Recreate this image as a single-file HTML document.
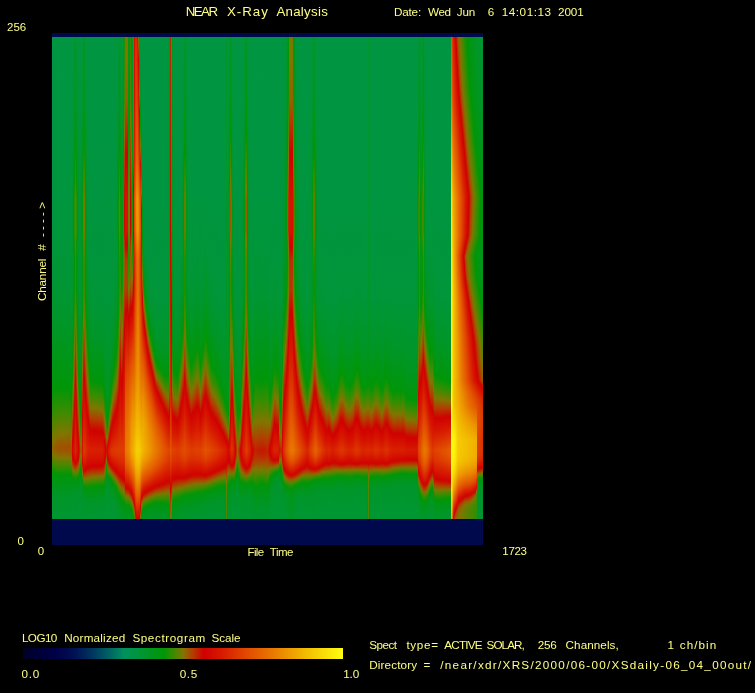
<!DOCTYPE html>
<html><head><meta charset="utf-8"><title>NEAR X-Ray Analysis</title>
<style>
html,body{margin:0;padding:0;background:#000}
body{width:755px;height:693px;position:relative;overflow:hidden;font-family:"Liberation Sans",sans-serif;color:#ffff84}
.t{position:absolute;white-space:pre;line-height:1}
.w{display:inline-block;white-space:pre;vertical-align:top}
#sp{position:absolute;left:52px;top:33px;width:431px;height:512px;background:#00094c;display:flex;align-items:flex-start}
#sp i{display:block;flex:none;width:1px;height:482px;margin-top:4px}
#cb{position:absolute;left:23px;top:648px;width:320px;height:11px;background:linear-gradient(90deg,#000028 0.0%,#000048 10.0%,#001054 16.0%,#003860 22.0%,#006464 27.0%,#00915f 31.5%,#00963c 36.0%,#00961e 40.0%,#009608 44.0%,#3c8c00 47.0%,#807600 50.0%,#b43c00 53.0%,#d00000 56.5%,#d71900 62.0%,#e14b00 70.0%,#e87800 78.0%,#f2b900 88.0%,#ffff10 100.0%)}
</style></head><body>
<div id="sp"><i style="background:linear-gradient(#009542 1px,#00963f 163px,#009636 239px,#00962d 275px,#009609 353px,#149305 363px,#408b00 381px,#7e7700 403px,#8f6500 411px,#867000 415px,#737a00 419px,#3e8b00 427px,#079507 435px,#00960a 437px,#009617 445px,#009628 459px,#009632 481px)"></i><i style="background:linear-gradient(#009542 1px,#00963f 163px,#009636 241px,#00962c 277px,#009608 353px,#3d8c00 379px,#7c7700 401px,#906400 409px,#926200 411px,#896c00 415px,#777900 419px,#418a00 427px,#0a9407 435px,#009609 437px,#009617 445px,#009628 459px,#009632 481px)"></i><i style="background:linear-gradient(#009542 1px,#00963f 163px,#009636 241px,#00962c 277px,#019608 353px,#3a8c00 377px,#6d7c00 395px,#7f7600 401px,#936100 409px,#955f00 411px,#8b6900 415px,#7b7800 419px,#368d01 429px,#009608 437px,#009616 445px,#009628 459px,#009632 481px)"></i><i style="background:linear-gradient(#009542 1px,#00963f 163px,#009636 239px,#00962d 275px,#009609 351px,#328e01 373px,#707b00 395px,#827400 401px,#965e00 409px,#985c00 411px,#8e6600 415px,#7e7700 419px,#398d00 429px,#019608 437px,#009616 445px,#009627 459px,#009632 481px)"></i><i style="background:linear-gradient(#009542 1px,#00963f 163px,#009636 239px,#00962d 275px,#009608 351px,#398c00 375px,#807600 399px,#995a00 409px,#9b5800 411px,#916300 415px,#827400 419px,#697e00 423px,#3c8c00 429px,#039508 437px,#00960b 439px,#009627 459px,#009632 481px)"></i><i style="background:linear-gradient(#009542 1px,#00963f 163px,#009636 239px,#00962d 275px,#019608 351px,#3b8c00 375px,#7d7700 397px,#9c5700 409px,#9e5500 411px,#945f00 415px,#7a7800 421px,#3f8b00 429px,#069507 437px,#00960a 439px,#009627 459px,#009632 481px)"></i><i style="background:linear-gradient(#009542 1px,#00963f 163px,#009636 239px,#00962d 275px,#009609 349px,#069507 353px,#378d01 373px,#7f7600 397px,#9e5500 409px,#a05300 411px,#965d00 415px,#7c7700 421px,#418a00 429px,#079507 437px,#00960a 439px,#009627 459px,#009632 481px)"></i><i style="background:linear-gradient(#009542 1px,#00963f 163px,#009636 239px,#00962d 275px,#009609 349px,#059507 353px,#378d01 373px,#7f7600 397px,#9e5400 409px,#a05200 411px,#975d00 415px,#7c7700 421px,#418a00 429px,#079507 437px,#00960a 439px,#009627 459px,#009632 481px)"></i><i style="background:linear-gradient(#009542 1px,#00963f 163px,#009636 241px,#00962c 277px,#019608 351px,#3c8c00 375px,#807600 397px,#9f5400 409px,#a15200 411px,#975c00 415px,#7d7700 421px,#418a00 429px,#079507 437px,#00960a 439px,#009627 459px,#009632 481px)"></i><i style="background:linear-gradient(#009542 1px,#00963f 163px,#009636 241px,#00962c 277px,#009608 351px,#3c8c00 375px,#807600 397px,#9f5300 409px,#a15100 411px,#975c00 415px,#7d7700 421px,#418a00 429px,#069507 437px,#00960a 439px,#009627 459px,#009632 481px)"></i><i style="background:linear-gradient(#009542 1px,#00963f 163px,#009636 241px,#00962d 277px,#009608 351px,#3c8c00 375px,#807600 397px,#a05300 409px,#a25100 411px,#985b00 415px,#7d7700 421px,#418a00 429px,#069507 437px,#00960a 439px,#009627 459px,#009632 481px)"></i><i style="background:linear-gradient(#009542 1px,#00963f 163px,#009637 241px,#00962c 279px,#009608 351px,#3c8c00 375px,#7a7800 395px,#807500 397px,#a05200 409px,#a25000 411px,#985b00 415px,#7e7700 421px,#418a00 429px,#069507 437px,#00960a 439px,#009627 459px,#009632 481px)"></i><i style="background:linear-gradient(#009542 1px,#00963f 163px,#009636 243px,#00962c 279px,#009608 351px,#3c8c00 375px,#7a7800 395px,#817500 397px,#a15200 409px,#a34f00 411px,#995a00 415px,#7e7700 421px,#418a00 429px,#069507 437px,#00960a 439px,#009627 459px,#009632 481px)"></i><i style="background:linear-gradient(#009542 1px,#00963f 163px,#009636 243px,#00962b 281px,#009608 351px,#3c8c00 375px,#7b7800 395px,#817500 397px,#a15100 409px,#a34f00 411px,#995a00 415px,#7e7700 421px,#418a00 429px,#059507 437px,#00960b 439px,#009628 459px,#009632 481px)"></i><i style="background:linear-gradient(#009542 1px,#00963f 163px,#009637 243px,#00962c 281px,#009608 351px,#3c8c00 375px,#7b7800 395px,#817500 397px,#a25100 409px,#a44e00 411px,#9a5900 415px,#7f7600 421px,#418a00 429px,#059507 437px,#00960b 439px,#009628 459px,#009632 481px)"></i><i style="background:linear-gradient(#009542 1px,#00963f 163px,#009637 243px,#00962c 281px,#009608 351px,#3c8c00 375px,#7b7800 395px,#a25000 409px,#a44e00 411px,#9a5900 415px,#7f7600 421px,#418a00 429px,#059507 437px,#00960b 439px,#009628 459px,#009632 481px)"></i><i style="background:linear-gradient(#009542 1px,#00963f 163px,#009636 245px,#00962b 283px,#009609 351px,#119306 359px,#3c8c00 375px,#7c7700 395px,#a34f00 409px,#a54d00 411px,#9b5800 415px,#7f7600 421px,#418a00 429px,#049507 437px,#00960b 439px,#009628 459px,#009632 481px)"></i><i style="background:linear-gradient(#009542 1px,#00963f 163px,#009636 245px,#00962b 283px,#009609 351px,#0c9406 357px,#3c8c00 375px,#7c7700 395px,#a34f00 409px,#a54d00 411px,#9b5800 415px,#807600 421px,#418a00 429px,#049507 437px,#00960b 439px,#009628 459px,#009632 481px)"></i><i style="background:linear-gradient(#009542 1px,#00963e 151px,#009636 253px,#009629 293px,#009609 355px,#0d9406 361px,#398d00 377px,#7c7700 397px,#a64b00 411px,#9e5500 415px,#837300 421px,#448900 429px,#049507 437px,#00960b 439px,#009629 459px,#009632 481px)"></i><i style="background:linear-gradient(#009541 1px,#009636 263px,#009625 311px,#009609 363px,#149305 371px,#3f8b00 385px,#7c7700 401px,#a64b00 413px,#9c5600 417px,#7e7700 423px,#388d01 431px,#059507 437px,#00960b 439px,#00961a 447px,#00962a 459px,#009633 481px)"></i><i style="background:linear-gradient(#009540 1px,#00963b 93px,#009630 163px,#009631 253px,#009626 283px,#019608 337px,#3e8c00 357px,#7f7600 373px,#b04000 387px,#ce0500 403px,#d00100 405px,#d30900 413px,#d10200 419px,#cd0600 421px,#b33d00 427px,#886d00 431px,#6e7c00 433px,#348d01 437px,#039508 441px,#009617 447px,#009629 457px,#00962f 465px,#009633 481px)"></i><i style="background:linear-gradient(#00963c 1px,#009633 83px,#00961a 163px,#009619 193px,#009620 223px,#00961d 251px,#009608 299px,#398c00 325px,#817500 349px,#b43b00 369px,#d00000 391px,#d51100 413px,#d40d00 417px,#d00000 423px,#c71300 425px,#af4200 429px,#7c7700 433px,#3b8c00 437px,#059507 441px,#00960d 443px,#009620 451px,#00962a 457px,#009632 481px)"></i><i style="background:linear-gradient(#009631 1px,#009627 63px,#009608 141px,#298f02 163px,#2d8e02 193px,#119306 209px,#009608 223px,#009608 239px,#059507 253px,#3b8c00 285px,#7e7700 315px,#b53b00 343px,#d00000 371px,#d71b00 413px,#d51200 419px,#d00100 425px,#c71400 427px,#ba2e00 429px,#a74b00 431px,#8b6a00 433px,#6a7d00 435px,#468900 437px,#0a9407 441px,#00960d 443px,#00961c 449px,#009629 457px,#009631 481px)"></i><i style="background:linear-gradient(#009628 1px,#00961b 63px,#009608 107px,#398d00 137px,#7a7800 163px,#7e7700 193px,#5a8200 209px,#428a00 223px,#428a00 237px,#478800 251px,#5a8200 263px,#7f7600 281px,#b43c00 313px,#d00000 347px,#d71800 393px,#da2700 413px,#d82000 417px,#d00100 427px,#b63700 431px,#7b7800 435px,#308e02 439px,#119306 441px,#00960b 443px,#00961b 449px,#009627 457px,#009630 481px)"></i><i style="background:linear-gradient(#009631 1px,#009627 63px,#009608 141px,#298f02 163px,#2d8e02 193px,#119306 209px,#009608 223px,#009608 239px,#059507 253px,#3b8c00 285px,#7e7700 315px,#b53b00 343px,#d00000 371px,#d71b00 413px,#d51200 419px,#d00100 425px,#c71400 427px,#ba2e00 429px,#a74b00 431px,#8b6a00 433px,#6a7d00 435px,#468900 437px,#0a9407 441px,#00960d 443px,#00961c 449px,#009629 457px,#009631 481px)"></i><i style="background:linear-gradient(#00963c 1px,#009633 83px,#00961a 163px,#009619 193px,#009620 223px,#00961d 251px,#009608 299px,#398c00 325px,#817500 349px,#b43b00 369px,#d00000 391px,#d51100 413px,#d40d00 417px,#d00000 423px,#c71300 425px,#af4200 429px,#7c7700 433px,#3b8c00 437px,#059507 441px,#00960d 443px,#009620 451px,#00962a 457px,#009632 481px)"></i><i style="background:linear-gradient(#009540 1px,#00963b 93px,#009630 163px,#009631 253px,#009626 283px,#019608 337px,#3e8b00 357px,#7f7600 373px,#b04000 387px,#ce0500 403px,#d00100 405px,#d30900 413px,#d10200 419px,#cd0600 421px,#b33d00 427px,#886d00 431px,#6e7c00 433px,#348d01 437px,#039508 441px,#009617 447px,#009629 457px,#00962f 465px,#009633 481px)"></i><i style="background:linear-gradient(#009541 1px,#009635 263px,#009625 305px,#009609 355px,#089507 359px,#368d01 373px,#807600 391px,#b43c00 405px,#c31c00 413px,#bc2b00 417px,#b63700 419px,#aa4700 421px,#876e00 425px,#717b00 427px,#3c8c00 431px,#0e9406 435px,#00960a 437px,#00961a 443px,#00962a 453px,#009630 463px,#009633 481px)"></i><i style="background:linear-gradient(#009541 1px,#009634 193px,#009635 263px,#009622 331px,#009616 357px,#009608 377px,#378d01 393px,#5e8100 401px,#7e7600 407px,#9a5800 413px,#955e00 415px,#817500 419px,#448900 425px,#079507 431px,#00960b 433px,#009622 443px,#00962b 451px,#009633 481px)"></i><i style="background:linear-gradient(#00963e 1px,#009638 89px,#009627 163px,#009625 193px,#00962d 223px,#00962d 263px,#009617 343px,#009608 373px,#368d01 391px,#628000 401px,#817400 407px,#9c5600 413px,#975c00 415px,#827400 419px,#468900 425px,#089507 431px,#00960b 433px,#009621 443px,#00962b 451px,#009632 481px)"></i><i style="background:linear-gradient(#009638 1px,#00962f 71px,#00960d 163px,#00960c 193px,#009615 231px,#009613 253px,#009608 277px,#3b8c00 307px,#817500 333px,#b33d00 355px,#d00000 379px,#d71800 413px,#d51100 419px,#d10300 425px,#cb0b00 427px,#b53a00 431px,#857100 435px,#657f00 437px,#458900 439px,#0d9406 443px,#00960b 445px,#00961a 451px,#009628 459px,#00962e 467px,#009632 481px)"></i><i style="background:linear-gradient(#009628 1px,#00961b 63px,#019608 109px,#3b8c00 139px,#787900 163px,#7b7800 193px,#548400 209px,#398c00 223px,#378d01 239px,#3a8c00 253px,#827400 287px,#b33d00 313px,#cf0200 341px,#d00100 343px,#d71900 381px,#dd3800 413px,#db2e00 419px,#d00200 433px,#c71400 435px,#ba2f00 437px,#a64c00 439px,#8a6b00 441px,#6a7d00 443px,#2b8f02 447px,#109306 449px,#00960a 451px,#00961a 457px,#009627 465px,#009630 481px)"></i><i style="background:linear-gradient(#009628 1px,#00961b 63px,#019608 109px,#3b8c00 139px,#777900 163px,#7b7800 193px,#538500 209px,#388d01 223px,#358d01 239px,#388d01 253px,#4e8600 265px,#7f7600 287px,#b43c00 315px,#d00000 343px,#d71900 381px,#dd3800 413px,#db2e00 419px,#d00200 433px,#c71400 435px,#ba2f00 437px,#a64c00 439px,#8a6b00 441px,#6a7d00 443px,#2b8f02 447px,#109306 449px,#00960a 451px,#00961a 457px,#009627 465px,#009630 481px)"></i><i style="background:linear-gradient(#009638 1px,#00962f 71px,#00960d 163px,#00960b 193px,#009612 223px,#019608 261px,#398c00 287px,#7d7700 311px,#b43c00 333px,#cf0200 355px,#d00100 357px,#d71900 389px,#dc3300 413px,#da2a00 419px,#d00000 433px,#b83300 437px,#886e00 441px,#677e00 443px,#298f02 447px,#0f9306 449px,#00960a 451px,#00961a 457px,#009628 465px,#009631 481px)"></i><i style="background:linear-gradient(#00963e 1px,#009637 91px,#009626 163px,#009623 223px,#009618 257px,#009608 285px,#3e8b00 309px,#817500 329px,#b33d00 347px,#cf0200 367px,#d71900 397px,#db2c00 413px,#d92300 419px,#d10400 431px,#cc0900 433px,#b53900 437px,#857100 441px,#667f00 443px,#2b8f02 447px,#129306 449px,#009609 451px,#009619 457px,#009628 465px,#009632 481px)"></i><i style="background:linear-gradient(#009541 1px,#00963d 97px,#009630 221px,#009625 255px,#009608 303px,#3d8c00 325px,#807600 343px,#b23e00 359px,#cf0200 377px,#d71800 403px,#d92500 413px,#d81d00 419px,#d00100 431px,#bd2800 435px,#b13f00 437px,#827400 441px,#478900 445px,#2c8f02 447px,#009608 451px,#009626 465px,#009632 481px)"></i><i style="background:linear-gradient(#009542 1px,#00963e 127px,#009636 227px,#00962c 263px,#009608 319px,#388d00 337px,#7c7700 353px,#b53a00 369px,#ce0400 383px,#d00100 385px,#d92200 413px,#d81e00 417px,#cf0200 431px,#bb2d00 435px,#ac4400 437px,#7e7700 441px,#428a00 445px,#298f03 447px,#129306 449px,#009609 451px,#009627 465px,#009632 481px)"></i><i style="background:linear-gradient(#009542 1px,#00963e 163px,#009637 251px,#00962a 287px,#009608 335px,#3a8c00 351px,#807600 365px,#b43c00 377px,#cd0600 389px,#d00100 391px,#d82000 413px,#d61500 421px,#d10300 429px,#cd0700 431px,#b93200 435px,#a84900 437px,#797800 441px,#3e8b00 445px,#269003 447px,#0f9406 449px,#00960a 451px,#009627 465px,#009632 481px)"></i><i style="background:linear-gradient(#009542 1px,#00963f 163px,#009637 263px,#009627 301px,#009609 343px,#0d9406 347px,#378d01 357px,#827300 371px,#b23e00 381px,#cf0100 393px,#d81f00 413px,#d61400 421px,#d10300 429px,#cb0a00 431px,#b83400 435px,#a54c00 437px,#8f6600 439px,#757900 441px,#3c8c00 445px,#249003 447px,#0d9406 449px,#00960a 451px,#009627 465px,#009632 481px)"></i><i style="background:linear-gradient(#009542 1px,#009540 163px,#009638 263px,#009627 301px,#009609 343px,#049507 345px,#358d01 357px,#817400 371px,#b13f00 381px,#cf0200 393px,#d81f00 413px,#d61400 421px,#d10200 429px,#cb0b00 431px,#b73500 435px,#a54d00 437px,#8e6700 439px,#747a00 441px,#3a8c00 445px,#229003 447px,#0c9406 449px,#00960b 451px,#009627 465px,#009632 481px)"></i><i style="background:linear-gradient(#009542 1px,#009540 163px,#009638 263px,#009628 301px,#009609 343px,#039608 345px,#348d01 357px,#817500 371px,#b14000 381px,#cf0200 393px,#d10200 395px,#d81f00 413px,#d61400 421px,#d10200 429px,#cb0b00 431px,#b73600 435px,#8d6800 439px,#737a00 441px,#398d00 445px,#219104 447px,#0a9407 449px,#00960b 451px,#009627 465px,#009632 481px)"></i><i style="background:linear-gradient(#009542 1px,#009540 163px,#009638 263px,#009628 301px,#00960a 343px,#029608 345px,#3c8c00 359px,#807600 371px,#b04100 381px,#cf0300 393px,#d10200 395px,#d81f00 413px,#d61400 421px,#d10200 429px,#cb0c00 431px,#b63700 435px,#8c6900 439px,#717b00 441px,#388d01 445px,#099407 449px,#00960b 451px,#009628 465px,#009632 481px)"></i><i style="background:linear-gradient(#009542 1px,#009540 163px,#009638 263px,#009627 303px,#019608 345px,#3b8c00 359px,#7e7700 371px,#b63700 383px,#ce0300 393px,#d10200 395px,#d81f00 413px,#d61400 421px,#d10200 429px,#ca0c00 431px,#b63700 435px,#8b6a00 439px,#707b00 441px,#368d01 445px,#089507 449px,#00960c 451px,#009628 465px,#009632 481px)"></i><i style="background:linear-gradient(#009542 1px,#009540 163px,#009638 263px,#009627 303px,#009608 345px,#3a8c00 359px,#7d7700 371px,#b63800 383px,#ce0400 393px,#d10200 395px,#d81f00 413px,#d61400 421px,#d10200 429px,#ca0d00 431px,#b63800 435px,#8a6b00 439px,#6f7c00 441px,#358d01 445px,#069507 449px,#00960c 451px,#009628 465px,#009632 481px)"></i><i style="background:linear-gradient(#009542 1px,#009540 163px,#009638 263px,#009627 303px,#009608 345px,#398d00 359px,#7c7700 371px,#b63800 383px,#ce0400 393px,#d00200 395px,#d81f00 413px,#d61400 421px,#d10200 429px,#ca0e00 431px,#b53900 435px,#896c00 439px,#6d7c00 441px,#348d01 445px,#059507 449px,#00960c 451px,#009628 465px,#009632 481px)"></i><i style="background:linear-gradient(#009542 1px,#009540 163px,#009638 263px,#009628 303px,#009609 345px,#0d9406 349px,#388d01 359px,#7b7800 371px,#857000 373px,#b53900 383px,#ce0500 393px,#d00200 395px,#d81f00 413px,#d61400 421px,#d00200 429px,#c90e00 431px,#b53a00 435px,#886d00 439px,#6c7c00 441px,#328e01 445px,#049507 449px,#00960d 451px,#009628 465px,#009632 481px)"></i><i style="background:linear-gradient(#009542 1px,#009540 163px,#009638 263px,#009628 303px,#009609 345px,#049507 347px,#368d01 359px,#7a7800 371px,#847100 373px,#b53a00 383px,#cd0600 393px,#d00100 395px,#d81f00 413px,#d61400 421px,#d00200 429px,#c90f00 431px,#b53b00 435px,#876e00 439px,#6b7d00 441px,#318e01 445px,#039608 449px,#009617 455px,#009629 465px,#009632 481px)"></i><i style="background:linear-gradient(#009542 1px,#009540 163px,#009638 263px,#009628 303px,#009609 345px,#039608 347px,#358d01 359px,#787800 371px,#847200 373px,#b53b00 383px,#cd0600 393px,#d00100 395px,#d81f00 413px,#d61400 421px,#d00100 429px,#c90f00 431px,#b43b00 435px,#866f00 439px,#697d00 441px,#308e02 445px,#019608 449px,#009617 455px,#009629 465px,#009632 481px)"></i><i style="background:linear-gradient(#009542 1px,#009540 163px,#009638 263px,#009628 303px,#00960a 345px,#029608 347px,#348d01 359px,#837300 373px,#b43b00 383px,#cd0700 393px,#d00100 395px,#d81f00 413px,#d61400 421px,#d00100 429px,#c81000 431px,#b43c00 435px,#857000 439px,#687e00 441px,#2f8e02 445px,#009608 449px,#009617 455px,#009629 465px,#009632 481px)"></i><i style="background:linear-gradient(#009542 1px,#009540 163px,#009638 263px,#009627 305px,#009608 347px,#3c8c00 361px,#827400 373px,#b43c00 383px,#cd0700 393px,#d00100 395px,#d81f00 413px,#d61400 421px,#d00100 429px,#c81100 431px,#b33d00 435px,#847200 439px,#667e00 441px,#2d8e02 445px,#009608 449px,#009618 455px,#009629 465px,#009632 481px)"></i><i style="background:linear-gradient(#009542 1px,#009540 163px,#009638 263px,#009628 305px,#009608 347px,#3b8c00 361px,#817500 373px,#b33d00 383px,#cc0800 393px,#d00100 395px,#d81f00 413px,#d61400 421px,#d00100 429px,#c81100 431px,#b23e00 435px,#837300 439px,#468900 443px,#2c8f02 445px,#009609 449px,#009627 463px,#00962f 471px,#009632 481px)"></i><i style="background:linear-gradient(#009542 1px,#009540 163px,#009639 263px,#009627 309px,#019608 351px,#3e8b00 365px,#797800 375px,#857100 377px,#b63800 387px,#cf0200 397px,#d71900 413px,#d51300 419px,#d10300 427px,#cc0900 429px,#b83300 433px,#a74a00 435px,#787900 439px,#3d8c00 443px,#249003 445px,#0d9406 447px,#00960a 449px,#009627 463px,#00962f 471px,#009632 481px)"></i><i style="background:linear-gradient(#009542 1px,#009540 163px,#00963a 263px,#009627 315px,#009617 341px,#009609 357px,#0d9406 361px,#3b8c00 371px,#787900 381px,#847200 383px,#b63800 393px,#d00000 403px,#d51100 413px,#d30b00 419px,#d00000 425px,#c90f00 427px,#b83400 431px,#a84900 433px,#7f7600 437px,#2f8e02 443px,#049508 447px,#00960c 449px,#009627 463px,#009632 481px)"></i><i style="background:linear-gradient(#009542 1px,#009540 163px,#00963a 263px,#009627 325px,#009618 349px,#009608 367px,#388d00 379px,#787900 389px,#847100 391px,#b23e00 399px,#d00100 409px,#d20800 413px,#d00100 419px,#cc0900 421px,#b33d00 427px,#8a6b00 431px,#707b00 433px,#388d01 437px,#089507 441px,#00960c 443px,#009622 453px,#00962a 459px,#009633 481px)"></i><i style="background:linear-gradient(#009542 1px,#00963a 263px,#009627 339px,#009618 363px,#009608 379px,#1c9104 385px,#3e8b00 391px,#7e7700 399px,#b63800 407px,#cc0800 413px,#c91000 415px,#c11f00 417px,#b83300 419px,#a54d00 421px,#8a6b00 423px,#687e00 425px,#438a00 427px,#039608 431px,#009620 439px,#00962b 445px,#009633 481px)"></i><i style="background:linear-gradient(#009542 1px,#00963a 263px,#009625 353px,#009619 375px,#00960b 387px,#039608 389px,#239003 393px,#368d01 395px,#677e00 399px,#837300 401px,#b33d00 405px,#cc0800 409px,#d20500 411px,#d40d00 413px,#d00100 421px,#c81000 423px,#b43c00 427px,#837200 431px,#438a00 435px,#0b9407 439px,#00960c 441px,#009624 451px,#00962c 457px,#009633 481px)"></i><i style="background:linear-gradient(#009542 1px,#00963a 263px,#009626 343px,#009617 365px,#009609 377px,#099507 379px,#318e01 385px,#538400 389px,#7c7700 393px,#b23e00 399px,#cf0200 405px,#d61700 413px,#d51200 417px,#d10300 423px,#cb0b00 425px,#b13f00 429px,#777900 433px,#308e02 437px,#129306 439px,#00960b 441px,#00961c 447px,#00962a 455px,#009630 463px,#009633 481px)"></i><i style="background:linear-gradient(#009542 1px,#00963a 263px,#009627 331px,#009618 353px,#009609 367px,#079507 369px,#378d01 377px,#7a7800 385px,#896c00 387px,#b53900 393px,#cd0700 399px,#d10300 401px,#d92300 413px,#d81d00 417px,#d10500 425px,#cb0a00 427px,#be2700 429px,#aa4700 431px,#8b6a00 433px,#657f00 435px,#3e8b00 437px,#1c9104 439px,#009609 441px,#00961c 447px,#00962b 455px,#009630 463px,#009633 481px)"></i><i style="background:linear-gradient(#009542 1px,#009540 163px,#00963a 263px,#009629 319px,#009618 343px,#00960a 357px,#039608 359px,#2d8e02 367px,#478800 371px,#757a00 377px,#847200 379px,#b63700 387px,#cb0c00 393px,#d00100 395px,#d71b00 407px,#db2d00 413px,#da2600 417px,#d10400 427px,#c91000 429px,#ba2f00 431px,#a05200 433px,#807600 435px,#2f8e02 439px,#0e9406 441px,#00960c 443px,#009623 451px,#00962c 457px,#009633 481px)"></i><i style="background:linear-gradient(#009542 1px,#009540 163px,#00963a 263px,#009629 309px,#009617 335px,#009609 349px,#109306 353px,#398d00 361px,#7c7700 371px,#b63800 381px,#ce0500 389px,#d10200 391px,#d71800 403px,#dc3300 413px,#da2600 419px,#d00200 429px,#c51800 431px,#b63800 433px,#985b00 435px,#757900 437px,#4c8700 439px,#079507 443px,#00960e 445px,#009624 453px,#00962c 459px,#009633 481px)"></i><i style="background:linear-gradient(#009542 1px,#009540 163px,#009638 263px,#009627 303px,#009609 341px,#0d9406 345px,#3d8c00 355px,#7b7800 365px,#b23e00 375px,#ce0400 385px,#d10200 387px,#d71900 401px,#dd3700 413px,#dc3000 417px,#d20700 429px,#ce0400 431px,#ae4300 435px,#8e6600 437px,#6a7d00 439px,#428a00 441px,#029608 445px,#00961a 451px,#00962a 459px,#009630 467px,#009633 481px)"></i><i style="background:linear-gradient(#009542 1px,#009540 163px,#009638 257px,#009629 293px,#009608 335px,#3c8c00 349px,#817500 361px,#b23e00 371px,#d00100 383px,#d71900 399px,#dd3800 413px,#db2d00 419px,#d10300 431px,#c81200 433px,#ba2f00 435px,#a25000 437px,#847100 439px,#398d00 443px,#009609 447px,#00961b 453px,#00962a 461px,#009633 481px)"></i><i style="background:linear-gradient(#009542 1px,#00963f 163px,#009638 245px,#00962b 281px,#009609 327px,#029608 329px,#3a8c00 343px,#7a7800 355px,#847100 357px,#b33d00 367px,#cf0200 379px,#d71900 397px,#dd3900 413px,#db2f00 419px,#cf0200 433px,#b43b00 437px,#797800 441px,#328e01 445px,#159305 447px,#00960a 449px,#00961b 455px,#00962a 463px,#009633 481px)"></i><i style="background:linear-gradient(#009542 1px,#00963e 149px,#009637 237px,#00962d 271px,#009609 321px,#0b9406 325px,#398c00 337px,#7f7600 351px,#b33d00 363px,#cd0600 375px,#d00100 377px,#d71800 395px,#de3a00 413px,#dc3100 419px,#d10300 433px,#c90e00 435px,#bc2a00 437px,#aa4700 439px,#8e6700 441px,#6d7c00 443px,#4b8700 445px,#109306 449px,#00960b 451px,#00961b 457px,#00962a 465px,#009632 481px)"></i><i style="background:linear-gradient(#009541 1px,#009634 235px,#00962c 263px,#009608 315px,#398d00 331px,#7a7800 345px,#837300 347px,#b43c00 359px,#d00000 373px,#d71800 393px,#de3c00 413px,#db2d00 421px,#d00000 435px,#b73500 439px,#857100 443px,#428a00 447px,#269003 449px,#0b9406 451px,#00960b 453px,#00961b 459px,#00962a 467px,#009632 481px)"></i><i style="background:linear-gradient(#00963e 1px,#009637 89px,#009626 163px,#009625 193px,#00962a 223px,#009628 241px,#009621 263px,#019608 303px,#398d00 321px,#7b7800 337px,#837300 339px,#b53b00 353px,#ce0500 367px,#d00100 369px,#d71900 391px,#de3c00 413px,#db2f00 421px,#d10400 435px,#cc0800 437px,#b53a00 441px,#827400 445px,#438a00 449px,#278f03 451px,#0e9406 453px,#00960a 455px,#009625 467px,#009631 481px)"></i><i style="background:linear-gradient(#009635 1px,#00962c 63px,#009609 155px,#0b9407 163px,#0d9406 193px,#009608 201px,#009611 223px,#009612 239px,#009612 253px,#009608 275px,#3c8c00 303px,#817500 325px,#b43b00 343px,#cf0200 361px,#d71800 387px,#de3c00 413px,#dc3000 421px,#d10200 437px,#c90f00 439px,#b13f00 443px,#817400 447px,#458900 451px,#2b8f02 453px,#009609 457px,#009623 469px,#00962f 481px)"></i><i style="background:linear-gradient(#00962a 1px,#00961d 63px,#009608 115px,#3a8c00 145px,#667e00 163px,#697e00 193px,#3d8c00 211px,#288f03 223px,#249003 239px,#269003 253px,#3e8b00 267px,#807600 295px,#b53a00 321px,#d00100 345px,#d71800 379px,#de3d00 413px,#dc3100 421px,#d00000 439px,#bb2d00 443px,#ac4500 445px,#7e7700 449px,#458900 453px,#009608 459px,#009621 471px,#00962d 481px)"></i><i style="background:linear-gradient(#009634 1px,#00962b 63px,#009608 151px,#169205 163px,#239003 193px,#189205 209px,#199205 223px,#2b8f02 239px,#408b00 253px,#807600 279px,#b53b00 305px,#d00100 333px,#d71900 373px,#de3c00 413px,#db2d00 423px,#d10300 439px,#cb0a00 441px,#b73600 445px,#8e6600 449px,#767900 451px,#3f8b00 455px,#129306 459px,#009609 461px,#009622 473px,#00962c 481px)"></i><i style="background:linear-gradient(#00963d 1px,#009633 101px,#009620 163px,#009616 217px,#009609 249px,#019608 251px,#169205 261px,#3c8c00 277px,#7d7700 299px,#b33d00 321px,#d00000 345px,#d71900 379px,#de3c00 413px,#db2e00 423px,#d00000 441px,#b23e00 447px,#886d00 451px,#6f7c00 453px,#3a8c00 457px,#0f9306 461px,#009609 463px,#00961b 471px,#00962a 481px)"></i><i style="background:linear-gradient(#00963b 1px,#009631 97px,#009614 209px,#009609 237px,#0d9406 245px,#328e01 263px,#7f7600 291px,#b53a00 315px,#d00000 339px,#d71a00 377px,#de3c00 413px,#db2f00 423px,#d10200 441px,#cb0b00 443px,#b83300 447px,#a84900 449px,#7f7600 453px,#338e01 459px,#0a9407 463px,#00960a 465px,#009628 481px)"></i><i style="background:linear-gradient(#009627 1px,#00961f 63px,#009608 133px,#298f03 163px,#3e8b00 193px,#358d01 201px,#328e01 209px,#3d8c00 225px,#5d8100 243px,#7e7600 259px,#b33d00 287px,#d00000 319px,#d71900 365px,#de3d00 413px,#dc3400 421px,#d10400 441px,#ce0400 443px,#b04000 449px,#886e00 453px,#707b00 455px,#3d8c00 459px,#009608 465px,#009626 481px)"></i><i style="background:linear-gradient(#1e9104 1px,#3c8c00 63px,#7f7600 97px,#b33d00 129px,#cb0a00 163px,#cd0600 193px,#c02300 201px,#af4100 211px,#975c00 223px,#9b5800 237px,#a64b00 253px,#b43c00 261px,#d00000 293px,#d71900 345px,#e04600 413px,#dd3600 423px,#d10200 443px,#ca0d00 445px,#b73500 449px,#a64c00 451px,#7c7700 455px,#318e01 461px,#099507 465px,#00960b 467px,#009624 481px)"></i><i style="background:linear-gradient(#757a00 1px,#807600 21px,#936100 63px,#b43c00 83px,#d00100 117px,#d51300 163px,#d51300 193px,#d00000 209px,#b63800 223px,#ac4500 243px,#af4200 253px,#d00100 275px,#d00100 277px,#d71900 305px,#e14a00 349px,#e45f00 373px,#e77100 403px,#e77300 413px,#e76f00 417px,#e56300 423px,#e14d00 431px,#d61400 445px,#d20600 449px,#ce0400 451px,#b53a00 455px,#827400 459px,#438a00 463px,#288f03 465px,#119306 467px,#009609 469px,#009621 481px)"></i><i style="background:linear-gradient(#757a00 1px,#807600 21px,#936100 63px,#b43c00 83px,#d00100 117px,#d51300 163px,#d51300 193px,#d00000 209px,#b63800 223px,#af4100 235px,#ae4300 243px,#b23e00 253px,#cf0100 273px,#d00100 275px,#d71800 301px,#e14b00 345px,#e46100 369px,#e87500 401px,#e87800 413px,#e77400 417px,#e66800 423px,#e25200 431px,#d61700 445px,#d00100 451px,#c51700 453px,#b83300 455px,#886e00 459px,#687e00 461px,#488800 463px,#149305 467px,#009609 469px,#009621 481px)"></i><i style="background:linear-gradient(#757a00 1px,#807600 21px,#936100 63px,#b43c00 83px,#d00100 117px,#d51300 163px,#d51300 193px,#d00000 209px,#b63800 223px,#b13f00 233px,#b04100 243px,#b53a00 253px,#cf0200 271px,#d00100 273px,#d71900 299px,#e14a00 339px,#e56500 367px,#e97c00 403px,#e97e00 413px,#e87a00 417px,#e66900 425px,#e24f00 433px,#d71a00 445px,#d10300 451px,#c90f00 453px,#bc2b00 455px,#a94900 457px,#8d6700 459px,#6f7c00 461px,#308e02 465px,#009608 469px,#009621 481px)"></i><i style="background:linear-gradient(#009618 1px,#009613 63px,#009608 93px,#3c8c00 135px,#6b7d00 163px,#6f7c00 193px,#448900 203px,#318e01 209px,#219004 217px,#1e9104 223px,#288f03 229px,#3c8c00 237px,#5a8200 245px,#7d7700 253px,#b63800 267px,#ce0400 279px,#d00100 281px,#d71a00 303px,#e14a00 337px,#e45d00 355px,#e87600 385px,#ea8300 413px,#e87700 421px,#e35b00 431px,#e14c00 435px,#d81d00 445px,#d20500 451px,#cc0900 453px,#ad4400 457px,#906400 459px,#717b00 461px,#2e8e02 465px,#139305 467px,#00960a 469px,#009626 481px)"></i><i style="background:linear-gradient(#009618 1px,#009612 63px,#009608 91px,#3d8c00 133px,#6f7c00 163px,#737a00 193px,#478800 203px,#348d01 209px,#249003 217px,#219104 223px,#308e02 231px,#418a00 237px,#7d7700 251px,#b04000 263px,#cf0100 277px,#d71a00 299px,#e14900 331px,#e56400 355px,#e98100 389px,#eb8b00 413px,#e97f00 421px,#e56200 431px,#e14b00 437px,#d71a00 447px,#d10200 453px,#c61500 455px,#b83300 457px,#827300 461px,#3c8c00 465px,#059507 469px,#00960d 471px,#009625 481px)"></i><i style="background:linear-gradient(#348d01 1px,#538400 63px,#7f7600 85px,#b43c00 117px,#d00000 157px,#d00100 195px,#b53900 209px,#886d00 223px,#886d00 233px,#926200 243px,#a74a00 253px,#b53900 257px,#d00000 271px,#d71900 293px,#e14c00 327px,#e66b00 353px,#eb8a00 387px,#ed9700 413px,#eb8a00 421px,#e56400 433px,#e14d00 439px,#d71a00 449px,#d00200 455px,#c41900 457px,#b63700 459px,#7e7700 463px,#388d01 467px,#029608 471px,#009620 481px)"></i><i style="background:linear-gradient(#009609 1px,#019608 11px,#169205 63px,#3b8c00 87px,#7e7700 121px,#b23e00 157px,#b73500 163px,#b83400 193px,#b43c00 195px,#7e7700 209px,#608000 217px,#518500 223px,#5a8200 231px,#677e00 237px,#817500 245px,#9b5800 253px,#b53a00 259px,#cf0300 271px,#d10200 273px,#d71800 291px,#e14c00 323px,#e66d00 349px,#ec9300 385px,#eea100 413px,#ec9500 421px,#e66e00 433px,#e14d00 441px,#d71900 451px,#d00000 457px,#b33d00 461px,#955f00 463px,#757a00 465px,#2f8e02 469px,#139305 471px,#00960a 473px,#00961e 481px)"></i><i style="background:linear-gradient(#009625 1px,#009621 63px,#009612 123px,#009608 149px,#169205 163px,#179205 179px,#1e9104 193px,#0e9406 203px,#0f9406 211px,#189205 217px,#278f03 223px,#3f8b00 229px,#7c7700 241px,#b23f00 253px,#cd0600 265px,#d00100 267px,#d71a00 287px,#e14e00 319px,#ea8400 363px,#ee9f00 391px,#f0aa00 413px,#ee9e00 421px,#ea8600 429px,#e25000 443px,#d81c00 453px,#d10300 459px,#c61500 461px,#b83400 463px,#807600 467px,#398d00 471px,#019608 475px,#009619 481px)"></i><i style="background:linear-gradient(#5e8100 1px,#6d7c00 63px,#807500 85px,#9f5400 123px,#b43d00 131px,#cf0100 153px,#d20700 163px,#d10400 193px,#d00000 197px,#be2700 211px,#b93200 217px,#b63700 223px,#c02300 235px,#d00000 249px,#d71900 275px,#e14d00 313px,#ec9500 375px,#f0ae00 405px,#f1b200 413px,#f0ae00 417px,#ed9700 427px,#e66c00 439px,#e14c00 447px,#d71900 457px,#d00100 463px,#b63700 467px,#807600 471px,#3b8c00 475px,#209104 477px,#069507 479px,#00960d 481px)"></i><i style="background:linear-gradient(#d51100 1px,#d61500 63px,#da2600 123px,#e25100 163px,#e14c00 193px,#d92200 223px,#d92400 253px,#dc3100 271px,#e45f00 321px,#f1b300 403px,#f2ba00 413px,#f1b000 421px,#ed9600 431px,#e66a00 443px,#e14a00 451px,#d71900 461px,#d10300 467px,#c90f00 469px,#ab4600 473px,#906400 475px,#757a00 477px,#388d00 481px)"></i><i style="background:linear-gradient(#da2900 1px,#dc3100 23px,#dc3400 63px,#e04800 123px,#e77000 163px,#e66b00 193px,#df4300 223px,#df4300 253px,#e87800 331px,#f4c603 413px,#f2b800 425px,#ed9900 437px,#e25200 457px,#d81d00 469px,#d00100 477px,#ba3000 481px)"></i><i style="background:linear-gradient(#da2900 1px,#df4100 63px,#e56300 123px,#ec9300 163px,#eb8c00 193px,#e46100 223px,#e45c00 253px,#e45f00 263px,#ea8600 331px,#f2b800 389px,#f6ce05 413px,#f5c904 419px,#f3bd01 427px,#ed9a00 441px,#e14d00 463px,#d71900 475px,#d10500 481px)"></i><i style="background:linear-gradient(#d51200 1px,#dd3900 63px,#e25000 89px,#e56300 123px,#ed9900 163px,#ed9900 193px,#e76f00 223px,#e66d00 253px,#ec9200 335px,#f2b900 387px,#f6cf05 413px,#f5c803 421px,#f2ba00 429px,#ed9600 443px,#e24f00 463px,#d71b00 475px,#d20700 481px)"></i><i style="background:linear-gradient(#667e00 1px,#827400 5px,#b14000 13px,#cf0200 23px,#d20800 29px,#d71800 63px,#e14c00 123px,#eb8a00 163px,#ec9100 193px,#e66d00 223px,#e66d00 253px,#ec9400 339px,#efa800 369px,#f6ce05 413px,#f5ca04 419px,#f3be01 427px,#ed9a00 441px,#e14d00 463px,#d71900 475px,#d10500 481px)"></i><i style="background:linear-gradient(#00962a 1px,#009609 35px,#069507 37px,#398c00 47px,#7c7700 57px,#936000 61px,#b63800 67px,#cf0300 75px,#d10300 77px,#d40e00 83px,#db2b00 123px,#e66900 163px,#e76f00 193px,#e25100 223px,#e35500 253px,#e97b00 325px,#ed9600 357px,#f2b900 393px,#f6cc04 413px,#f5c803 419px,#f2bc01 427px,#ee9d00 439px,#e25100 461px,#d81d00 473px,#d00200 481px)"></i><i style="background:linear-gradient(#00963e 1px,#009638 29px,#00962e 49px,#009623 63px,#009609 87px,#069507 89px,#398c00 99px,#7b7800 109px,#876e00 111px,#b43c00 119px,#bf2500 123px,#cd0500 127px,#d10300 129px,#d71900 139px,#dc3100 147px,#e14a00 163px,#e25100 193px,#dc3100 223px,#dd3900 253px,#e77300 331px,#f2b800 397px,#f4c603 413px,#f2b900 423px,#ed9800 435px,#e25300 453px,#d71900 465px,#d10300 471px,#c81100 473px,#bb2c00 475px,#a94900 477px,#8e6600 479px,#717b00 481px)"></i><i style="background:linear-gradient(#009542 1px,#00963e 55px,#009636 87px,#009626 113px,#009609 137px,#089507 139px,#2f8e02 145px,#717b00 153px,#837300 155px,#af4200 161px,#b83200 163px,#ce0500 173px,#d00100 175px,#d51100 193px,#d40e00 223px,#d51300 231px,#d71a00 253px,#df4200 297px,#e87700 347px,#f0ac00 391px,#f3bf01 413px,#f1b400 421px,#ec9300 431px,#e35500 445px,#d81d00 455px,#d10200 461px,#c41a00 463px,#b53a00 465px,#975c00 467px,#767900 469px,#2f8e02 473px,#129306 475px,#00960a 477px,#009616 481px)"></i><i style="background:linear-gradient(#009542 1px,#009540 85px,#00963b 125px,#009633 143px,#009614 177px,#009608 201px,#139306 213px,#2d8e02 223px,#488800 229px,#7e7700 239px,#b43c00 251px,#cf0200 263px,#d10200 265px,#d71800 283px,#e25500 319px,#ec9000 363px,#f0ad00 391px,#f2b900 413px,#f0ac00 421px,#ec9200 429px,#e25500 443px,#d81c00 453px,#d00000 459px,#af4100 463px,#8f6600 465px,#6a7d00 467px,#438a00 469px,#059507 473px,#00960e 475px,#00961e 481px)"></i><i style="background:linear-gradient(#009542 1px,#00963f 139px,#009634 199px,#009628 221px,#00960a 245px,#069507 247px,#398d00 255px,#777900 263px,#866f00 265px,#b73600 273px,#cf0200 281px,#d71700 295px,#e35500 325px,#eb8c00 361px,#f0a900 389px,#f1b300 413px,#efa500 421px,#eb8a00 429px,#e14c00 443px,#d81d00 451px,#d00100 457px,#b04100 461px,#8f6600 463px,#6a7d00 465px,#428a00 467px,#049507 471px,#00960e 473px,#009623 481px)"></i><i style="background:linear-gradient(#009542 1px,#009540 159px,#00963b 201px,#00962d 227px,#009609 255px,#179205 259px,#418a00 265px,#847200 273px,#b73600 281px,#d00000 289px,#d71900 303px,#e14e00 327px,#ea8700 363px,#efa400 389px,#f0ae00 413px,#eea100 421px,#ea8500 429px,#e25100 441px,#d71900 451px,#d20700 455px,#cc0900 457px,#bc2b00 459px,#a44e00 461px,#847200 463px,#378d01 467px,#179205 469px,#009609 471px,#009625 481px)"></i><i style="background:linear-gradient(#009542 1px,#009540 163px,#00963b 209px,#009636 225px,#00962d 237px,#00960a 263px,#049507 265px,#2e8e02 271px,#3d8c00 273px,#827400 281px,#b73600 289px,#cb0b00 295px,#d00100 297px,#d71b00 311px,#e14d00 333px,#ea8500 367px,#eea000 391px,#f0aa00 413px,#ee9c00 421px,#e98100 429px,#e14d00 441px,#d61500 451px,#d10300 455px,#c61500 457px,#b73600 459px,#995a00 461px,#777900 463px,#2c8f02 467px,#0e9406 469px,#00960c 471px,#009626 481px)"></i><i style="background:linear-gradient(#009542 1px,#009540 163px,#00963b 221px,#00962d 247px,#009608 273px,#398d00 281px,#817500 289px,#ac4500 295px,#b73500 297px,#cc0900 303px,#d00200 305px,#d71900 317px,#e14d00 339px,#e98000 369px,#ed9a00 391px,#efa500 413px,#ed9800 421px,#e66d00 433px,#e14900 441px,#d71b00 449px,#d00000 455px,#ae4200 459px,#8e6700 461px,#697d00 463px,#428a00 465px,#059507 469px,#00960e 471px,#009627 481px)"></i><i style="background:linear-gradient(#009542 1px,#009540 163px,#00963a 231px,#00962d 257px,#00960a 281px,#079507 283px,#348d01 289px,#7f7600 297px,#ad4400 303px,#b83400 305px,#cd0600 311px,#d10300 313px,#d71b00 325px,#e14d00 345px,#e98100 375px,#ed9800 395px,#eea100 413px,#ec9300 421px,#e77000 431px,#e24e00 439px,#d71700 449px,#d20600 453px,#cb0b00 455px,#bb2c00 457px,#a34f00 459px,#837300 461px,#378d01 465px,#189205 467px,#009609 469px,#009628 481px)"></i><i style="background:linear-gradient(#009542 1px,#009540 163px,#00963a 237px,#00962e 263px,#009609 287px,#099407 289px,#378d01 295px,#827300 303px,#b14000 309px,#d00100 317px,#d71800 329px,#e14b00 349px,#e66d00 367px,#ec9100 393px,#ee9c00 413px,#eb8f00 421px,#e66d00 431px,#e14b00 439px,#d81f00 447px,#d10300 453px,#c71400 455px,#b73500 457px,#7a7800 461px,#308e02 465px,#119306 467px,#00960b 469px,#009629 481px)"></i><i style="background:linear-gradient(#009542 1px,#009540 163px,#00963a 243px,#009630 265px,#00960b 291px,#029608 293px,#209104 297px,#408b00 301px,#7a7800 307px,#aa4700 313px,#b73600 315px,#cd0600 321px,#d10200 323px,#d61700 333px,#e14a00 353px,#e66c00 371px,#eb8d00 395px,#ed9800 413px,#eb8a00 421px,#e66900 431px,#e04700 439px,#d71b00 447px,#d00100 453px,#b33d00 457px,#946000 459px,#717b00 461px,#4b8700 463px,#0c9406 467px,#00960c 469px,#009629 481px)"></i><i style="background:linear-gradient(#009542 1px,#009540 163px,#00963a 249px,#009635 263px,#00962d 273px,#009609 297px,#099407 299px,#388d01 305px,#717b00 311px,#847100 313px,#b43c00 319px,#ca0c00 325px,#d00100 327px,#d71a00 339px,#e14900 357px,#e66800 373px,#ea8800 395px,#ec9300 413px,#eb8b00 419px,#e66c00 429px,#e14d00 437px,#d71800 447px,#d20700 451px,#ce0400 453px,#ac4500 457px,#8d6800 459px,#697d00 461px,#448a00 463px,#079507 467px,#00960d 469px,#009629 481px)"></i><i style="background:linear-gradient(#009542 1px,#009540 163px,#00963a 253px,#009637 263px,#00962d 277px,#00960b 301px,#029608 303px,#209104 307px,#418a00 311px,#7d7700 317px,#ad4300 323px,#b93200 325px,#cf0200 331px,#d71900 343px,#e14d00 363px,#e56800 377px,#ea8400 397px,#eb8f00 413px,#e98100 421px,#e56200 431px,#e14900 437px,#d61600 447px,#d10500 451px,#ca0c00 453px,#bb2c00 455px,#a54d00 457px,#866f00 459px,#3c8c00 463px,#029608 467px,#009619 473px,#00962a 481px)"></i><i style="background:linear-gradient(#009542 1px,#009540 163px,#009639 259px,#00962c 283px,#009609 307px,#0a9407 309px,#398c00 315px,#747a00 321px,#876e00 323px,#b63800 329px,#cd0700 335px,#d10300 337px,#d71800 347px,#e04800 365px,#e56400 379px,#e98100 399px,#eb8a00 413px,#e97d00 421px,#e45e00 431px,#e04500 437px,#d81c00 445px,#d10300 451px,#c61500 453px,#b83400 455px,#7f7600 459px,#368d01 463px,#009609 467px,#00961a 473px,#00962a 481px)"></i><i style="background:linear-gradient(#009542 1px,#009540 163px,#009639 263px,#00962a 289px,#00960b 311px,#039508 313px,#229003 317px,#448900 321px,#817500 327px,#b23e00 333px,#ca0c00 339px,#d00100 341px,#d61700 351px,#e04800 369px,#e46000 381px,#e97d00 401px,#ea8500 413px,#e97d00 419px,#e46100 429px,#e14b00 435px,#d71900 445px,#d00000 451px,#b43c00 455px,#965d00 457px,#767900 459px,#308e02 463px,#139305 465px,#00960a 467px,#00961b 473px,#00962a 481px)"></i><i style="background:linear-gradient(#009542 1px,#009540 163px,#00963a 263px,#00962b 293px,#009609 317px,#0b9406 319px,#3c8c00 325px,#797800 331px,#8b6a00 333px,#ac4500 337px,#b83300 339px,#d00000 345px,#d71b00 357px,#e04700 373px,#e45c00 383px,#e87500 399px,#e98000 413px,#e77400 421px,#e45d00 429px,#e04600 435px,#d61600 445px,#d20600 449px,#cd0700 451px,#ad4400 455px,#8f6500 457px,#6e7c00 459px,#4a8800 461px,#0e9406 465px,#00960b 467px,#00961b 473px,#00962b 481px)"></i><i style="background:linear-gradient(#009542 1px,#009540 163px,#00963a 263px,#00962b 297px,#00960b 321px,#049507 323px,#249003 327px,#478800 331px,#857100 337px,#b63800 343px,#ce0400 349px,#d10400 351px,#d61600 359px,#e04700 377px,#e45d00 387px,#e77200 401px,#e97c00 413px,#e77000 421px,#e35900 429px,#e14b00 433px,#d81c00 443px,#d10400 449px,#c90f00 451px,#bb2d00 453px,#a54c00 455px,#886d00 457px,#667f00 459px,#428a00 461px,#099407 465px,#00960c 467px,#009620 475px,#00962b 481px)"></i><i style="background:linear-gradient(#009542 1px,#009540 163px,#00963a 263px,#00962c 299px,#00961a 315px,#009609 325px,#0a9407 327px,#3a8c00 333px,#787900 339px,#8a6b00 341px,#ac4500 345px,#b93200 347px,#d00100 353px,#e35600 387px,#e66d00 401px,#e87700 413px,#e66c00 421px,#e35600 429px,#d10200 449px,#c61500 451px,#b83300 453px,#847200 457px,#3e8b00 461px,#079507 465px,#00960d 467px,#009620 475px,#00962b 481px)"></i><i style="background:linear-gradient(#009542 1px,#009540 163px,#00963a 263px,#009633 287px,#00962b 301px,#009619 317px,#009609 327px,#0c9406 329px,#3c8c00 335px,#787800 341px,#8a6a00 343px,#ac4500 347px,#b83300 349px,#d00000 355px,#e25400 389px,#e66b00 403px,#e77300 413px,#e56800 421px,#e25200 429px,#d00100 449px,#b73600 453px,#827400 457px,#3e8b00 461px,#089507 465px,#00960c 467px,#00962a 481px)"></i><i style="background:linear-gradient(#009542 1px,#009540 163px,#00963a 263px,#00962c 301px,#009618 319px,#009608 329px,#3e8b00 337px,#797800 343px,#8b6a00 345px,#ac4500 349px,#b83400 351px,#cf0100 357px,#d71a00 369px,#de3b00 381px,#e25200 391px,#e56600 403px,#e66e00 413px,#e56800 419px,#e35500 427px,#df4000 433px,#d61500 443px,#cf0100 449px,#b53900 453px,#807600 457px,#3d8c00 461px,#089507 465px,#00960c 467px,#00962a 481px)"></i><i style="background:linear-gradient(#009542 1px,#009540 163px,#00963a 263px,#00962c 301px,#00961a 319px,#00960b 329px,#039508 331px,#209104 335px,#3f8b00 339px,#7a7800 345px,#ab4600 351px,#b73500 353px,#ce0300 359px,#d10300 361px,#d71900 371px,#e25000 393px,#e56300 405px,#e66a00 413px,#e56400 419px,#e25100 427px,#d20600 447px,#cd0600 449px,#b43c00 453px,#7e7700 457px,#3d8c00 461px,#099507 465px,#00960c 467px,#00962a 481px)"></i><i style="background:linear-gradient(#009542 1px,#009540 163px,#00963a 263px,#00962b 303px,#009619 321px,#00960a 331px,#069507 333px,#318e01 339px,#7b7800 347px,#ab4600 353px,#b73500 355px,#ce0500 361px,#d10300 363px,#d71800 373px,#e14a00 393px,#e45f00 405px,#e56600 413px,#e45f00 419px,#e14d00 427px,#d10400 447px,#cb0b00 449px,#b13f00 453px,#7c7700 457px,#3c8c00 461px,#0a9407 465px,#00960c 467px,#009629 481px)"></i><i style="background:linear-gradient(#009542 1px,#009540 163px,#00963a 263px,#00962c 303px,#00961a 321px,#009609 333px,#089507 335px,#338e01 341px,#7b7800 349px,#b73600 357px,#cd0700 363px,#d10200 365px,#e14d00 397px,#e45c00 407px,#e56200 413px,#e45b00 419px,#e14a00 427px,#d10300 447px,#c90f00 449px,#ae4300 453px,#7a7800 457px,#3c8c00 461px,#0a9407 465px,#00960b 467px,#009629 481px)"></i><i style="background:linear-gradient(#009542 1px,#009540 163px,#00963a 263px,#00962b 305px,#009619 323px,#009608 335px,#358d01 343px,#7c7700 351px,#b63700 359px,#cc0900 365px,#d10200 367px,#d71b00 379px,#e14b00 399px,#e45d00 413px,#e35700 419px,#e14b00 425px,#d00100 447px,#c71400 449px,#ab4600 453px,#787900 457px,#3b8c00 461px,#0b9407 465px,#00960b 467px,#009628 481px)"></i><i style="background:linear-gradient(#009542 1px,#009540 163px,#00963a 263px,#00962b 305px,#00961a 323px,#00960b 335px,#019608 337px,#288f03 343px,#478900 347px,#7c7700 353px,#b63800 361px,#cb0a00 367px,#d00100 369px,#d71900 381px,#e14900 401px,#e35900 413px,#e25300 419px,#e04700 425px,#d00000 447px,#ba3000 451px,#a84a00 453px,#906500 455px,#767900 457px,#3b8c00 461px,#0c9406 465px,#00960b 467px,#009627 481px)"></i><i style="background:linear-gradient(#009542 1px,#009540 163px,#00963a 263px,#00962b 305px,#00961a 325px,#00960a 337px,#049507 339px,#2a8f02 345px,#488800 349px,#7d7700 355px,#b63900 363px,#d00100 371px,#d71800 383px,#e04700 403px,#e35500 413px,#e04800 423px,#d10500 445px,#ce0500 447px,#b83400 451px,#8d6700 455px,#737a00 457px,#3a8c00 461px,#239003 463px,#0c9406 465px,#00960a 467px,#009627 481px)"></i><i style="background:linear-gradient(#009542 1px,#009540 163px,#00963a 263px,#00962a 307px,#009618 327px,#009608 339px,#3e8b00 349px,#817500 357px,#b63800 365px,#d00000 373px,#d71700 385px,#df4100 403px,#e25100 413px,#e14b00 419px,#df3f00 425px,#d10300 445px,#cb0a00 447px,#b63700 451px,#8c6900 455px,#727b00 457px,#3a8c00 461px,#239003 463px,#0d9406 465px,#00960a 467px,#009626 481px)"></i><i style="background:linear-gradient(#009542 1px,#009540 163px,#00963a 263px,#00962a 305px,#009617 327px,#009608 339px,#398c00 349px,#777900 357px,#867000 359px,#b73600 367px,#d00000 375px,#e14d00 413px,#e04800 419px,#de3b00 425px,#d10200 445px,#ca0e00 447px,#b53a00 451px,#8a6b00 455px,#717b00 457px,#3a8c00 461px,#249003 463px,#0e9406 465px,#00960a 467px,#009626 481px)"></i><i style="background:linear-gradient(#009541 1px,#00963e 163px,#009638 263px,#009629 303px,#009618 325px,#009608 339px,#368d01 349px,#7d7700 359px,#af4100 367px,#d00000 377px,#d71900 391px,#e14a00 413px,#e04400 419px,#dd3800 425px,#d00100 445px,#c81200 447px,#b43c00 451px,#896c00 455px,#707b00 457px,#3b8c00 461px,#109306 465px,#009609 467px,#009625 481px)"></i><i style="background:linear-gradient(#009638 1px,#009634 163px,#00962a 263px,#00961a 311px,#009609 335px,#039508 337px,#2f8e02 347px,#458900 351px,#797800 359px,#857000 361px,#b33e00 369px,#d00000 379px,#d71800 393px,#e04600 413px,#dd3900 423px,#d00100 445px,#b13f00 451px,#886e00 455px,#6f7b00 457px,#3c8c00 461px,#009608 467px,#009623 481px)"></i><i style="background:linear-gradient(#009610 1px,#009608 183px,#3b8c00 271px,#628000 309px,#807600 331px,#916300 343px,#a64b00 353px,#b53a00 359px,#be2700 365px,#cf0100 375px,#d71700 393px,#e04400 413px,#de3e00 419px,#dc3300 425px,#d00000 445px,#b63900 451px,#7f7600 457px,#3d8c00 463px,#1c9104 467px,#019608 471px,#009614 481px)"></i><i style="background:linear-gradient(#bc2b00 1px,#ca0d00 177px,#d00000 195px,#d92200 343px,#dd3800 385px,#e35600 413px,#e04600 423px,#d61600 441px,#d00000 453px,#c12100 459px,#b43c00 465px,#ac4500 467px,#906500 475px,#7d7700 481px)"></i><i style="background:linear-gradient(#8c6900 1px,#a94800 177px,#b43c00 193px,#d00000 275px,#d40f00 341px,#d71800 367px,#da2900 387px,#e14e00 413px,#e14c00 415px,#de3a00 425px,#d71800 437px,#d10200 447px,#cc0800 449px,#b04000 457px,#857000 465px,#7b7700 467px,#5e8100 473px,#3f8b00 481px)"></i><i style="background:linear-gradient(#009625 1px,#00961d 179px,#009612 263px,#019608 303px,#179205 319px,#348d01 333px,#548400 343px,#807600 353px,#b13f00 365px,#ce0500 377px,#d00200 379px,#d71a00 395px,#df4200 413px,#dd3500 423px,#d00000 443px,#b13f00 449px,#886e00 453px,#6f7b00 455px,#3d8c00 459px,#029608 465px,#009617 473px,#009620 481px)"></i><i style="background:linear-gradient(#00963e 1px,#00963b 163px,#009632 263px,#009624 297px,#009609 333px,#0b9407 337px,#378d01 347px,#7e7700 359px,#b23f00 369px,#cd0700 379px,#d00100 381px,#d71b00 397px,#df4100 413px,#dd3700 421px,#d10400 441px,#cd0600 443px,#ba3000 447px,#ab4600 449px,#807600 453px,#328e01 459px,#089507 463px,#00960b 465px,#009628 481px)"></i><i style="background:linear-gradient(#009542 1px,#00963f 163px,#009637 261px,#009627 297px,#009609 335px,#0c9406 339px,#3a8c00 349px,#827300 361px,#b53900 371px,#d00000 381px,#d71a00 397px,#df4000 413px,#dc3200 423px,#d10300 441px,#cb0a00 443px,#b83400 447px,#a74b00 449px,#7b7800 453px,#458900 457px,#049508 463px,#00960c 465px,#009629 481px)"></i><i style="background:linear-gradient(#009542 1px,#009540 163px,#009638 263px,#009627 299px,#009608 337px,#358d01 349px,#7d7700 361px,#b23e00 371px,#ce0500 381px,#d10200 383px,#d71900 397px,#df3f00 413px,#dc3100 423px,#d10200 441px,#ca0e00 443px,#b63800 447px,#8e6700 451px,#767900 453px,#408b00 457px,#009608 463px,#00961a 471px,#00962a 481px)"></i><i style="background:linear-gradient(#009542 1px,#009540 163px,#009638 263px,#009628 299px,#00960a 337px,#029608 339px,#398c00 351px,#837300 363px,#b63800 373px,#d00100 383px,#d71800 397px,#de3d00 413px,#dc3000 423px,#d00100 441px,#c81100 443px,#b43b00 447px,#8a6b00 451px,#717b00 453px,#3c8c00 457px,#109306 461px,#009609 463px,#00961a 471px,#00962a 481px)"></i><i style="background:linear-gradient(#009542 1px,#009540 163px,#009638 263px,#009627 301px,#009609 339px,#0e9406 343px,#348d01 351px,#7d7700 363px,#b43c00 373px,#cf0200 383px,#d10300 385px,#d71a00 399px,#de3c00 413px,#db2e00 423px,#d00000 441px,#b14000 447px,#866f00 451px,#6c7c00 453px,#388d01 457px,#0d9406 461px,#00960a 463px,#00961b 471px,#00962b 481px)"></i><i style="background:linear-gradient(#009542 1px,#009540 163px,#009638 259px,#009628 295px,#009608 335px,#179205 341px,#3c8c00 349px,#837300 361px,#b53900 371px,#cf0200 381px,#d71900 397px,#de3d00 413px,#db2f00 423px,#cf0200 441px,#ae4300 447px,#837300 451px,#338d01 457px,#089507 461px,#00960b 463px,#009623 475px,#00962b 481px)"></i><i style="background:linear-gradient(#009542 1px,#00963f 163px,#009638 243px,#00962c 279px,#009609 325px,#0b9407 329px,#3c8c00 341px,#7e7700 353px,#b53a00 365px,#d00100 377px,#d71b00 395px,#df4000 413px,#dc3100 423px,#d00100 441px,#bb2d00 445px,#ad4400 447px,#807600 451px,#2f8e02 457px,#039508 461px,#00961a 469px,#00962c 481px)"></i><i style="background:linear-gradient(#009542 1px,#00963e 163px,#009638 231px,#00962e 265px,#019608 317px,#3d8c00 333px,#837300 347px,#b53a00 359px,#cf0300 371px,#d10200 373px,#d71900 391px,#df4300 413px,#df3f00 417px,#dc3300 423px,#d00000 441px,#bb2e00 445px,#ab4600 447px,#7c7700 451px,#438a00 455px,#139305 459px,#009609 461px,#009623 473px,#00962d 481px)"></i><i style="background:linear-gradient(#009542 1px,#00963e 121px,#009636 223px,#009629 263px,#009609 307px,#129306 313px,#3e8b00 325px,#7f7600 339px,#b53900 353px,#d00100 367px,#d71900 387px,#e04500 413px,#df4200 417px,#dd3600 423px,#d00000 441px,#ba2f00 445px,#a94800 447px,#797800 451px,#3e8c00 455px,#259003 457px,#0e9406 459px,#00960a 461px,#009624 473px,#00962e 481px)"></i><i style="background:linear-gradient(#009540 1px,#00963b 93px,#009631 163px,#00962f 223px,#009625 255px,#009609 297px,#099407 301px,#388d01 315px,#7c7700 331px,#b63800 347px,#d00100 361px,#d71800 383px,#e04800 413px,#e04400 417px,#dd3800 423px,#d00000 441px,#ba3000 445px,#a84a00 447px,#8f6500 449px,#747a00 451px,#398d00 455px,#089507 459px,#00960c 461px,#009625 473px,#00962e 481px)"></i><i style="background:linear-gradient(#00963b 1px,#009632 79px,#009617 163px,#009616 193px,#00961e 223px,#00961c 243px,#009615 263px,#009609 283px,#0d9406 289px,#3b8c00 305px,#807600 323px,#b43b00 339px,#cf0200 355px,#d71800 379px,#e14b00 413px,#e04700 417px,#de3a00 423px,#d00000 441px,#b93100 445px,#a54c00 447px,#8c6800 449px,#707b00 451px,#348d01 455px,#039508 459px,#00960d 461px,#009623 471px,#00962f 481px)"></i><i style="background:linear-gradient(#00962a 1px,#00961e 63px,#009608 115px,#398c00 145px,#657f00 163px,#677e00 193px,#3e8b00 209px,#229003 223px,#199205 253px,#3e8b00 275px,#7e7700 301px,#b23e00 323px,#d00000 345px,#d71800 373px,#e14e00 413px,#e14a00 417px,#de3d00 423px,#d00000 441px,#b83300 445px,#8a6b00 449px,#6c7c00 451px,#308e02 455px,#009608 459px,#009623 471px,#00962e 481px)"></i><i style="background:linear-gradient(#00962a 1px,#00961e 63px,#009608 115px,#398c00 145px,#657f00 163px,#677e00 193px,#3d8c00 209px,#219104 223px,#149305 253px,#3d8c00 279px,#807600 307px,#b43c00 329px,#cf0300 349px,#d00100 351px,#d71900 377px,#e14c00 413px,#df3f00 421px,#d20600 439px,#ce0400 441px,#b73700 445px,#876f00 449px,#498800 453px,#149305 457px,#009609 459px,#009623 471px,#00962e 481px)"></i><i style="background:linear-gradient(#00963b 1px,#009632 79px,#009617 163px,#009616 193px,#00961f 223px,#00961d 249px,#009608 289px,#199205 299px,#3d8c00 311px,#7c7700 327px,#b33d00 343px,#cf0100 359px,#d71a00 383px,#e04800 413px,#e04400 417px,#dd3700 423px,#d10400 439px,#cc0900 441px,#b43b00 445px,#837300 449px,#458900 453px,#2a8f02 455px,#119306 457px,#009609 459px,#009624 471px,#00962f 481px)"></i><i style="background:linear-gradient(#009540 1px,#00963b 93px,#009631 163px,#009630 229px,#009625 261px,#009609 301px,#019608 303px,#378d01 319px,#7c7700 335px,#b23e00 349px,#cd0600 363px,#d00100 365px,#d71a00 387px,#e04500 413px,#df4100 417px,#dd3500 423px,#d10300 439px,#ca0e00 441px,#b13f00 445px,#7f7600 449px,#428a00 453px,#278f03 455px,#0f9306 457px,#00960a 459px,#009625 471px,#00962f 481px)"></i><i style="background:linear-gradient(#009542 1px,#00963e 121px,#009636 227px,#00962b 263px,#019608 311px,#3a8c00 327px,#7b7800 341px,#847200 343px,#b43b00 355px,#d00000 369px,#d71900 389px,#df4300 413px,#df3f00 417px,#dc3200 423px,#d00100 439px,#c71200 441px,#ad4400 445px,#7b7700 449px,#3f8b00 453px,#259003 455px,#0e9406 457px,#00960a 459px,#009625 471px,#00962f 481px)"></i><i style="background:linear-gradient(#009542 1px,#00963e 163px,#009638 231px,#00962f 265px,#009609 317px,#029608 319px,#368d01 333px,#7b7800 347px,#847100 349px,#b63800 361px,#d00100 373px,#d71a00 393px,#df4000 413px,#de3c00 417px,#db2f00 423px,#d00000 439px,#ba2f00 443px,#a94800 445px,#787900 449px,#3c8c00 453px,#239003 455px,#0c9406 457px,#00960b 459px,#009625 471px,#00962f 481px)"></i><i style="background:linear-gradient(#009542 1px,#00963f 163px,#009638 243px,#00962b 279px,#009609 325px,#029608 327px,#3a8c00 341px,#7b7800 353px,#857100 355px,#b33d00 365px,#cf0200 377px,#d71900 395px,#de3d00 413px,#dc3200 421px,#d10500 437px,#ce0400 439px,#b83300 443px,#8e6600 447px,#747a00 449px,#398c00 453px,#219004 455px,#0a9407 457px,#00960b 459px,#009625 471px,#00962f 481px)"></i><i style="background:linear-gradient(#009542 1px,#009540 163px,#009638 247px,#00962b 283px,#00960a 327px,#019608 329px,#3a8c00 343px,#7c7700 355px,#b53b00 367px,#d00100 379px,#d71b00 397px,#de3c00 413px,#dc3100 421px,#d10400 437px,#cd0700 439px,#b73600 443px,#8b6900 447px,#707b00 449px,#378d01 453px,#089507 457px,#00960c 459px,#009625 471px,#00962f 481px)"></i><i style="background:linear-gradient(#009542 1px,#009540 163px,#009638 241px,#00962c 277px,#009608 325px,#3e8b00 341px,#7f7600 353px,#b53a00 365px,#d00000 377px,#d71900 395px,#de3d00 413px,#dc3100 421px,#d10400 437px,#cc0800 439px,#b63700 443px,#896c00 447px,#6d7c00 449px,#348d01 453px,#059507 457px,#00960c 459px,#009626 471px,#009630 481px)"></i><i style="background:linear-gradient(#009542 1px,#009540 163px,#009638 237px,#00962d 271px,#009609 321px,#0a9407 325px,#398c00 337px,#817500 351px,#b53a00 363px,#cf0100 375px,#d71800 393px,#de3e00 413px,#dc3200 421px,#d10400 437px,#cc0900 439px,#b63900 443px,#876e00 447px,#6a7d00 449px,#308e02 453px,#019608 457px,#009626 471px,#009630 481px)"></i><i style="background:linear-gradient(#009542 1px,#00963f 163px,#009638 233px,#00962e 267px,#019608 319px,#3d8c00 335px,#837300 349px,#b53a00 361px,#cf0300 373px,#d00200 375px,#d71900 393px,#df3f00 413px,#dc3300 421px,#d10400 437px,#cc0a00 439px,#b53a00 443px,#857100 447px,#488800 451px,#159305 455px,#009609 457px,#009624 469px,#009630 481px)"></i><i style="background:linear-gradient(#009542 1px,#00963f 163px,#009638 227px,#00962e 263px,#009609 315px,#0b9406 319px,#388d01 331px,#7b7800 345px,#b53900 359px,#ce0400 371px,#d00100 373px,#d71800 391px,#df4000 413px,#dc3400 421px,#d10400 437px,#cb0b00 439px,#b43c00 443px,#837300 447px,#458900 451px,#2a8f02 453px,#119306 455px,#009609 457px,#009624 469px,#009630 481px)"></i><i style="background:linear-gradient(#009542 1px,#00963f 163px,#009638 221px,#00962c 263px,#009609 311px,#029608 313px,#3b8c00 329px,#7e7700 343px,#b53900 357px,#ce0500 369px,#d00100 371px,#d71a00 391px,#df4100 413px,#dc3400 421px,#d10300 437px,#cb0c00 439px,#b23e00 443px,#807600 447px,#418a00 451px,#279003 453px,#0e9406 455px,#00960a 457px,#009625 469px,#009631 481px)"></i><i style="background:linear-gradient(#009542 1px,#00963f 163px,#009638 217px,#00962a 263px,#009608 309px,#3f8b00 327px,#807600 341px,#b63900 355px,#d00100 369px,#d71800 389px,#df4100 413px,#dd3500 421px,#d10300 437px,#ca0d00 439px,#b14000 443px,#7d7700 447px,#3e8b00 451px,#239003 453px,#0b9407 455px,#00960b 457px,#009626 469px,#009631 481px)"></i><i style="background:linear-gradient(#009542 1px,#00963f 163px,#009638 225px,#00962d 263px,#009609 313px,#388d01 329px,#7a7800 343px,#837200 345px,#b53b00 357px,#cd0600 369px,#d00100 371px,#d71a00 391px,#df4200 413px,#dd3500 421px,#d10300 437px,#ca0d00 439px,#b04000 443px,#7c7700 447px,#3c8c00 451px,#229003 453px,#0a9407 455px,#00960c 457px,#009626 469px,#009631 481px)"></i><i style="background:linear-gradient(#009542 1px,#009540 163px,#009638 237px,#00962d 271px,#009608 321px,#3e8b00 337px,#7d7700 349px,#b33d00 361px,#ce0400 373px,#d00200 375px,#d71a00 393px,#df4200 413px,#dd3500 421px,#d10300 437px,#ca0d00 439px,#b04000 443px,#7c7700 447px,#3c8c00 451px,#229003 453px,#0a9407 455px,#00960c 457px,#009626 469px,#009631 481px)"></i><i style="background:linear-gradient(#009542 1px,#009540 163px,#009638 249px,#00962a 285px,#009608 329px,#3b8c00 343px,#7f7600 355px,#b04100 365px,#cf0200 377px,#d71b00 395px,#df4200 413px,#dd3500 421px,#d10300 437px,#ca0d00 439px,#b04000 443px,#7c7700 447px,#3c8c00 451px,#229003 453px,#0a9407 455px,#00960c 457px,#009626 469px,#009631 481px)"></i><i style="background:linear-gradient(#009542 1px,#009540 163px,#009638 239px,#00962d 273px,#00960a 321px,#029608 323px,#3a8c00 337px,#7a7800 349px,#847100 351px,#b23e00 361px,#cf0200 373px,#d10200 375px,#d71800 391px,#e04500 413px,#dd3800 421px,#d10400 437px,#cb0b00 439px,#b04000 443px,#7b7800 447px,#3a8c00 451px,#069507 455px,#00960d 457px,#009627 469px,#009631 481px)"></i><i style="background:linear-gradient(#009542 1px,#00963f 163px,#009638 231px,#00962e 265px,#009609 315px,#039608 317px,#398d00 331px,#807600 345px,#b43b00 357px,#cf0300 369px,#d10200 371px,#d71a00 389px,#e14900 413px,#de3b00 421px,#d10500 437px,#cc0900 439px,#b14000 443px,#797800 447px,#378d01 451px,#029608 455px,#009618 461px,#009628 469px,#009631 481px)"></i><i style="background:linear-gradient(#009542 1px,#00963f 163px,#009639 221px,#00962b 263px,#009609 309px,#039508 311px,#378d01 325px,#7b7800 339px,#847100 341px,#b63900 353px,#cf0300 365px,#d00200 367px,#d71900 385px,#e14c00 413px,#de3e00 421px,#d20500 437px,#cd0700 439px,#b13f00 443px,#955f00 445px,#777900 447px,#348d01 451px,#009608 455px,#009626 467px,#009632 481px)"></i><i style="background:linear-gradient(#009542 1px,#00963f 161px,#009639 213px,#009629 259px,#009609 303px,#0a9407 307px,#368d01 319px,#817500 335px,#b13f00 347px,#cf0200 361px,#d00200 363px,#d71800 381px,#e25000 413px,#e14b00 417px,#df4200 421px,#d20600 437px,#ce0500 439px,#b13f00 443px,#945f00 445px,#757900 447px,#308e02 451px,#149305 453px,#00960a 455px,#009627 467px,#009632 481px)"></i><i style="background:linear-gradient(#009542 1px,#00963f 151px,#009639 205px,#009629 251px,#009609 297px,#0a9407 301px,#3d8c00 315px,#7d7700 329px,#b43c00 343px,#cf0200 357px,#d71a00 379px,#e25300 413px,#e24e00 417px,#e04500 421px,#d20700 437px,#cf0300 439px,#b13f00 443px,#936100 445px,#737a00 447px,#2d8e02 451px,#109306 453px,#00960b 455px,#009628 467px,#009632 481px)"></i><i style="background:linear-gradient(#009542 1px,#00963f 161px,#009638 213px,#009629 259px,#009608 303px,#398c00 319px,#7b7800 333px,#b43b00 347px,#d00000 361px,#d71900 381px,#e25100 413px,#e14c00 417px,#df4300 421px,#d20500 437px,#cc0900 439px,#ac4500 443px,#8e6600 445px,#6d7c00 447px,#488800 449px,#0c9406 453px,#00960c 455px,#009628 467px,#009632 481px)"></i><i style="background:linear-gradient(#009542 1px,#00963f 163px,#009639 219px,#00962b 263px,#009609 307px,#029608 309px,#368d01 323px,#797800 337px,#837300 339px,#b53a00 351px,#ce0500 363px,#d00100 365px,#d71800 383px,#e24f00 413px,#e14a00 417px,#df4000 421px,#d10400 437px,#c90e00 439px,#bc2c00 441px,#a64b00 443px,#896c00 445px,#667e00 447px,#428a00 449px,#089507 453px,#00960d 455px,#009628 467px,#009632 481px)"></i><i style="background:linear-gradient(#009542 1px,#00963f 163px,#009638 227px,#00962e 263px,#009609 313px,#0b9406 317px,#3a8c00 329px,#827400 343px,#b53900 355px,#cf0100 367px,#d71b00 387px,#e14d00 413px,#e04800 417px,#de3e00 421px,#d10200 437px,#c71400 439px,#b93100 441px,#a15100 443px,#847200 445px,#3d8c00 449px,#049507 453px,#00960e 455px,#009629 467px,#009632 481px)"></i><i style="background:linear-gradient(#009542 1px,#009540 163px,#009638 237px,#00962d 271px,#009608 319px,#378d01 333px,#807600 347px,#b63800 359px,#cd0700 369px,#d00100 371px,#d71a00 389px,#e14b00 413px,#de3c00 421px,#d00100 437px,#b63700 441px,#7f7600 445px,#388d01 449px,#009608 453px,#00961a 459px,#009629 467px,#009632 481px)"></i><i style="background:linear-gradient(#009542 1px,#009540 163px,#009638 245px,#00962c 279px,#019608 325px,#3b8c00 339px,#7f7600 351px,#b63700 363px,#ce0300 373px,#d10200 375px,#d71a00 391px,#e14900 413px,#de3a00 421px,#d20700 435px,#cf0200 437px,#b43c00 441px,#975d00 443px,#787900 445px,#338e01 449px,#169205 451px,#009609 453px,#009627 465px,#00962e 471px,#009632 481px)"></i><i style="background:linear-gradient(#009542 1px,#009540 163px,#009638 249px,#00962a 285px,#00960a 327px,#029608 329px,#358d01 341px,#787800 353px,#847200 355px,#b53b00 365px,#cd0500 375px,#d00100 377px,#d71a00 393px,#e04600 413px,#dd3700 421px,#d10500 435px,#cc0800 437px,#ae4200 441px,#916300 443px,#717b00 445px,#2e8e02 449px,#119306 451px,#00960a 453px,#009627 465px,#00962e 471px,#009632 481px)"></i><i style="background:linear-gradient(#009542 1px,#009540 163px,#009638 251px,#00962a 287px,#00960a 329px,#029608 331px,#358d01 343px,#7a7800 355px,#857100 357px,#b53900 367px,#cf0300 377px,#d10200 379px,#d71800 393px,#e04400 413px,#dd3500 421px,#d10300 435px,#c90f00 437px,#bc2b00 439px,#a84900 441px,#8b6900 443px,#6a7d00 445px,#478800 447px,#0d9406 451px,#00960b 453px,#009627 465px,#009632 481px)"></i><i style="background:linear-gradient(#009542 1px,#009540 163px,#009638 255px,#009629 291px,#00960a 331px,#029608 333px,#368d01 345px,#7b7800 357px,#866f00 359px,#b63700 369px,#d00000 379px,#d71900 395px,#df4100 413px,#dc3200 421px,#d00200 435px,#c61500 437px,#b93100 439px,#a25000 441px,#867000 443px,#418b00 447px,#089507 451px,#00960d 453px,#009628 465px,#009632 481px)"></i><i style="background:linear-gradient(#009542 1px,#009540 163px,#009638 257px,#009629 293px,#00960a 333px,#029608 335px,#368d01 347px,#7c7700 359px,#b04000 369px,#d00100 381px,#d71a00 397px,#df3f00 413px,#dc3000 421px,#d00000 435px,#b63700 439px,#807600 443px,#3a8c00 447px,#039508 451px,#00960e 453px,#009628 465px,#009632 481px)"></i><i style="background:linear-gradient(#009542 1px,#009540 163px,#009638 261px,#009628 297px,#00960a 335px,#029608 337px,#378d01 349px,#7e7700 361px,#b23e00 371px,#cd0600 381px,#d00100 383px,#d71800 397px,#de3c00 413px,#db2d00 421px,#d10500 433px,#cd0600 435px,#b33d00 439px,#797800 443px,#358d01 447px,#009608 451px,#009619 457px,#009629 465px,#009632 481px)"></i><i style="background:linear-gradient(#009542 1px,#009540 163px,#009638 263px,#009628 299px,#00960a 337px,#019608 339px,#378d01 351px,#7f7600 363px,#b43c00 373px,#ce0400 383px,#d10200 385px,#d71900 399px,#de3a00 413px,#dc3000 419px,#d10400 433px,#ca0d00 435px,#ad4400 439px,#916300 441px,#727b00 443px,#308e02 447px,#149305 449px,#009609 451px,#00961a 457px,#009629 465px,#009632 481px)"></i><i style="background:linear-gradient(#009542 1px,#009540 163px,#009638 263px,#009628 301px,#00960a 339px,#019608 341px,#388d01 353px,#817500 365px,#b53a00 375px,#d00100 385px,#d71a00 401px,#dd3700 413px,#db2e00 419px,#d10200 433px,#c71300 435px,#bb2e00 437px,#a74b00 439px,#8b6900 441px,#6b7d00 443px,#498800 445px,#0f9306 449px,#00960b 451px,#00961b 457px,#009629 465px,#009632 481px)"></i><i style="background:linear-gradient(#009542 1px,#009540 163px,#009639 263px,#009628 303px,#009608 343px,#358d01 355px,#7f7600 367px,#b53a00 377px,#d00000 387px,#d71800 401px,#dc3400 413px,#db2b00 419px,#d00000 433px,#b83300 437px,#866f00 441px,#657f00 443px,#269003 447px,#0c9406 449px,#00960b 451px,#00961b 457px,#00962a 465px,#009632 481px)"></i><i style="background:linear-gradient(#009542 1px,#009540 163px,#009639 263px,#009628 307px,#00960a 345px,#019608 347px,#308e02 357px,#468900 361px,#7a7800 369px,#866f00 371px,#b43d00 379px,#d00000 389px,#d71800 403px,#dc3100 413px,#da2800 419px,#d10500 431px,#ce0500 433px,#b63900 437px,#827400 441px,#3f8b00 445px,#239003 447px,#099407 449px,#00960c 451px,#00961b 457px,#00962a 465px,#009632 481px)"></i><i style="background:linear-gradient(#009542 1px,#009540 163px,#009639 263px,#009629 309px,#009617 335px,#009609 349px,#049507 351px,#358d01 361px,#837300 373px,#b13f00 381px,#d00100 391px,#d71900 405px,#db2e00 413px,#d92500 419px,#d10300 431px,#cb0b00 433px,#b23e00 437px,#7d7700 441px,#3b8c00 445px,#079507 449px,#00960c 451px,#00961b 457px,#00962a 465px,#009632 481px)"></i><i style="background:linear-gradient(#009542 1px,#009540 163px,#00963a 263px,#009628 313px,#009617 339px,#009608 353px,#119306 357px,#3a8c00 365px,#7f7600 375px,#af4200 383px,#d00100 393px,#d61600 405px,#db2b00 413px,#d92200 419px,#d00200 431px,#c81100 433px,#bd2a00 435px,#ad4300 437px,#787900 441px,#388d01 445px,#059507 449px,#00960d 451px,#009627 463px,#00962f 471px,#009632 481px)"></i><i style="background:linear-gradient(#009542 1px,#009540 163px,#00963a 263px,#009628 317px,#009616 343px,#019608 357px,#408b00 369px,#797800 377px,#876f00 379px,#b63700 387px,#d00100 395px,#d71700 407px,#da2800 413px,#d81f00 419px,#d00000 431px,#ba2f00 435px,#a84900 437px,#8f6500 439px,#737a00 441px,#348d01 445px,#029608 449px,#009618 455px,#009627 463px,#00962f 471px,#009632 481px)"></i><i style="background:linear-gradient(#009542 1px,#009540 163px,#00963a 263px,#009628 321px,#00961a 343px,#00960a 359px,#039508 361px,#398c00 371px,#837300 381px,#b53900 389px,#d00000 397px,#d71900 409px,#d92500 413px,#d82000 417px,#d10400 429px,#cd0600 431px,#b83400 435px,#8b6a00 439px,#6e7c00 441px,#318e01 445px,#009608 449px,#009618 455px,#009627 463px,#00962f 471px,#009632 481px)"></i><i style="background:linear-gradient(#009542 1px,#00963a 263px,#009628 325px,#009619 347px,#009609 363px,#069507 365px,#328e01 373px,#4e8600 377px,#7e7700 383px,#b43b00 391px,#d00000 399px,#d92200 413px,#d61600 421px,#d10300 429px,#cb0c00 431px,#b53900 435px,#876e00 439px,#697d00 441px,#2f8e02 445px,#009608 449px,#009618 455px,#009626 463px,#00962c 471px,#00962f 481px)"></i><i style="background:linear-gradient(#00963d 1px,#009636 263px,#009625 331px,#009617 353px,#009608 367px,#388d01 377px,#787900 385px,#876e00 387px,#b33d00 393px,#d00100 401px,#d81f00 413px,#d61400 421px,#d00100 429px,#c81100 431px,#b43c00 435px,#876e00 439px,#6c7c00 441px,#378d01 445px,#0f9406 449px,#009608 451px,#009615 461px,#009619 481px)"></i><i style="background:linear-gradient(#00962e 1px,#009628 263px,#00961a 341px,#009614 355px,#00960a 367px,#019608 369px,#2a8f02 377px,#438a00 381px,#837300 389px,#ae4200 395px,#d00100 403px,#d71800 413px,#d51200 419px,#d10300 427px,#cd0600 429px,#be2700 433px,#ae4200 437px,#886d00 443px,#7e7700 445px,#647f00 451px,#588300 457px,#538500 465px,#508600 481px)"></i><i style="background:linear-gradient(#00963d 1px,#009635 263px,#009623 339px,#009617 359px,#009609 373px,#139305 377px,#388d01 383px,#797800 391px,#896c00 393px,#b63800 399px,#ce0500 405px,#d10400 407px,#d51200 413px,#d40d00 419px,#d00200 425px,#cb0a00 427px,#ba2f00 431px,#ae4300 433px,#866f00 437px,#6f7c00 439px,#3c8c00 443px,#069507 449px,#00960a 451px,#009615 461px,#009619 481px)"></i><i style="background:linear-gradient(#00963f 1px,#009639 91px,#00962c 163px,#009630 263px,#009619 351px,#009608 375px,#358d01 385px,#518500 389px,#747a00 393px,#857100 395px,#b43c00 401px,#cd0700 407px,#d10300 409px,#d40d00 413px,#d00100 423px,#cb0b00 425px,#b23e00 431px,#8b6a00 435px,#757a00 437px,#408b00 441px,#009608 447px,#009616 453px,#009626 463px,#00962e 481px)"></i><i style="background:linear-gradient(#009633 1px,#009629 63px,#009608 147px,#1d9104 163px,#1e9104 193px,#009608 209px,#00960f 223px,#009614 253px,#009608 297px,#398c00 355px,#4b8700 365px,#618000 373px,#817500 381px,#906400 385px,#b43b00 393px,#d00000 403px,#d61400 413px,#d40d00 419px,#d00000 425px,#b43b00 431px,#886d00 435px,#6c7c00 437px,#338e01 441px,#049508 445px,#00960d 447px,#009627 461px,#009631 481px)"></i><i style="background:linear-gradient(#009622 1px,#009615 63px,#019608 93px,#3b8c00 123px,#7d7700 149px,#9b5800 163px,#9b5800 193px,#807600 205px,#4f8600 223px,#338e01 253px,#807600 311px,#975c00 331px,#b23e00 351px,#b93100 359px,#c21e00 369px,#d00000 381px,#d51100 401px,#d92100 413px,#d51100 421px,#d00100 427px,#ba2f00 431px,#a74a00 433px,#8d6800 435px,#6e7c00 437px,#2d8e02 441px,#129306 443px,#00960a 445px,#009618 451px,#009624 459px,#00962f 481px)"></i><i style="background:linear-gradient(#00962d 1px,#009621 63px,#009608 125px,#298f03 147px,#4d8700 163px,#4f8600 193px,#338e01 205px,#129306 223px,#0c9406 253px,#3d8c00 283px,#7e7700 311px,#b53a00 337px,#d00000 361px,#d71800 393px,#db2f00 413px,#da2800 417px,#cf0300 429px,#c12100 431px,#b14000 433px,#926200 435px,#6e7c00 437px,#478800 439px,#069507 443px,#00960e 445px,#009619 449px,#009627 457px,#009630 481px)"></i><i style="background:linear-gradient(#00963e 1px,#009638 79px,#009630 123px,#009623 163px,#00961e 223px,#009614 251px,#009608 273px,#398d00 297px,#7d7700 319px,#b23e00 339px,#d00100 361px,#d71900 393px,#db2f00 413px,#da2800 417px,#cf0300 429px,#c12100 431px,#b04100 433px,#906400 435px,#6c7d00 437px,#448a00 439px,#029608 443px,#00961b 449px,#00962a 457px,#00962f 465px,#009632 481px)"></i><i style="background:linear-gradient(#009541 1px,#00963d 117px,#009633 217px,#009626 259px,#009608 307px,#388d00 327px,#7b7800 345px,#827400 347px,#b53b00 363px,#d00100 381px,#d92100 413px,#d51200 421px,#d00100 427px,#c61500 429px,#ba2f00 431px,#a54c00 433px,#8a6b00 435px,#687e00 437px,#448900 439px,#089507 443px,#00960d 445px,#009621 453px,#00962b 459px,#009633 481px)"></i><i style="background:linear-gradient(#009542 1px,#00963f 163px,#009637 255px,#009629 293px,#009608 341px,#3b8c00 357px,#807600 371px,#b33d00 383px,#d00000 397px,#d61500 413px,#d40e00 419px,#d00100 425px,#c81100 427px,#b33d00 431px,#837300 435px,#458900 439px,#298f03 441px,#0f9306 443px,#00960a 445px,#00961a 451px,#00962a 461px,#009633 481px)"></i><i style="background:linear-gradient(#009542 1px,#009540 163px,#009637 263px,#009627 305px,#009609 351px,#089507 355px,#3b8c00 369px,#7e7600 383px,#b53900 397px,#ce0300 409px,#d10400 413px,#d00000 417px,#c41900 421px,#b43c00 425px,#8c6900 429px,#737a00 431px,#3b8c00 435px,#0a9407 439px,#00960b 441px,#00961a 447px,#00962a 457px,#009633 481px)"></i><i style="background:linear-gradient(#009542 1px,#009540 163px,#009639 263px,#009627 313px,#009608 363px,#119306 369px,#3c8c00 381px,#7a7800 395px,#837300 397px,#b33d00 409px,#bb2c00 413px,#b53900 417px,#ab4600 419px,#8e6700 423px,#7c7700 425px,#4c8700 429px,#099407 435px,#00960b 437px,#009621 447px,#00962b 455px,#009633 481px)"></i><i style="background:linear-gradient(#009542 1px,#009540 163px,#009639 263px,#009627 321px,#009609 373px,#019608 375px,#418b00 395px,#7e7600 409px,#8e6600 413px,#827300 417px,#767900 419px,#328e01 427px,#009609 433px,#00961d 443px,#00962a 453px,#009633 481px)"></i><i style="background:linear-gradient(#009542 1px,#009540 163px,#00963a 263px,#009627 327px,#009618 355px,#009608 375px,#3c8c00 391px,#7d7700 403px,#af4200 413px,#a34e00 417px,#827400 423px,#358d01 431px,#009609 437px,#00961a 445px,#00962a 457px,#009633 481px)"></i><i style="background:linear-gradient(#009542 1px,#00963a 263px,#009627 329px,#009618 355px,#009609 373px,#0d9406 377px,#398d00 387px,#817500 399px,#ad4400 407px,#c21f00 413px,#bd2900 417px,#b33d00 421px,#995a00 425px,#797800 429px,#398c00 435px,#009608 441px,#009619 449px,#009628 459px,#009632 481px)"></i><i style="background:linear-gradient(#009542 1px,#00963a 263px,#009627 329px,#009617 355px,#009609 371px,#189205 377px,#418b00 385px,#837300 395px,#b33d00 403px,#cc0800 411px,#d00200 413px,#ce0400 417px,#ca0c00 419px,#c02300 423px,#b23e00 427px,#827400 433px,#3e8b00 439px,#049507 445px,#00960c 447px,#009627 463px,#009632 481px)"></i><i style="background:linear-gradient(#009542 1px,#00963e 159px,#009637 257px,#009627 297px,#009608 345px,#398d00 361px,#7a7800 375px,#837200 377px,#b33d00 389px,#d00000 403px,#d30c00 413px,#cf0200 423px,#b73500 429px,#a84a00 431px,#7f7600 435px,#2f8e02 441px,#039508 445px,#00960c 447px,#009627 461px,#00962e 469px,#009632 481px)"></i><i style="background:linear-gradient(#009541 1px,#009634 229px,#00962b 263px,#009609 319px,#019608 321px,#378d01 339px,#7e7700 357px,#b43b00 373px,#cf0200 389px,#d00100 391px,#d71800 413px,#d51100 419px,#d10400 425px,#cd0500 427px,#b93100 431px,#a84a00 433px,#906400 435px,#757a00 437px,#378d01 441px,#059507 445px,#00960d 447px,#009629 461px,#009633 481px)"></i><i style="background:linear-gradient(#00963f 1px,#009639 91px,#00962a 163px,#00962a 227px,#009622 253px,#009609 299px,#019608 301px,#0b9407 305px,#3d8c00 323px,#7c7700 341px,#b43c00 359px,#cf0200 377px,#d00100 379px,#d40e00 393px,#d92300 413px,#d81e00 417px,#d10500 427px,#ce0500 429px,#b63700 433px,#847200 437px,#628000 439px,#408b00 441px,#099507 445px,#00960c 447px,#00961c 453px,#00962a 461px,#009632 481px)"></i><i style="background:linear-gradient(#009637 1px,#00962e 69px,#00960b 163px,#00960a 193px,#009615 231px,#009612 253px,#009608 275px,#3b8c00 303px,#817400 327px,#b53a00 347px,#cf0100 367px,#d71800 397px,#db2b00 413px,#d82000 419px,#d10300 429px,#c91000 431px,#bc2b00 433px,#aa4700 435px,#8e6700 437px,#6d7c00 439px,#298f03 443px,#0d9406 445px,#00960b 447px,#00961b 453px,#009629 461px,#009632 481px)"></i><i style="background:linear-gradient(#009623 1px,#009616 63px,#009608 95px,#259003 115px,#4c8700 133px,#7f7600 153px,#946000 163px,#955e00 193px,#7f7600 203px,#4d8600 223px,#3e8b00 253px,#827400 289px,#b43b00 319px,#cf0200 347px,#d71800 385px,#dd3500 413px,#da2900 419px,#d00000 431px,#c31b00 433px,#b63800 435px,#7c7700 439px,#338e01 443px,#169205 445px,#009609 447px,#009619 453px,#009626 461px,#00962f 481px)"></i><i style="background:linear-gradient(#009623 1px,#009616 63px,#009608 95px,#2d8f02 119px,#518500 135px,#7f7600 153px,#945f00 163px,#965d00 193px,#817500 203px,#518500 223px,#4a8700 239px,#498800 253px,#817500 281px,#b33d00 309px,#d00000 339px,#d71800 377px,#de3c00 413px,#dc3000 419px,#d10400 431px,#c90e00 433px,#bb2d00 435px,#a44d00 437px,#867000 439px,#3a8c00 443px,#009608 447px,#009619 453px,#009626 461px,#00962f 481px)"></i><i style="background:linear-gradient(#009637 1px,#00962e 69px,#00960b 163px,#00960a 193px,#009613 223px,#00960f 249px,#009608 265px,#398c00 291px,#7f7600 315px,#b23e00 335px,#d00100 357px,#d71900 389px,#dd3500 413px,#da2a00 419px,#d00100 431px,#c41a00 433px,#b63700 435px,#7b7700 439px,#318e01 443px,#139305 445px,#00960a 447px,#00961b 453px,#00962a 461px,#009632 481px)"></i><i style="background:linear-gradient(#00963f 1px,#009639 91px,#00962a 163px,#009629 223px,#00961b 263px,#009608 295px,#3d8c00 317px,#7d7700 335px,#b43b00 353px,#d00100 371px,#d71a00 399px,#db2c00 413px,#d92100 419px,#d10300 429px,#ca0e00 431px,#bd2900 433px,#ab4600 435px,#8f6500 437px,#6e7c00 439px,#298f02 443px,#0d9406 445px,#00960b 447px,#00961c 453px,#00962a 461px,#009632 481px)"></i><i style="background:linear-gradient(#009541 1px,#009634 229px,#00962b 263px,#009608 317px,#388d01 335px,#827300 353px,#b43c00 367px,#d00000 383px,#d92300 413px,#d81e00 417px,#d10500 427px,#ce0400 429px,#b63700 433px,#847100 437px,#637f00 439px,#418a00 441px,#099507 445px,#00960c 447px,#00961c 453px,#00962a 461px,#009633 481px)"></i><i style="background:linear-gradient(#009542 1px,#00963e 159px,#009637 247px,#00962a 283px,#009608 335px,#388d01 351px,#787800 365px,#827400 367px,#b23e00 379px,#cf0300 393px,#d00200 395px,#d71800 413px,#d51100 419px,#d10400 425px,#cd0500 427px,#b93100 431px,#a84a00 433px,#906400 435px,#757a00 437px,#378d01 441px,#059507 445px,#00960d 447px,#009629 461px,#009633 481px)"></i><i style="background:linear-gradient(#009542 1px,#00963f 163px,#009637 263px,#009627 303px,#009608 349px,#3b8c00 365px,#777900 377px,#817500 379px,#b43b00 391px,#ce0400 403px,#d00200 405px,#d30c00 413px,#cf0200 423px,#b73500 429px,#a84a00 431px,#7f7600 435px,#2f8e02 441px,#039508 445px,#00960c 447px,#009627 461px,#00962e 469px,#009632 481px)"></i><i style="background:linear-gradient(#009542 1px,#009540 163px,#00963a 263px,#009627 319px,#009618 345px,#009609 363px,#029608 365px,#348d01 377px,#817500 391px,#b33d00 401px,#cd0600 411px,#d00200 413px,#ce0400 417px,#ca0c00 419px,#c02300 423px,#b23e00 427px,#827400 433px,#3e8b00 439px,#049507 445px,#00960c 447px,#009627 463px,#009632 481px)"></i><i style="background:linear-gradient(#009542 1px,#009540 163px,#009638 263px,#009626 307px,#009608 355px,#3c8c00 373px,#7b7800 387px,#847200 389px,#b23e00 401px,#cb0b00 413px,#c41b00 419px,#b63900 425px,#ab4600 427px,#827400 433px,#348d01 441px,#029608 447px,#009625 465px,#009631 481px)"></i><i style="background:linear-gradient(#009542 1px,#00963f 163px,#009637 243px,#00962b 281px,#009609 345px,#0d9406 351px,#3b8c00 367px,#7d7700 385px,#b43c00 403px,#c31b00 413px,#c02300 417px,#b63900 423px,#a34f00 427px,#807600 433px,#3b8c00 441px,#019608 449px,#009623 467px,#00962f 481px)"></i><i style="background:linear-gradient(#009542 1px,#00963f 163px,#009637 231px,#00962f 265px,#009608 341px,#3d8c00 365px,#807600 385px,#b14000 403px,#c02200 413px,#bd2900 417px,#b73600 421px,#b23e00 423px,#9f5300 427px,#7e7700 433px,#3d8c00 441px,#059507 449px,#00960a 451px,#009624 469px,#00962e 481px)"></i><i style="background:linear-gradient(#009542 1px,#00963f 163px,#009637 233px,#00962f 267px,#009609 341px,#129306 349px,#3d8c00 365px,#817500 385px,#b23e00 403px,#c12000 413px,#be2700 417px,#b33d00 423px,#a05300 427px,#7d7700 433px,#3a8c00 441px,#019608 449px,#009625 469px,#00962f 481px)"></i><i style="background:linear-gradient(#009542 1px,#00963f 163px,#009637 235px,#00962e 269px,#009609 341px,#069507 345px,#3c8c00 365px,#817500 385px,#b33d00 403px,#c21e00 413px,#be2600 417px,#b43c00 423px,#a05200 427px,#7c7700 433px,#288f03 443px,#009609 449px,#009624 467px,#00962f 481px)"></i><i style="background:linear-gradient(#009542 1px,#00963f 163px,#009637 237px,#00962d 273px,#009608 343px,#3c8c00 365px,#817400 385px,#b43b00 403px,#c31d00 413px,#bf2400 417px,#b43b00 423px,#a05200 427px,#7a7800 433px,#458900 439px,#249003 443px,#079507 447px,#00960a 449px,#009625 467px,#009630 481px)"></i><i style="background:linear-gradient(#009542 1px,#00963f 163px,#009637 237px,#00962d 273px,#009608 343px,#3b8c00 365px,#827400 385px,#b53a00 403px,#c41b00 413px,#c02200 417px,#b53a00 423px,#a05200 427px,#797800 433px,#428a00 439px,#039608 447px,#00960b 449px,#009626 467px,#009630 481px)"></i><i style="background:linear-gradient(#009542 1px,#00963f 163px,#009637 239px,#00962d 275px,#009609 343px,#0d9406 349px,#3b8c00 365px,#7c7700 383px,#886e00 387px,#b13f00 401px,#c41900 413px,#bd2800 419px,#b53a00 423px,#ac4500 425px,#876f00 431px,#777900 433px,#3f8b00 439px,#009608 447px,#009625 465px,#009631 481px)"></i><i style="background:linear-gradient(#009542 1px,#00963f 163px,#009637 241px,#00962c 277px,#009609 343px,#079507 347px,#3a8c00 365px,#7c7700 383px,#b23e00 401px,#c51700 413px,#be2600 419px,#b53900 423px,#ac4500 425px,#867000 431px,#757a00 433px,#3b8c00 439px,#199205 443px,#099407 445px,#00960a 447px,#009626 465px,#009631 481px)"></i><i style="background:linear-gradient(#009542 1px,#00963f 163px,#009637 241px,#00962c 277px,#009609 343px,#079507 347px,#3a8c00 365px,#7c7700 383px,#b23e00 401px,#c51700 413px,#be2600 419px,#b53900 423px,#ac4500 425px,#867000 431px,#757900 433px,#3c8c00 439px,#199205 443px,#0a9407 445px,#009609 447px,#009626 465px,#009631 481px)"></i><i style="background:linear-gradient(#009542 1px,#00963f 163px,#009637 239px,#00962d 275px,#009608 343px,#3b8c00 365px,#7c7700 383px,#886e00 387px,#b14000 401px,#c41900 413px,#c02100 417px,#b53a00 423px,#a05200 427px,#777900 433px,#408b00 439px,#009608 447px,#009625 465px,#009630 481px)"></i><i style="background:linear-gradient(#009542 1px,#00963f 163px,#009637 237px,#00962d 273px,#009608 343px,#3b8c00 365px,#827400 385px,#b53b00 403px,#c31b00 413px,#c02300 417px,#b53b00 423px,#a05200 427px,#797800 433px,#448a00 439px,#059507 447px,#00960b 449px,#009626 467px,#009630 481px)"></i><i style="background:linear-gradient(#009542 1px,#00963f 163px,#009637 235px,#00962e 269px,#009609 341px,#069507 345px,#3c8c00 365px,#817500 385px,#b43c00 403px,#c21e00 413px,#bf2500 417px,#b43c00 423px,#a05200 427px,#7b7800 433px,#269003 443px,#099407 447px,#009609 449px,#009624 467px,#00962f 481px)"></i><i style="background:linear-gradient(#009542 1px,#00963f 163px,#009637 233px,#00962f 267px,#009609 341px,#0c9406 347px,#3d8c00 365px,#817500 385px,#b23e00 403px,#c12000 413px,#be2700 417px,#b33d00 423px,#a05300 427px,#7d7700 433px,#3a8c00 441px,#009608 449px,#009623 467px,#00962f 481px)"></i><i style="background:linear-gradient(#009542 1px,#00963f 163px,#009637 231px,#00962f 265px,#009608 341px,#3d8c00 365px,#807600 385px,#b14000 403px,#c02200 413px,#bd2900 417px,#b73600 421px,#b23e00 423px,#9f5300 427px,#7e7700 433px,#3d8c00 441px,#059507 449px,#00960a 451px,#009624 469px,#00962e 481px)"></i><i style="background:linear-gradient(#009542 1px,#00963f 163px,#009637 247px,#00962b 285px,#009608 347px,#3a8c00 367px,#7e7700 385px,#b13f00 401px,#c61600 413px,#bf2500 419px,#af4100 425px,#7d7700 433px,#348d01 441px,#059507 447px,#00960b 449px,#009626 467px,#009630 481px)"></i><i style="background:linear-gradient(#009542 1px,#009540 163px,#009639 263px,#009627 311px,#009609 357px,#029608 359px,#378d01 373px,#7d7700 387px,#b23f00 399px,#ce0400 411px,#d00200 413px,#d00100 415px,#ce0500 417px,#c90f00 419px,#b73600 425px,#aa4800 427px,#876e00 431px,#717b00 433px,#408b00 437px,#019608 443px,#009619 451px,#009629 461px,#009632 481px)"></i><i style="background:linear-gradient(#009542 1px,#009540 163px,#009639 263px,#009627 315px,#009616 343px,#009609 359px,#0d9406 363px,#388d01 373px,#7b7800 385px,#857000 387px,#b53a00 397px,#ce0300 407px,#d10200 409px,#d20800 413px,#d00100 419px,#cb0a00 421px,#ba2f00 425px,#ad4400 427px,#817500 431px,#458900 435px,#2a8f02 437px,#119306 439px,#00960a 441px,#00961a 447px,#00962a 457px,#009633 481px)"></i><i style="background:linear-gradient(#009542 1px,#009540 163px,#009638 263px,#009627 307px,#009609 351px,#139305 357px,#3d8c00 367px,#7d7700 379px,#b43b00 391px,#d00000 403px,#d40e00 413px,#d00100 421px,#c90f00 423px,#b23e00 427px,#7e7700 431px,#3a8c00 435px,#029608 439px,#00961a 445px,#00962b 455px,#009633 481px)"></i><i style="background:linear-gradient(#009542 1px,#009540 163px,#009637 261px,#009627 299px,#009609 343px,#039608 345px,#388d00 359px,#807600 373px,#b43c00 385px,#ce0400 397px,#d00200 399px,#d61500 413px,#ce0400 423px,#b53a00 427px,#797800 431px,#2e8e02 435px,#0f9406 437px,#00960c 439px,#009623 447px,#00962c 453px,#009633 481px)"></i><i style="background:linear-gradient(#009542 1px,#009540 163px,#009638 249px,#00962a 287px,#009609 335px,#019608 337px,#348d01 351px,#787900 365px,#827400 367px,#b43b00 379px,#cd0600 391px,#d00100 393px,#d81c00 413px,#d61500 417px,#d00200 423px,#c51800 425px,#b63800 427px,#965d00 429px,#717b00 431px,#458900 433px,#1f9104 435px,#009609 437px,#009623 445px,#00962c 451px,#009633 481px)"></i><i style="background:linear-gradient(#009542 1px,#009540 163px,#009638 241px,#00962c 277px,#009608 329px,#388d01 345px,#7b7800 359px,#847200 361px,#b53b00 373px,#cd0600 385px,#d00100 387px,#d61700 405px,#d92500 413px,#d71b00 417px,#d10400 423px,#c71300 425px,#b63800 427px,#916300 429px,#657f00 431px,#368d01 433px,#0e9406 435px,#00960e 437px,#009622 443px,#00962c 449px,#009633 481px)"></i><i style="background:linear-gradient(#009542 1px,#009540 163px,#009638 243px,#00962c 279px,#009608 331px,#398d00 347px,#7c7700 361px,#b63800 375px,#cf0300 387px,#d00200 389px,#d20600 393px,#d92300 413px,#d51300 419px,#d10300 423px,#c51800 425px,#b33d00 427px,#8d6800 429px,#5f8100 431px,#318e02 433px,#0a9407 435px,#00960f 437px,#009623 443px,#00962c 449px,#009633 481px)"></i><i style="background:linear-gradient(#009542 1px,#009540 163px,#009638 247px,#00962b 283px,#009608 333px,#398c00 349px,#7e7700 363px,#b13f00 375px,#d00000 389px,#d92200 413px,#d51200 419px,#d10200 423px,#c31c00 425px,#ae4200 427px,#886d00 429px,#598300 431px,#2c8f02 433px,#069507 435px,#009610 437px,#009624 443px,#00962d 449px,#009633 481px)"></i><i style="background:linear-gradient(#009542 1px,#009540 163px,#009638 249px,#00962a 287px,#009608 335px,#139305 341px,#3a8c00 351px,#807600 365px,#b43c00 377px,#ce0500 389px,#d00100 391px,#d82000 413px,#d61700 417px,#d00100 423px,#c12100 425px,#aa4800 427px,#837200 429px,#538500 431px,#278f03 433px,#019608 435px,#009624 443px,#00962b 447px,#00962f 455px,#009633 481px)"></i><i style="background:linear-gradient(#009542 1px,#009540 163px,#009638 253px,#009629 291px,#009609 337px,#139305 343px,#3b8c00 353px,#827400 367px,#b53900 379px,#cf0200 391px,#d81f00 413px,#d61600 417px,#cf0200 423px,#be2600 425px,#a54d00 427px,#7e7700 429px,#4d8600 431px,#229003 433px,#009609 435px,#009625 443px,#00962b 447px,#009633 481px)"></i><i style="background:linear-gradient(#009542 1px,#009540 163px,#00963a 263px,#009627 321px,#009617 349px,#009608 367px,#398d00 381px,#7a7800 393px,#857100 395px,#b53900 405px,#ca0d00 413px,#c71400 415px,#c02100 417px,#b83300 419px,#a74a00 421px,#8f6500 423px,#727b00 425px,#2f8e02 429px,#119306 431px,#00960b 433px,#009622 441px,#00962b 447px,#009633 481px)"></i><i style="width:2px;background:linear-gradient(#009542 1px,#00963a 263px,#009627 329px,#009618 355px,#009609 373px,#0c9406 377px,#388d01 387px,#7e7700 399px,#b53b00 409px,#c02300 413px,#bd2a00 415px,#b73600 417px,#a94800 419px,#807600 423px,#438a00 427px,#0c9406 431px,#00960c 433px,#009626 443px,#00962b 447px,#009633 481px)"></i><i style="background:linear-gradient(#009542 1px,#00963e 157px,#009637 227px,#00962e 263px,#009609 325px,#089507 329px,#388d01 345px,#7f7600 363px,#b43b00 379px,#cf0300 395px,#d00100 397px,#d51100 413px,#d10400 421px,#ce0500 423px,#b83300 427px,#a34e00 429px,#896c00 431px,#697d00 433px,#478800 435px,#0c9406 439px,#00960c 441px,#009621 449px,#00962a 455px,#009630 463px,#009633 481px)"></i><i style="background:linear-gradient(#009541 1px,#00963c 117px,#009632 199px,#009625 237px,#009608 289px,#3a8c00 311px,#7e7700 331px,#b33d00 349px,#d00000 369px,#d71800 397px,#db2c00 413px,#d92200 419px,#d10500 429px,#cd0700 431px,#b43b00 435px,#7d7700 439px,#388d01 443px,#019608 447px,#009619 453px,#009628 461px,#00962f 469px,#009633 481px)"></i><i style="background:linear-gradient(#00963f 1px,#00963a 99px,#00962c 207px,#009619 253px,#009608 281px,#3c8c00 303px,#827400 323px,#b53900 341px,#d00000 359px,#d71900 387px,#dd3900 413px,#db2f00 419px,#d20600 431px,#cd0700 433px,#af4100 437px,#916300 439px,#707b00 441px,#4a8700 443px,#0d9406 447px,#00960c 449px,#009621 457px,#00962b 463px,#009633 481px)"></i><i style="background:linear-gradient(#00963b 1px,#009637 73px,#009622 193px,#009624 215px,#009618 247px,#009608 273px,#3f8b00 295px,#807600 313px,#b53a00 331px,#cf0100 349px,#d71900 377px,#e04700 413px,#df4100 417px,#dd3500 421px,#d20600 433px,#cb0a00 435px,#bd2900 437px,#a74a00 439px,#876e00 441px,#618000 443px,#3b8c00 445px,#009609 449px,#00961b 455px,#00962a 463px,#009632 481px)"></i><i style="background:linear-gradient(#009632 1px,#00962d 63px,#009612 163px,#009610 193px,#009617 209px,#009618 223px,#009609 257px,#0b9406 263px,#388d01 279px,#7c7700 299px,#b53a00 319px,#cf0300 337px,#d00100 339px,#d71900 367px,#e25200 413px,#e14d00 417px,#df4100 421px,#d10300 435px,#c61500 437px,#b63700 439px,#975c00 441px,#737a00 443px,#4a8800 445px,#079507 449px,#00960e 451px,#009623 459px,#00962a 463px,#009632 481px)"></i><i style="background:linear-gradient(#009620 1px,#00961a 63px,#009609 117px,#3d8c00 163px,#438a00 193px,#288f03 201px,#149305 209px,#079507 217px,#029608 223px,#0f9406 237px,#288f03 253px,#428a00 263px,#7c7700 281px,#b23e00 301px,#d00100 323px,#d71900 355px,#e45b00 413px,#e35500 417px,#e14a00 421px,#d20800 435px,#cd0600 437px,#bd2a00 439px,#a34f00 441px,#7f7600 443px,#2d8e02 447px,#0c9406 449px,#00960d 451px,#009619 455px,#009629 463px,#009631 481px)"></i><i style="background:linear-gradient(#009609 1px,#009608 11px,#159205 63px,#3b8c00 87px,#7e7700 121px,#b23e00 157px,#b73500 163px,#b93200 193px,#b53a00 195px,#847100 209px,#7d7700 211px,#588300 223px,#5d8100 237px,#6c7d00 251px,#807600 259px,#b53b00 281px,#d00000 305px,#d71a00 341px,#e56500 413px,#e45f00 417px,#e14b00 423px,#d10300 437px,#c31b00 439px,#b04000 441px,#8b6a00 443px,#618000 445px,#378d01 447px,#169205 449px,#00960a 451px,#00961b 457px,#009625 463px,#00962e 481px)"></i><i style="background:linear-gradient(#757a00 1px,#807600 21px,#936100 63px,#b43b00 83px,#d00000 117px,#d51300 163px,#d61400 193px,#d00100 209px,#ce0400 211px,#b93000 223px,#b53b00 247px,#b53a00 253px,#d00000 279px,#d71a00 321px,#e66e00 413px,#e66b00 415px,#e46100 419px,#e14a00 425px,#d20600 437px,#ca0e00 439px,#b83400 441px,#975d00 443px,#717b00 445px,#488800 447px,#269003 449px,#0b9407 451px,#00960b 453px,#009619 461px,#009627 481px)"></i><i style="background:linear-gradient(#757a00 1px,#807600 21px,#936100 63px,#b43b00 83px,#d00000 117px,#d51300 163px,#d61400 193px,#d00100 209px,#ce0300 211px,#ba2e00 223px,#b73600 243px,#b83400 253px,#cf0200 275px,#d00100 277px,#d71a00 317px,#e77300 413px,#e77100 415px,#e56600 419px,#e14e00 425px,#d20700 437px,#ca0c00 439px,#b83300 441px,#965e00 443px,#6e7c00 445px,#448900 447px,#229003 449px,#079507 451px,#00960c 453px,#00961a 461px,#009627 481px)"></i><i style="background:linear-gradient(#757a00 1px,#807600 21px,#936100 63px,#b43b00 83px,#d00000 117px,#d51300 163px,#d61400 193px,#d00100 209px,#ce0400 211px,#ba2f00 223px,#b63700 243px,#b73500 253px,#cf0200 275px,#d00100 277px,#d71a00 317px,#e87600 413px,#e77300 415px,#e66900 419px,#e25000 425px,#d20800 437px,#cb0b00 439px,#b83300 441px,#955f00 443px,#6c7c00 445px,#428a00 447px,#219104 449px,#059507 451px,#00960d 453px,#00961a 461px,#009627 481px)"></i><i style="background:linear-gradient(#757a00 1px,#807600 21px,#936100 63px,#b43c00 83px,#d00000 117px,#d51300 163px,#d61400 193px,#d00100 209px,#ce0500 211px,#b83300 223px,#b23f00 247px,#b23e00 253px,#cf0100 279px,#d00100 281px,#d71900 319px,#e87600 413px,#e77300 415px,#e66900 419px,#e25000 425px,#d20800 437px,#cb0b00 439px,#b83300 441px,#955f00 443px,#6c7c00 445px,#428a00 447px,#219104 449px,#059507 451px,#00960d 453px,#00961a 461px,#009627 481px)"></i><i style="background:linear-gradient(#009609 1px,#009608 11px,#159205 63px,#3f8b00 89px,#7e7700 121px,#b23e00 157px,#b73500 163px,#b83300 193px,#b53b00 195px,#827400 209px,#657f00 217px,#548400 223px,#588300 237px,#657f00 249px,#6b7d00 253px,#837300 261px,#b23e00 279px,#cf0200 301px,#d00100 303px,#d71a00 335px,#e77400 413px,#e66d00 417px,#e35800 423px,#df4300 427px,#d20600 437px,#c81100 439px,#b53a00 441px,#8d6800 443px,#5f8100 445px,#338e01 447px,#0f9406 449px,#00960c 451px,#009619 455px,#009623 461px,#00962e 481px)"></i><i style="background:linear-gradient(#009620 1px,#00961a 63px,#009608 119px,#3c8c00 163px,#418a00 193px,#269003 201px,#0d9406 211px,#009608 219px,#009608 227px,#0e9406 239px,#269003 253px,#438a00 263px,#7c7700 279px,#b13f00 297px,#d00100 317px,#d71800 345px,#e66e00 413px,#e56700 417px,#e25200 423px,#d10300 437px,#c21e00 439px,#aa4700 441px,#827400 443px,#528500 445px,#278f03 447px,#049508 449px,#00961c 455px,#009628 461px,#009631 481px)"></i><i style="background:linear-gradient(#009632 1px,#00962e 63px,#009613 163px,#009611 193px,#009618 209px,#009619 223px,#009609 257px,#0e9406 263px,#398d00 277px,#7e7700 295px,#b23f00 311px,#d00100 329px,#d71900 355px,#e56800 413px,#e46100 417px,#e14d00 423px,#d61400 433px,#cf0200 437px,#bd2900 439px,#9f5300 441px,#767900 443px,#478800 445px,#1f9104 447px,#009609 449px,#009618 453px,#00962a 461px,#009632 481px)"></i><i style="background:linear-gradient(#00963b 1px,#009638 67px,#009624 193px,#009627 219px,#009618 251px,#009609 273px,#029608 275px,#3d8c00 293px,#807600 309px,#b63800 325px,#ce0400 339px,#d00100 341px,#d71b00 365px,#e56200 413px,#e45c00 417px,#e24f00 421px,#de3d00 425px,#d20700 435px,#ca0d00 437px,#b83400 439px,#965e00 441px,#6b7d00 443px,#3d8c00 445px,#189205 447px,#00960b 449px,#009619 453px,#00962b 461px,#009632 481px)"></i><i style="background:linear-gradient(#00963f 1px,#009631 217px,#009625 247px,#009609 287px,#029608 289px,#398c00 305px,#817500 321px,#b53a00 335px,#cf0200 349px,#d71900 371px,#e45d00 413px,#e35600 417px,#e14a00 421px,#d10300 435px,#c41900 437px,#b23f00 439px,#8c6900 441px,#608000 443px,#358d01 445px,#119306 447px,#00960c 449px,#009624 457px,#00962b 461px,#009633 481px)"></i><i style="background:linear-gradient(#009541 1px,#00963d 113px,#009635 215px,#009628 253px,#009609 295px,#029608 297px,#3b8c00 313px,#7c7700 327px,#b43c00 341px,#cf0100 355px,#d71a00 377px,#e35700 413px,#e25100 417px,#e04400 421px,#cf0100 435px,#be2600 437px,#a54c00 439px,#817500 441px,#538500 443px,#2a8f02 445px,#089507 447px,#00960e 449px,#009620 455px,#00962b 461px,#009633 481px)"></i><i style="background:linear-gradient(#009542 1px,#00963e 155px,#009638 217px,#009629 261px,#009609 303px,#029608 305px,#358d01 319px,#817500 335px,#b23e00 347px,#d00000 361px,#d71900 381px,#e25200 413px,#e14c00 417px,#de3e00 421px,#d20500 433px,#c90e00 435px,#b93200 437px,#9a5900 439px,#737a00 441px,#468900 443px,#009608 447px,#009617 451px,#009629 459px,#009630 467px,#009633 481px)"></i><i style="background:linear-gradient(#009542 1px,#00963f 163px,#009638 225px,#00962d 263px,#009609 311px,#039608 313px,#388d01 327px,#7d7700 341px,#b23f00 353px,#d00000 367px,#d71b00 387px,#e14c00 413px,#e04600 417px,#dd3800 421px,#d10200 433px,#c31b00 435px,#b23e00 437px,#8e6600 439px,#667e00 441px,#3b8c00 443px,#189205 445px,#00960a 447px,#009618 451px,#00962a 459px,#009630 467px,#009633 481px)"></i><i style="background:linear-gradient(#009542 1px,#00963f 163px,#009638 235px,#00962d 269px,#009608 319px,#3f8b00 335px,#7e7700 347px,#b43c00 359px,#cf0300 371px,#d10200 373px,#d71800 389px,#e04600 413px,#de3a00 419px,#d20700 431px,#cd0600 433px,#be2700 435px,#a64b00 437px,#847100 439px,#5a8200 441px,#318e01 443px,#109306 445px,#00960c 447px,#009619 451px,#00962a 459px,#009630 467px,#009633 481px)"></i><i style="background:linear-gradient(#009542 1px,#009540 163px,#009638 243px,#00962c 279px,#009609 325px,#0a9407 329px,#3c8c00 341px,#7e7700 353px,#b53900 365px,#cd0700 375px,#d00100 377px,#d71b00 395px,#df4100 413px,#dc3400 419px,#d10400 431px,#c81200 433px,#b83300 435px,#9c5700 437px,#787800 439px,#288f03 443px,#089507 445px,#00960e 447px,#009624 455px,#00962a 459px,#009630 467px,#009633 481px)"></i><i style="background:linear-gradient(#009542 1px,#009540 163px,#009638 255px,#009629 291px,#019608 333px,#3c8c00 347px,#807500 359px,#b13f00 369px,#d00000 381px,#d71800 397px,#de3b00 413px,#db2f00 419px,#d00100 431px,#c31d00 433px,#b33d00 435px,#936100 437px,#6e7c00 439px,#468900 441px,#049508 445px,#00961a 451px,#00962a 459px,#009630 467px,#009633 481px)"></i><i style="background:linear-gradient(#009542 1px,#009540 163px,#009638 261px,#009628 297px,#009609 337px,#159205 343px,#3a8c00 351px,#807600 363px,#b23e00 373px,#cc0800 383px,#d00100 385px,#d71a00 401px,#dd3500 413px,#db2f00 417px,#d20700 429px,#ce0400 431px,#b04100 435px,#916300 437px,#6e7c00 439px,#478900 441px,#079507 445px,#00960d 447px,#009623 455px,#00962c 461px,#009633 481px)"></i><i style="background:linear-gradient(#009542 1px,#009540 163px,#009638 263px,#009628 301px,#00960a 341px,#029608 343px,#378d01 355px,#7f7600 367px,#b33d00 377px,#ce0500 387px,#d00200 389px,#d71800 403px,#db2f00 413px,#d92400 419px,#d10400 429px,#cb0b00 431px,#ac4500 435px,#8f6500 437px,#6d7c00 439px,#279003 443px,#0a9407 445px,#00960c 447px,#009621 455px,#00962b 461px,#009633 481px)"></i><i style="background:linear-gradient(#009542 1px,#009540 163px,#009639 263px,#009628 307px,#009608 347px,#358d01 359px,#7e7700 371px,#b43b00 381px,#cf0200 391px,#d61700 405px,#da2a00 413px,#d81f00 419px,#d10200 429px,#c81100 431px,#bc2c00 433px,#a94900 435px,#8d6800 437px,#6c7c00 439px,#298f03 443px,#0d9406 445px,#00960b 447px,#00961c 453px,#00962a 461px,#009633 481px)"></i><i style="background:linear-gradient(#009542 1px,#00963f 163px,#009639 263px,#009627 311px,#009616 337px,#009608 351px,#388d01 363px,#837200 375px,#b04000 383px,#ce0500 393px,#d10200 395px,#d61700 407px,#d92500 413px,#d82000 417px,#d00100 429px,#ba3000 433px,#a64c00 435px,#8b6a00 437px,#6c7d00 439px,#2a8f02 443px,#0f9306 445px,#00960b 447px,#00961b 453px,#009629 461px,#009633 481px)"></i><i style="background:linear-gradient(#009542 1px,#009638 263px,#009628 303px,#00960a 343px,#019608 345px,#388d01 357px,#807600 369px,#b53a00 379px,#cf0200 389px,#d61600 403px,#db2d00 413px,#d92300 419px,#d10400 429px,#ca0d00 431px,#bd2900 433px,#aa4700 435px,#8d6700 437px,#6c7d00 439px,#478800 441px,#0a9407 445px,#00960c 447px,#009621 455px,#00962b 461px,#009633 481px)"></i><i style="background:linear-gradient(#009542 1px,#009637 263px,#009627 299px,#009609 337px,#0b9407 341px,#378d01 351px,#7d7700 363px,#b14000 373px,#cc0900 383px,#d00100 385px,#d71a00 401px,#dd3500 413px,#db2f00 417px,#d20600 429px,#ce0500 431px,#af4200 435px,#8f6500 437px,#6c7d00 439px,#448900 441px,#059507 445px,#00960e 447px,#009623 455px,#00962a 459px,#009630 467px,#009633 481px)"></i><i style="background:linear-gradient(#009541 1px,#00963d 91px,#009636 163px,#009635 255px,#009627 289px,#009609 331px,#159205 337px,#388d01 345px,#7b7800 357px,#867000 359px,#b53900 369px,#ce0400 379px,#d10200 381px,#d61700 395px,#de3e00 413px,#dc3100 419px,#d00100 431px,#c31c00 433px,#b33e00 435px,#916300 437px,#6b7d00 439px,#418a00 441px,#1e9104 443px,#009608 445px,#00961c 451px,#00962b 459px,#009633 481px)"></i><i style="background:linear-gradient(#00963e 1px,#009638 89px,#009627 163px,#009626 193px,#00962d 223px,#00962d 253px,#009622 283px,#009608 323px,#139305 329px,#3b8c00 339px,#7b7800 351px,#857000 353px,#b43c00 363px,#d00000 375px,#d71b00 393px,#e04600 413px,#dd3800 419px,#d10300 431px,#c51700 433px,#b53b00 435px,#926200 437px,#697d00 439px,#3d8c00 441px,#189205 443px,#00960a 445px,#009618 449px,#00962a 457px,#009630 465px,#009632 481px)"></i><i style="background:linear-gradient(#009638 1px,#00962f 71px,#00960e 163px,#00960d 193px,#009619 223px,#00961c 253px,#009609 305px,#029608 307px,#149305 315px,#388d01 327px,#578300 335px,#7c7700 343px,#8c6800 347px,#b53900 357px,#cf0100 369px,#d71800 387px,#e14e00 413px,#df3f00 419px,#d10500 431px,#c71300 433px,#b53900 435px,#916300 437px,#657f00 439px,#378d01 441px,#119306 443px,#00960c 445px,#00961f 451px,#00962a 457px,#009632 481px)"></i><i style="background:linear-gradient(#00962a 1px,#00961e 63px,#009608 115px,#398d00 145px,#657f00 163px,#667e00 193px,#3c8c00 209px,#1e9104 223px,#099507 253px,#209104 273px,#408b00 295px,#5e8100 311px,#817500 325px,#9a5a00 335px,#b53900 345px,#d00000 361px,#d71800 381px,#e35500 413px,#e04700 419px,#d20700 431px,#c90e00 433px,#b73700 435px,#916300 437px,#637f00 439px,#348d01 441px,#0d9406 443px,#00960d 445px,#00961a 449px,#009628 457px,#009630 481px)"></i><i style="background:linear-gradient(#00962a 1px,#00961e 63px,#009608 115px,#398d00 145px,#657f00 163px,#667e00 193px,#3c8c00 209px,#1e9104 223px,#0a9407 253px,#1c9104 269px,#3a8c00 289px,#598300 305px,#7d7700 319px,#916300 327px,#b33d00 339px,#ce0400 355px,#d00100 357px,#d71900 377px,#e45c00 413px,#e25400 417px,#e04400 421px,#d20800 431px,#cb0b00 433px,#b73600 435px,#8f6500 437px,#5d8100 439px,#2d8e02 441px,#059507 443px,#00960f 445px,#00961c 449px,#009626 455px,#009630 481px)"></i><i style="background:linear-gradient(#009638 1px,#00962f 71px,#00960e 163px,#00960d 193px,#009619 223px,#00961a 253px,#009609 291px,#129306 299px,#378d01 311px,#7b7700 327px,#8c6900 331px,#b43c00 341px,#cd0700 353px,#d00100 355px,#d71800 373px,#e56300 413px,#e46000 415px,#e25300 419px,#de3e00 423px,#d30900 431px,#cb0a00 433px,#b63800 435px,#8a6b00 437px,#548400 439px,#239003 441px,#00960a 443px,#009620 449px,#00962b 455px,#009632 481px)"></i><i style="background:linear-gradient(#00963e 1px,#009638 89px,#009627 163px,#009625 193px,#00962d 223px,#00962b 251px,#009623 269px,#009609 307px,#0a9407 311px,#388d01 323px,#807600 337px,#b53a00 349px,#d00000 361px,#d71900 379px,#e45d00 413px,#e35500 417px,#e04400 421px,#d20700 431px,#c71300 433px,#b13f00 435px,#857000 437px,#508600 439px,#209104 441px,#00960a 443px,#009620 449px,#00962c 455px,#009632 481px)"></i><i style="background:linear-gradient(#009541 1px,#009633 249px,#009628 277px,#009608 317px,#388d00 331px,#7a7800 343px,#857100 345px,#b43b00 355px,#d00100 367px,#d71800 383px,#e35700 413px,#e04700 419px,#d10400 431px,#c41b00 433px,#ab4600 435px,#817500 437px,#4c8700 439px,#1f9104 441px,#00960a 443px,#009620 449px,#00962c 455px,#009633 481px)"></i><i style="background:linear-gradient(#009542 1px,#009637 251px,#00962a 283px,#009608 325px,#3c8c00 339px,#827400 351px,#b43b00 361px,#ce0500 371px,#d00200 373px,#d71b00 389px,#e25000 413px,#e14e00 415px,#df4100 419px,#d00200 431px,#c02200 433px,#a54d00 435px,#7b7800 437px,#488800 439px,#1d9104 441px,#00960a 443px,#00961f 449px,#00962b 455px,#009633 481px)"></i><i style="background:linear-gradient(#009542 1px,#00963f 163px,#009638 253px,#009629 289px,#009609 329px,#039608 331px,#388d01 343px,#807600 355px,#b43c00 365px,#ce0500 375px,#d10200 377px,#d71800 391px,#e14b00 413px,#de3b00 419px,#d30900 429px,#ce0400 431px,#bc2b00 433px,#9d5500 435px,#747a00 437px,#438a00 439px,#1a9205 441px,#00960b 443px,#00961f 449px,#00962b 455px,#009630 463px,#009633 481px)"></i><i style="background:linear-gradient(#009542 1px,#00963f 163px,#009638 255px,#009629 291px,#00960a 331px,#029608 333px,#368d01 345px,#7d7700 357px,#b13f00 367px,#cd0700 377px,#d00100 379px,#d71b00 395px,#e04500 413px,#dd3600 419px,#d20600 429px,#c90f00 431px,#b73500 433px,#955f00 435px,#6a7d00 437px,#3b8c00 439px,#149305 441px,#00960c 443px,#009620 449px,#00962b 455px,#009633 481px)"></i><i style="background:linear-gradient(#009542 1px,#009540 163px,#009638 259px,#009628 295px,#009608 335px,#3f8b00 349px,#7b7800 359px,#866f00 361px,#af4100 369px,#d00000 381px,#d71a00 397px,#df3f00 413px,#dc3000 419px,#d10300 429px,#c41a00 431px,#b23f00 433px,#8c6800 435px,#608000 437px,#348d01 439px,#0f9406 441px,#00960d 443px,#009620 449px,#00962b 455px,#009633 481px)"></i><i style="background:linear-gradient(#009542 1px,#009540 163px,#009638 261px,#009628 297px,#009608 337px,#3d8c00 351px,#787800 361px,#847200 363px,#b63800 373px,#d00100 383px,#d71900 399px,#dd3900 413px,#da2a00 419px,#cf0100 429px,#bf2400 431px,#a84900 433px,#847100 435px,#588300 437px,#2e8e02 439px,#0a9407 441px,#00960e 443px,#009620 449px,#00962b 455px,#009633 481px)"></i><i style="background:linear-gradient(#009542 1px,#009540 163px,#009638 263px,#009628 299px,#009609 339px,#0c9406 343px,#398c00 353px,#817500 365px,#b43c00 375px,#ce0400 385px,#d10200 387px,#d71800 401px,#dc3300 413px,#db2c00 417px,#d20600 427px,#cb0a00 429px,#bc2c00 431px,#a25000 433px,#7f7600 435px,#2b8f02 439px,#089507 441px,#00960e 443px,#009620 449px,#00962b 455px,#009630 463px,#009633 481px)"></i><i style="background:linear-gradient(#009542 1px,#009540 163px,#009638 263px,#009627 303px,#009608 343px,#3e8b00 357px,#7b7800 367px,#866f00 369px,#b04000 377px,#cc0800 387px,#d00100 389px,#d71700 403px,#db2e00 413px,#da2700 417px,#d10400 427px,#c81100 429px,#b93100 431px,#9e5500 433px,#7b7700 435px,#2b8f02 439px,#099407 441px,#00960e 443px,#009624 451px,#00962d 457px,#009633 481px)"></i><i style="background:linear-gradient(#009542 1px,#009540 163px,#009639 263px,#009628 305px,#00960a 345px,#029608 347px,#388d00 359px,#817500 371px,#b53900 381px,#d00000 391px,#d61700 405px,#da2900 413px,#d92300 417px,#d00200 427px,#c51700 429px,#b73600 431px,#787900 435px,#2a8f02 439px,#0a9407 441px,#00960d 443px,#009623 451px,#00962c 457px,#009633 481px)"></i><i style="background:linear-gradient(#009542 1px,#009540 163px,#009639 263px,#009628 309px,#009609 349px,#0d9406 353px,#3d8c00 363px,#7b7700 373px,#b33d00 383px,#ce0300 393px,#d20600 397px,#d92500 413px,#d81e00 417px,#cf0200 427px,#b43b00 431px,#965d00 433px,#757a00 435px,#2a8f02 439px,#0b9407 441px,#00960d 443px,#009623 451px,#00962c 457px,#009633 481px)"></i><i style="background:linear-gradient(#009542 1px,#009540 163px,#009639 263px,#009627 309px,#009608 349px,#378d01 361px,#817500 373px,#b63800 383px,#d00100 393px,#d71900 407px,#da2700 413px,#d82000 417px,#d00000 427px,#b43b00 431px,#955e00 433px,#737a00 435px,#4a8700 437px,#079507 441px,#00960e 443px,#009624 451px,#00962c 457px,#009633 481px)"></i><i style="background:linear-gradient(#009542 1px,#009540 163px,#009639 263px,#009628 307px,#00960a 347px,#039608 349px,#318e02 359px,#7a7800 371px,#867000 373px,#b23e00 381px,#ce0300 391px,#d10200 393px,#d51300 403px,#da2a00 413px,#d92300 417px,#d00100 427px,#c31b00 429px,#b53b00 431px,#945f00 433px,#707b00 435px,#478900 437px,#029608 441px,#00961b 447px,#00962b 455px,#009630 463px,#009633 481px)"></i><i style="background:linear-gradient(#009542 1px,#009540 163px,#009639 263px,#009628 311px,#009616 337px,#009608 351px,#388d01 363px,#787900 373px,#857100 375px,#b23e00 383px,#cf0100 393px,#d71800 407px,#da2800 413px,#d92100 417px,#cf0100 427px,#c11f00 429px,#b23f00 431px,#916300 433px,#6d7c00 435px,#448900 437px,#019608 441px,#00961b 447px,#00962b 455px,#009630 463px,#009633 481px)"></i><i style="background:linear-gradient(#009542 1px,#009540 163px,#00963a 263px,#009629 313px,#009617 339px,#00960a 353px,#039608 355px,#338d01 365px,#827400 377px,#b14000 385px,#d00000 395px,#d61600 407px,#d92500 413px,#d81e00 417px,#d20600 425px,#cd0600 427px,#bf2400 429px,#ae4300 431px,#8e6600 433px,#6a7d00 435px,#428a00 437px,#009608 441px,#00961b 447px,#00962b 455px,#009630 463px,#009633 481px)"></i><i style="background:linear-gradient(#009542 1px,#009540 163px,#00963a 263px,#009628 317px,#009617 343px,#009609 357px,#109306 361px,#398c00 369px,#7f7600 379px,#af4100 387px,#d00000 397px,#d92200 413px,#d71b00 417px,#d10400 425px,#cb0b00 427px,#bd2800 429px,#aa4700 431px,#8b6900 433px,#677e00 435px,#408b00 437px,#009608 441px,#00961b 447px,#00962a 455px,#009630 463px,#009633 481px)"></i><i style="background:linear-gradient(#009542 1px,#009540 163px,#00963a 263px,#009628 321px,#009618 345px,#019608 361px,#408b00 373px,#7b7800 381px,#886d00 383px,#b73500 391px,#d00100 399px,#d81f00 413px,#d61400 419px,#d10300 425px,#c81000 427px,#bb2c00 429px,#a64b00 431px,#886d00 433px,#647f00 435px,#3d8c00 437px,#009608 441px,#00961b 447px,#00962a 455px,#009630 463px,#009633 481px)"></i><i style="background:linear-gradient(#009542 1px,#009540 163px,#00963a 263px,#009628 319px,#009618 343px,#009608 359px,#1c9104 365px,#3c8c00 371px,#847200 381px,#b53b00 389px,#ce0400 397px,#d10300 399px,#d92100 413px,#d61600 419px,#d10300 425px,#c90f00 427px,#bb2c00 429px,#a64c00 431px,#876e00 433px,#618000 435px,#3a8c00 437px,#1a9205 439px,#009609 441px,#009621 449px,#00962b 455px,#009633 481px)"></i><i style="background:linear-gradient(#009542 1px,#009540 163px,#00963a 263px,#009628 317px,#009617 343px,#009608 357px,#3c8c00 369px,#827400 379px,#b33d00 387px,#cc0900 395px,#d00100 397px,#d92400 413px,#d81d00 417px,#d10400 425px,#ca0d00 427px,#bc2b00 429px,#a64c00 431px,#867000 433px,#5e8100 435px,#378d01 437px,#169205 439px,#00960a 441px,#009622 449px,#00962c 455px,#009633 481px)"></i><i style="background:linear-gradient(#009542 1px,#009540 163px,#00963a 263px,#009628 315px,#009616 341px,#009608 355px,#3c8c00 367px,#807600 377px,#b04000 385px,#d00000 395px,#d61700 407px,#da2600 413px,#d81f00 417px,#d10500 425px,#cb0b00 427px,#bc2a00 429px,#a54c00 431px,#847100 433px,#5b8200 435px,#338d01 437px,#119306 439px,#00960c 441px,#009623 449px,#00962c 455px,#009633 481px)"></i><i style="background:linear-gradient(#009542 1px,#009540 163px,#00963a 263px,#009628 313px,#009616 339px,#009608 353px,#3b8c00 365px,#7f7600 375px,#ae4300 383px,#ce0300 393px,#d10300 395px,#d51100 403px,#da2900 413px,#d92100 417px,#d20600 425px,#cc0900 427px,#bd2a00 429px,#a54d00 431px,#837300 433px,#588300 435px,#308e02 437px,#0d9406 439px,#00960d 441px,#009624 449px,#00962d 455px,#009633 481px)"></i><i style="background:linear-gradient(#009542 1px,#009540 163px,#009639 263px,#009628 309px,#009616 335px,#009609 349px,#0e9406 353px,#358d01 361px,#827400 373px,#b04100 381px,#ce0400 391px,#d10200 393px,#d71800 405px,#db2c00 413px,#d92400 417px,#d20700 425px,#cd0600 427px,#be2800 429px,#a64c00 431px,#837300 433px,#578300 435px,#2e8e02 437px,#0a9407 439px,#00960e 441px,#009620 447px,#00962b 453px,#009633 481px)"></i><i style="background:linear-gradient(#009542 1px,#009540 163px,#009639 263px,#009628 305px,#009608 345px,#358d01 357px,#7f7600 369px,#b53a00 379px,#d00000 389px,#d71700 403px,#db2f00 413px,#da2700 417px,#cf0200 427px,#bf2400 429px,#a84900 431px,#847100 433px,#578300 435px,#2d8e02 437px,#099407 439px,#00960e 441px,#009621 447px,#00962c 453px,#009633 481px)"></i><i style="background:linear-gradient(#009542 1px,#009540 163px,#009638 263px,#009627 301px,#009608 341px,#3f8b00 355px,#7c7700 365px,#b04000 375px,#cc0800 385px,#d00100 387px,#d71700 401px,#dc3300 413px,#da2a00 417px,#d00100 427px,#c12100 429px,#ab4600 431px,#867000 433px,#588300 435px,#2d8f02 437px,#089507 439px,#00960f 441px,#009622 447px,#00962c 453px,#009633 481px)"></i><i style="width:3px;background:linear-gradient(#009542 1px,#009540 163px,#009638 259px,#009628 295px,#00960a 335px,#029608 337px,#358d01 349px,#797800 361px,#847200 363px,#b53a00 373px,#ce0400 383px,#d10200 385px,#d71700 399px,#dd3600 413px,#db2d00 417px,#d10200 427px,#c21d00 429px,#ad4400 431px,#876e00 433px,#588300 435px,#2c8f02 437px,#079507 439px,#00960f 441px,#009622 447px,#00962c 453px,#009633 481px)"></i><i style="background:linear-gradient(#009542 1px,#009540 163px,#009638 261px,#009628 297px,#009609 337px,#039608 339px,#378d01 351px,#7c7700 363px,#af4100 373px,#d00000 385px,#d71900 401px,#dc3400 413px,#db2c00 417px,#d00100 427px,#c11f00 429px,#ac4500 431px,#866f00 433px,#588300 435px,#2c8f02 437px,#079507 439px,#00960f 441px,#009622 447px,#00962c 453px,#009633 481px)"></i><i style="background:linear-gradient(#009542 1px,#009540 163px,#009638 263px,#009628 301px,#009609 341px,#0e9406 345px,#3c8c00 355px,#837300 367px,#b53900 377px,#cf0200 387px,#d71900 403px,#dc3000 413px,#da2800 417px,#d00100 427px,#c02300 429px,#a94800 431px,#857100 433px,#578300 435px,#2d8f02 437px,#099507 439px,#00960e 441px,#009621 447px,#00962c 453px,#009633 481px)"></i><i style="background:linear-gradient(#009542 1px,#009540 163px,#009639 263px,#009627 305px,#019608 345px,#368d01 357px,#7f7600 369px,#b43c00 379px,#ce0400 389px,#d10200 391px,#d61600 403px,#db2c00 413px,#d92400 417px,#d20700 425px,#cd0600 427px,#be2700 429px,#a64c00 431px,#837300 433px,#578300 435px,#2e8e02 437px,#0a9407 439px,#00960e 441px,#009620 447px,#00962b 453px,#009633 481px)"></i><i style="background:linear-gradient(#009542 1px,#009540 163px,#009639 263px,#009627 307px,#009608 347px,#378d01 359px,#807600 371px,#b53a00 381px,#d00100 391px,#d61700 405px,#da2a00 413px,#d92200 417px,#d20600 425px,#cc0900 427px,#bd2900 429px,#a54d00 431px,#837300 433px,#2f8e02 437px,#0c9406 439px,#00960d 441px,#009625 449px,#00962d 455px,#009633 481px)"></i><i style="background:linear-gradient(#009542 1px,#009540 163px,#009639 263px,#009628 307px,#009609 347px,#0d9406 351px,#3c8c00 361px,#7b7800 371px,#866f00 373px,#b13f00 381px,#ce0500 391px,#d10200 393px,#d71900 407px,#da2800 413px,#d92100 417px,#d20500 425px,#cb0a00 427px,#bc2a00 429px,#a54d00 431px,#837200 433px,#598300 435px,#318e01 437px,#0f9406 439px,#00960d 441px,#009624 449px,#00962c 455px,#009633 481px)"></i><i style="background:linear-gradient(#009542 1px,#009540 163px,#009639 263px,#009628 307px,#00960a 347px,#019608 349px,#388d01 361px,#827400 373px,#b63800 383px,#d00100 393px,#d71800 407px,#da2700 413px,#d81f00 417px,#d10500 425px,#cb0b00 427px,#bc2a00 429px,#a54d00 431px,#847100 433px,#5b8200 435px,#338e01 437px,#119306 439px,#00960c 441px,#009623 449px,#00962c 455px,#009633 481px)"></i><i style="background:linear-gradient(#009542 1px,#009540 163px,#009639 263px,#009628 309px,#009609 349px,#179205 355px,#3e8b00 363px,#7d7700 373px,#b43c00 383px,#cf0200 393px,#d61700 407px,#d92500 413px,#d81e00 417px,#d10400 425px,#ca0c00 427px,#bc2b00 429px,#a54d00 431px,#857100 433px,#5c8200 435px,#358d01 437px,#139305 439px,#00960b 441px,#009623 449px,#00962c 455px,#009633 481px)"></i><i style="background:linear-gradient(#009542 1px,#009540 163px,#009639 263px,#009628 307px,#00960a 347px,#019608 349px,#388d01 361px,#817400 373px,#b63800 383px,#d00000 393px,#d71800 407px,#da2600 413px,#d81f00 417px,#d10500 425px,#cb0c00 427px,#bc2b00 429px,#a54d00 431px,#847100 433px,#5b8200 435px,#348d01 437px,#129306 439px,#00960c 441px,#009623 449px,#00962c 455px,#009633 481px)"></i><i style="background:linear-gradient(#009542 1px,#009540 163px,#009639 263px,#009627 307px,#009608 347px,#408b00 361px,#7d7700 371px,#b33d00 381px,#ce0400 391px,#d10200 393px,#d10500 395px,#d71900 407px,#da2800 413px,#d82000 417px,#d10500 425px,#cb0a00 427px,#bc2a00 429px,#a54d00 431px,#847200 433px,#5a8200 435px,#318e01 437px,#0f9306 439px,#00960c 441px,#009624 449px,#00962c 455px,#009633 481px)"></i><i style="background:linear-gradient(#009542 1px,#009540 163px,#009639 263px,#009627 305px,#009609 345px,#179205 351px,#3d8c00 359px,#797800 369px,#857100 371px,#af4200 379px,#d00100 391px,#d71700 405px,#da2900 413px,#d92200 417px,#d20600 425px,#cc0900 427px,#bd2a00 429px,#a54d00 431px,#837300 433px,#2f8e02 437px,#0c9406 439px,#00960d 441px,#009625 449px,#00962d 455px,#009633 481px)"></i><i style="background:linear-gradient(#009542 1px,#009540 163px,#009638 263px,#009628 301px,#009609 341px,#029608 343px,#378d01 355px,#7d7700 367px,#b14000 377px,#d00100 389px,#d71a00 405px,#db2d00 413px,#d92500 417px,#d20700 425px,#cd0600 427px,#bd2800 429px,#a54d00 431px,#817500 433px,#2b8f02 437px,#089507 439px,#00960f 441px,#009621 447px,#00962b 453px,#009633 481px)"></i><i style="background:linear-gradient(#009542 1px,#009540 163px,#009638 259px,#009629 295px,#009609 337px,#0c9406 341px,#388d01 351px,#7c7700 363px,#b63800 375px,#cf0300 385px,#d10200 387px,#d71700 401px,#dc3100 413px,#da2900 417px,#cf0300 427px,#be2700 429px,#a44e00 431px,#7f7600 433px,#4f8600 435px,#259003 437px,#019608 439px,#009623 447px,#00962c 453px,#009633 481px)"></i><i style="width:3px;background:linear-gradient(#009542 1px,#009540 163px,#009638 253px,#00962a 289px,#009608 333px,#398d00 347px,#7b7800 359px,#857000 361px,#b53a00 371px,#cd0700 381px,#d00100 383px,#d71800 399px,#dd3600 413px,#db2d00 417px,#d00000 427px,#be2600 429px,#a34e00 431px,#7b7800 433px,#4a8800 435px,#1f9104 437px,#009609 439px,#00961f 445px,#00962b 451px,#009630 459px,#009633 481px)"></i><i style="background:linear-gradient(#009542 1px,#009540 163px,#009638 257px,#009628 293px,#009608 335px,#169205 341px,#398d00 349px,#7c7700 361px,#b63800 373px,#ce0400 383px,#d00200 385px,#d61700 399px,#dc3400 413px,#db2b00 417px,#d00100 427px,#be2600 429px,#a44e00 431px,#7d7700 433px,#4c8700 435px,#229003 437px,#009609 439px,#009619 443px,#00962b 451px,#009630 459px,#009633 481px)"></i><i style="background:linear-gradient(#009542 1px,#009540 163px,#009637 263px,#009628 299px,#009609 339px,#0c9406 343px,#398d00 353px,#7f7600 365px,#b13f00 375px,#d00100 387px,#d71900 403px,#dc3000 413px,#da2800 417px,#d20800 425px,#ce0400 427px,#be2700 429px,#a44d00 431px,#7f7600 433px,#508500 435px,#279003 437px,#039608 439px,#009622 447px,#00962c 453px,#009633 481px)"></i><i style="background:linear-gradient(#009542 1px,#009540 163px,#009638 263px,#009628 303px,#009609 343px,#039608 345px,#398d00 357px,#817500 369px,#b53b00 379px,#cf0200 389px,#d10200 391px,#d71900 405px,#db2c00 413px,#d92400 417px,#d20700 425px,#cd0700 427px,#bd2900 429px,#a54d00 431px,#817500 433px,#2c8f02 437px,#089507 439px,#00960e 441px,#009621 447px,#00962b 453px,#009633 481px)"></i><i style="background:linear-gradient(#009542 1px,#009540 163px,#009639 263px,#009628 307px,#009608 347px,#358d01 359px,#7e7700 371px,#b43c00 381px,#cf0200 391px,#d61700 405px,#da2900 413px,#d92200 417px,#d20600 425px,#cc0900 427px,#bd2a00 429px,#a54d00 431px,#837300 433px,#2f8e02 437px,#0d9406 439px,#00960d 441px,#009624 449px,#00962d 455px,#009633 481px)"></i><i style="background:linear-gradient(#009542 1px,#009540 163px,#009639 263px,#009627 309px,#009608 349px,#378d01 361px,#817500 373px,#b63800 383px,#cc0900 391px,#d00100 393px,#d71900 407px,#da2700 413px,#d82000 417px,#d10500 425px,#cb0a00 427px,#bc2a00 429px,#a54d00 431px,#847200 433px,#5a8200 435px,#328e01 437px,#0f9306 439px,#00960c 441px,#009624 449px,#00962c 455px,#009633 481px)"></i><i style="background:linear-gradient(#009542 1px,#009540 163px,#009639 263px,#009627 311px,#009617 335px,#019608 351px,#398d00 363px,#787900 373px,#847100 375px,#b13f00 383px,#ce0400 393px,#d10200 395px,#d61700 407px,#da2600 413px,#d81e00 417px,#d10500 425px,#ca0c00 427px,#bc2b00 429px,#a54d00 431px,#857100 433px,#5c8200 435px,#348d01 437px,#129306 439px,#00960b 441px,#009623 449px,#00962c 455px,#009633 481px)"></i><i style="background:linear-gradient(#009542 1px,#009540 163px,#009639 263px,#009627 311px,#009616 337px,#009608 351px,#388d01 363px,#847200 375px,#b04000 383px,#ce0400 393px,#d10200 395px,#d61700 407px,#da2600 413px,#d81e00 417px,#d10500 425px,#cb0c00 427px,#bc2b00 429px,#a54d00 431px,#847100 433px,#5c8200 435px,#348d01 437px,#129306 439px,#00960b 441px,#009623 449px,#00962c 455px,#009633 481px)"></i><i style="background:linear-gradient(#009542 1px,#009540 163px,#009639 263px,#009628 309px,#009609 349px,#0e9406 353px,#348d01 361px,#7f7600 373px,#b53900 383px,#d00100 393px,#d71900 407px,#da2800 413px,#d82000 417px,#d20500 425px,#cb0a00 427px,#bc2a00 429px,#a54d00 431px,#837200 433px,#598300 435px,#318e01 437px,#0f9406 439px,#00960c 441px,#009624 449px,#00962c 455px,#009633 481px)"></i><i style="background:linear-gradient(#009542 1px,#00963f 163px,#009639 263px,#009628 307px,#00960a 347px,#029608 349px,#308e02 359px,#797800 371px,#857000 373px,#b23e00 381px,#ce0300 391px,#d10200 393px,#d51300 403px,#da2a00 413px,#d92200 417px,#d20600 425px,#cc0800 427px,#bd2900 429px,#a54d00 431px,#827300 433px,#2e8e02 437px,#0c9406 439px,#00960d 441px,#00961f 447px,#00962a 453px,#009630 481px)"></i><i style="background:linear-gradient(#00963f 1px,#00963c 163px,#009637 263px,#009628 307px,#009609 347px,#039508 349px,#3b8c00 361px,#7a7800 371px,#866f00 373px,#b33e00 381px,#cf0300 391px,#d10300 393px,#d61700 405px,#da2a00 413px,#d92300 417px,#d20600 425px,#cc0800 427px,#bd2900 429px,#a64c00 431px,#847200 433px,#5a8200 435px,#348d01 437px,#149305 439px,#00960a 441px,#009615 445px,#00961c 451px,#00961f 481px)"></i><i style="background:linear-gradient(#00962e 1px,#009628 263px,#00961b 317px,#009609 345px,#0a9407 349px,#368d01 359px,#7d7700 371px,#b43c00 381px,#cf0200 391px,#d71700 405px,#da2a00 413px,#d92300 417px,#cf0200 427px,#b43b00 431px,#9d5600 433px,#8a6a00 435px,#7f7600 437px,#677e00 441px,#5a8200 445px,#548400 453px,#508600 481px)"></i><i style="background:linear-gradient(#00963a 1px,#009633 263px,#009625 309px,#009617 333px,#009608 349px,#378d01 361px,#817400 373px,#b63700 383px,#cc0800 391px,#d00100 393px,#d71a00 407px,#da2900 413px,#d92100 417px,#d20600 425px,#cc0800 427px,#bd2800 429px,#a84900 431px,#896c00 433px,#657f00 435px,#448900 437px,#2a8f02 439px,#149305 441px,#039608 443px,#00960f 453px,#009611 481px)"></i><i style="background:linear-gradient(#009541 1px,#00963f 163px,#009639 263px,#009628 309px,#00960a 349px,#029608 351px,#308e02 361px,#468900 365px,#7a7800 373px,#866f00 375px,#b33d00 383px,#cf0200 393px,#d71800 407px,#da2700 413px,#d81f00 417px,#d10500 425px,#cb0b00 427px,#bc2a00 429px,#a54c00 431px,#847100 433px,#5b8200 435px,#348d01 437px,#129306 439px,#00960b 441px,#009618 445px,#009627 453px,#00962d 481px)"></i><i style="background:linear-gradient(#009542 1px,#009540 163px,#009639 263px,#009628 311px,#009616 337px,#009609 351px,#0e9406 355px,#358d01 363px,#807600 375px,#b63700 385px,#cc0800 393px,#d00100 395px,#d92500 413px,#d81d00 417px,#d10400 425px,#ca0d00 427px,#bc2b00 429px,#a54c00 431px,#857000 433px,#5d8100 435px,#358d01 437px,#149305 439px,#00960b 441px,#009622 449px,#00962c 455px,#009632 481px)"></i><i style="background:linear-gradient(#009542 1px,#009540 163px,#009639 263px,#009628 309px,#009608 349px,#0f9306 353px,#358d01 361px,#807600 373px,#b63900 383px,#d00100 393px,#d71900 407px,#da2800 413px,#d82000 417px,#d10500 425px,#cb0a00 427px,#bc2a00 429px,#a54d00 431px,#847200 433px,#5a8200 435px,#328e01 437px,#0f9306 439px,#00960c 441px,#009624 449px,#00962c 455px,#009633 481px)"></i><i style="background:linear-gradient(#009542 1px,#009540 163px,#009639 263px,#009628 307px,#009608 347px,#368d01 359px,#807600 371px,#b53a00 381px,#d00000 391px,#d71800 405px,#db2b00 413px,#d92300 417px,#d20600 425px,#cc0800 427px,#bd2900 429px,#a54d00 431px,#827300 433px,#578300 435px,#2e8e02 437px,#0b9407 439px,#00960e 441px,#009620 447px,#00962b 453px,#009630 461px,#009633 481px)"></i><i style="background:linear-gradient(#009542 1px,#009540 163px,#009639 263px,#009627 305px,#009608 345px,#368d01 357px,#7f7600 369px,#b43b00 379px,#cf0200 389px,#d61700 403px,#db2e00 413px,#da2600 417px,#d20700 425px,#cd0600 427px,#bd2800 429px,#a54d00 431px,#817500 433px,#2a8f02 437px,#069507 439px,#00960f 441px,#009621 447px,#00962c 453px,#009633 481px)"></i><i style="width:2px;background:linear-gradient(#009542 1px,#009540 163px,#009638 263px,#009628 303px,#009608 343px,#189205 349px,#3f8b00 357px,#7c7700 367px,#b23e00 377px,#cd0600 387px,#d00200 389px,#d71800 403px,#dc3000 413px,#da2800 417px,#d20800 425px,#ce0400 427px,#be2700 429px,#a44e00 431px,#7f7600 433px,#508600 435px,#269003 437px,#039608 439px,#009623 447px,#00962c 453px,#009633 481px)"></i><i style="background:linear-gradient(#009542 1px,#009540 163px,#009638 263px,#009628 303px,#009609 343px,#0e9406 347px,#3d8c00 357px,#7a7800 367px,#857000 369px,#b04100 377px,#cd0700 387px,#d00100 389px,#d71800 403px,#dc3000 413px,#da2700 417px,#d20800 425px,#ce0400 427px,#be2800 429px,#a44e00 431px,#7f7600 433px,#518500 435px,#278f03 437px,#039508 439px,#009610 441px,#009622 447px,#00962c 453px,#009633 481px)"></i><i style="background:linear-gradient(#009542 1px,#009540 163px,#009639 263px,#009628 305px,#009609 345px,#0d9406 349px,#3d8c00 359px,#7b7800 369px,#866f00 371px,#b23f00 379px,#ce0500 389px,#d10200 391px,#d40f00 399px,#db2d00 413px,#d92500 417px,#d20700 425px,#cd0600 427px,#bd2800 429px,#a54d00 431px,#817500 433px,#2b8f02 437px,#079507 439px,#00960f 441px,#009621 447px,#00962c 453px,#009633 481px)"></i><i style="background:linear-gradient(#009542 1px,#009540 163px,#009639 263px,#009628 307px,#009609 347px,#0d9406 351px,#3c8c00 361px,#7c7700 371px,#b43c00 381px,#cf0200 391px,#d71700 405px,#db2b00 413px,#d92300 417px,#d20600 425px,#cc0800 427px,#bd2900 429px,#a54d00 431px,#827300 433px,#568300 435px,#2e8e02 437px,#0b9407 439px,#00960e 441px,#009620 447px,#00962b 453px,#009630 461px,#009633 481px)"></i><i style="background:linear-gradient(#009542 1px,#009540 163px,#009639 263px,#009628 309px,#009609 349px,#039508 351px,#328e01 361px,#7d7700 373px,#b53a00 383px,#d00000 393px,#d71900 407px,#da2800 413px,#d92100 417px,#d20600 425px,#cb0a00 427px,#bd2a00 429px,#a54d00 431px,#837200 433px,#598300 435px,#318e01 437px,#0f9406 439px,#00960d 441px,#009624 449px,#00962c 455px,#009633 481px)"></i><i style="background:linear-gradient(#009542 1px,#009540 163px,#00963a 263px,#009628 311px,#009617 337px,#00960a 351px,#029608 353px,#328e01 363px,#498800 367px,#7e7700 375px,#b63800 385px,#cd0700 393px,#d00100 395px,#d61700 407px,#da2600 413px,#d81f00 417px,#d10500 425px,#cb0c00 427px,#bc2b00 429px,#a54c00 431px,#857100 433px,#5c8200 435px,#348d01 437px,#129306 439px,#00960c 441px,#009623 449px,#00962c 455px,#009633 481px)"></i><i style="background:linear-gradient(#009542 1px,#009540 163px,#009639 263px,#009628 311px,#009616 337px,#009609 351px,#0e9406 355px,#358d01 363px,#817500 375px,#af4200 383px,#ce0500 393px,#d10200 395px,#d71700 407px,#da2600 413px,#d81f00 417px,#d10500 425px,#cb0b00 427px,#bc2a00 429px,#a54c00 431px,#847100 433px,#5b8200 435px,#338d01 437px,#119306 439px,#00960c 441px,#009623 449px,#00962c 455px,#009633 481px)"></i><i style="background:linear-gradient(#009542 1px,#009540 163px,#009639 263px,#009628 307px,#009609 347px,#039508 349px,#3b8c00 361px,#7a7800 371px,#866f00 373px,#b23e00 381px,#ce0400 391px,#d10200 393px,#d41000 401px,#da2a00 413px,#d92200 417px,#d20600 425px,#cc0900 427px,#bd2900 429px,#a54d00 431px,#837300 433px,#588300 435px,#2f8e02 437px,#0c9406 439px,#00960d 441px,#009625 449px,#00962d 455px,#009633 481px)"></i><i style="background:linear-gradient(#009542 1px,#009540 163px,#009639 263px,#009628 303px,#00960a 343px,#019608 345px,#378d01 357px,#807600 369px,#b53b00 379px,#cf0200 389px,#d61600 403px,#db2d00 413px,#d92500 417px,#d20700 425px,#cd0600 427px,#bd2800 429px,#a54d00 431px,#817500 433px,#2b8f02 437px,#079507 439px,#00960f 441px,#009621 447px,#00962c 453px,#009633 481px)"></i><i style="width:2px;background:linear-gradient(#009542 1px,#009540 163px,#009638 263px,#009628 301px,#009609 341px,#0e9406 345px,#3c8c00 355px,#837300 367px,#b53900 377px,#cf0200 387px,#d71900 403px,#dc3000 413px,#da2800 417px,#d20800 425px,#ce0400 427px,#be2700 429px,#a44e00 431px,#7f7600 433px,#508600 435px,#269003 437px,#039608 439px,#009623 447px,#00962c 453px,#009633 481px)"></i><i style="background:linear-gradient(#009542 1px,#009540 163px,#009638 263px,#009628 301px,#009609 341px,#0d9406 345px,#3a8c00 355px,#827400 367px,#b53a00 377px,#cf0300 387px,#d10200 389px,#d71900 403px,#dc3000 413px,#da2700 417px,#d20800 425px,#ce0500 427px,#bd2800 429px,#a34f00 431px,#7e7700 433px,#4f8600 435px,#269003 437px,#029608 439px,#009623 447px,#00962c 453px,#009633 481px)"></i><i style="background:linear-gradient(#009542 1px,#009540 163px,#009638 263px,#009627 305px,#009608 345px,#408b00 359px,#7d7700 369px,#b23e00 379px,#cd0600 389px,#d00200 391px,#d71800 405px,#db2b00 413px,#d92300 417px,#d10500 425px,#ca0d00 427px,#ba2f00 429px,#9d5600 431px,#777900 433px,#4a8700 435px,#009608 439px,#009623 447px,#00962c 453px,#009633 481px)"></i><i style="background:linear-gradient(#009542 1px,#009540 163px,#009639 263px,#009628 307px,#009609 347px,#039508 349px,#3a8c00 361px,#787900 371px,#847200 373px,#af4200 381px,#cc0800 391px,#d00100 393px,#d71800 407px,#da2700 413px,#d81f00 417px,#d10300 425px,#c61500 427px,#b73700 429px,#975c00 431px,#717b00 433px,#458900 435px,#1f9104 437px,#009609 439px,#009622 447px,#00962c 453px,#009633 481px)"></i><i style="background:linear-gradient(#009542 1px,#009540 163px,#009639 263px,#009628 309px,#00960a 349px,#029608 351px,#2f8e02 361px,#458900 365px,#777900 373px,#847200 375px,#b04100 383px,#cd0600 393px,#d00200 395px,#d92400 413px,#d81c00 417px,#d00100 425px,#c31b00 427px,#b43c00 429px,#926200 431px,#6b7d00 433px,#408b00 435px,#1c9104 437px,#009609 439px,#009623 447px,#00962c 453px,#009633 481px)"></i><i style="background:linear-gradient(#009542 1px,#009540 163px,#009639 263px,#009628 311px,#009609 351px,#0d9406 355px,#3d8c00 365px,#7d7700 375px,#b43b00 385px,#d00000 395px,#d92200 413px,#d61500 419px,#d00100 425px,#c12000 427px,#af4100 429px,#8d6700 431px,#657f00 433px,#3b8c00 435px,#179205 437px,#00960a 439px,#009623 447px,#00962c 453px,#009633 481px)"></i><i style="background:linear-gradient(#009542 1px,#009540 163px,#00963a 263px,#009628 313px,#009616 339px,#009609 353px,#0f9406 357px,#358d01 365px,#827400 377px,#b73600 387px,#cd0600 395px,#d10200 397px,#d92100 413px,#d61400 419px,#d20600 423px,#ce0500 425px,#bf2500 427px,#ab4700 429px,#896c00 431px,#608000 433px,#368d01 435px,#139305 437px,#00960b 439px,#009624 447px,#00962c 453px,#009633 481px)"></i><i style="background:linear-gradient(#009542 1px,#009540 163px,#00963a 263px,#009627 315px,#009616 341px,#009608 355px,#398d00 367px,#797800 377px,#866f00 379px,#b33d00 387px,#d00000 397px,#d81f00 413px,#d51200 419px,#d10500 423px,#cb0a00 425px,#bd2900 427px,#a64c00 429px,#847100 431px,#5a8200 433px,#328e01 435px,#0f9306 437px,#00960c 439px,#009624 447px,#00962d 453px,#009633 481px)"></i><i style="background:linear-gradient(#009542 1px,#009540 163px,#00963a 263px,#009628 313px,#009617 339px,#019608 355px,#3a8c00 367px,#7a7800 377px,#866f00 379px,#b43c00 387px,#d00000 397px,#d81f00 413px,#d51200 419px,#d10500 423px,#cb0b00 425px,#bc2b00 427px,#a44e00 429px,#827300 431px,#2f8e02 435px,#0c9406 437px,#00960d 439px,#009625 447px,#00962d 453px,#009633 481px)"></i><i style="background:linear-gradient(#009542 1px,#009540 163px,#00963a 263px,#009628 313px,#009617 339px,#00960a 353px,#029608 355px,#318e01 365px,#478800 369px,#7c7700 377px,#b43b00 387px,#d00100 397px,#d81f00 413px,#d51200 419px,#d10500 423px,#ca0d00 425px,#bb2c00 427px,#a25000 429px,#807600 431px,#2d8f02 435px,#0a9407 437px,#00960e 439px,#009621 445px,#00962b 451px,#009633 481px)"></i><i style="background:linear-gradient(#009542 1px,#009540 163px,#00963a 263px,#009628 313px,#009616 339px,#009609 353px,#049507 355px,#338e01 365px,#7e7700 377px,#b53a00 387px,#d00100 397px,#d81f00 413px,#d71700 417px,#d10400 423px,#ca0e00 425px,#bb2e00 427px,#a15200 429px,#7e7700 431px,#2a8f02 435px,#089507 437px,#00960e 439px,#009621 445px,#00962b 451px,#009633 481px)"></i><i style="background:linear-gradient(#009542 1px,#009540 163px,#00963a 263px,#009628 313px,#009616 339px,#009609 353px,#0e9406 357px,#348d01 365px,#807600 377px,#b63900 387px,#cc0900 395px,#d00100 397px,#d81f00 413px,#d71700 417px,#d10400 423px,#c90f00 425px,#ba2f00 427px,#9f5400 429px,#7b7800 431px,#288f03 435px,#059507 437px,#00960f 439px,#009622 445px,#00962c 451px,#009633 481px)"></i><i style="background:linear-gradient(#009542 1px,#009540 163px,#009639 263px,#009628 311px,#009617 337px,#009608 353px,#368d01 365px,#817500 377px,#b63800 387px,#cc0800 395px,#d00100 397px,#d81f00 413px,#d61700 417px,#d10400 423px,#c81000 425px,#b93100 427px,#9d5600 429px,#797800 431px,#4c8700 433px,#039608 437px,#009622 445px,#00962c 451px,#009633 481px)"></i><i style="background:linear-gradient(#009542 1px,#009540 163px,#00963a 263px,#009628 313px,#009616 339px,#009609 353px,#049507 355px,#338e01 365px,#7e7700 377px,#b53a00 387px,#cc0a00 395px,#d00100 397px,#d81f00 413px,#d61700 417px,#d10300 423px,#c71300 425px,#b83400 427px,#995a00 429px,#737a00 431px,#478900 433px,#209104 435px,#009609 437px,#009623 445px,#00962c 451px,#009633 481px)"></i><i style="background:linear-gradient(#009542 1px,#009540 163px,#00963a 263px,#009628 313px,#009617 339px,#019608 355px,#3a8c00 367px,#7a7800 377px,#876f00 379px,#b43c00 387px,#d00000 397px,#d81f00 413px,#d61700 417px,#d10300 423px,#c61500 425px,#b63700 427px,#955e00 429px,#6e7c00 431px,#418b00 433px,#1b9204 435px,#00960a 437px,#009624 445px,#00962d 451px,#009633 481px)"></i><i style="background:linear-gradient(#009542 1px,#009540 163px,#00963a 263px,#009628 313px,#009617 339px,#009609 353px,#039508 355px,#328e01 365px,#7d7700 377px,#b53a00 387px,#d00100 397px,#d81f00 413px,#d61700 417px,#d10200 423px,#c51700 425px,#b53900 427px,#936000 429px,#6b7d00 431px,#3e8c00 433px,#189205 435px,#00960b 437px,#009620 443px,#00962b 449px,#009630 457px,#009633 481px)"></i><i style="background:linear-gradient(#009542 1px,#009540 163px,#009639 263px,#009628 311px,#009609 351px,#039508 353px,#3a8c00 365px,#787800 375px,#857100 377px,#b04000 385px,#cd0600 395px,#d00200 397px,#d81f00 413px,#d61700 417px,#d10200 423px,#c51700 425px,#b53900 427px,#936000 429px,#6b7d00 431px,#3e8c00 433px,#189205 435px,#00960b 437px,#009620 443px,#00962b 449px,#009630 457px,#009633 481px)"></i><i style="background:linear-gradient(#009542 1px,#009540 163px,#009639 263px,#009628 311px,#00960a 351px,#029608 353px,#398d00 365px,#837300 377px,#b63700 387px,#cc0800 395px,#d00100 397px,#d81e00 413px,#d61600 417px,#d10200 423px,#c51700 425px,#b53900 427px,#946000 429px,#6c7d00 431px,#3f8b00 433px,#199205 435px,#00960a 437px,#009624 445px,#00962d 451px,#009633 481px)"></i><i style="background:linear-gradient(#009542 1px,#009540 163px,#00963a 263px,#009628 313px,#009617 339px,#009608 355px,#378d01 367px,#837300 379px,#b04100 387px,#ce0400 397px,#d10200 399px,#d81d00 413px,#d61500 417px,#d00200 423px,#c51800 425px,#b53900 427px,#945f00 429px,#6e7c00 431px,#418a00 433px,#1c9104 435px,#00960a 437px,#009624 445px,#00962c 451px,#009633 481px)"></i><i style="background:linear-gradient(#009542 1px,#009540 163px,#00963a 263px,#009628 317px,#009617 343px,#009609 357px,#049507 359px,#358d01 369px,#687e00 377px,#837200 381px,#b23f00 389px,#d00000 399px,#d71b00 413px,#d61400 417px,#d00100 423px,#c41900 425px,#b53900 427px,#955f00 429px,#6f7b00 431px,#448900 433px,#1f9104 435px,#009609 437px,#009623 445px,#00962c 451px,#009633 481px)"></i><i style="background:linear-gradient(#009542 1px,#009540 163px,#00963a 263px,#009628 319px,#009619 343px,#00960a 359px,#019608 361px,#288f03 369px,#3e8b00 373px,#767900 381px,#847200 383px,#b43c00 391px,#cd0700 399px,#d10200 401px,#d71900 413px,#d51300 417px,#d00100 423px,#c41a00 425px,#b53a00 427px,#965e00 429px,#717b00 431px,#468900 433px,#009608 437px,#009622 445px,#00962c 451px,#009633 481px)"></i><i style="background:linear-gradient(#009542 1px,#009540 163px,#00963a 263px,#009628 321px,#009618 345px,#009608 361px,#3c8c00 373px,#737a00 381px,#827400 383px,#b23e00 391px,#cc0800 399px,#d00100 401px,#d71900 413px,#d51300 417px,#d00100 423px,#c41b00 425px,#b53a00 427px,#965e00 429px,#717b00 431px,#478900 433px,#019608 437px,#009622 445px,#00962c 451px,#009633 481px)"></i><i style="background:linear-gradient(#009542 1px,#009540 163px,#00963a 263px,#009628 321px,#009618 345px,#009608 361px,#119306 365px,#3b8c00 373px,#817500 383px,#b23f00 391px,#cc0900 399px,#d00100 401px,#d71900 413px,#d51300 417px,#d00100 423px,#c41b00 425px,#b53a00 427px,#965e00 429px,#717b00 431px,#478900 433px,#019608 437px,#009622 445px,#00962c 451px,#009633 481px)"></i><i style="background:linear-gradient(#009542 1px,#009540 163px,#00963a 263px,#009628 321px,#009618 345px,#009609 361px,#109306 365px,#3a8c00 373px,#807600 383px,#b13f00 391px,#cc0900 399px,#d00100 401px,#d71900 413px,#d51300 417px,#d00100 423px,#c41b00 425px,#b53a00 427px,#965e00 429px,#717b00 431px,#478900 433px,#019608 437px,#009622 445px,#00962c 451px,#009633 481px)"></i><i style="background:linear-gradient(#009542 1px,#009540 163px,#00963a 263px,#009628 321px,#009619 345px,#009609 361px,#0f9406 365px,#398d00 373px,#7f7600 383px,#b04000 391px,#cb0a00 399px,#d00100 401px,#d71900 413px,#d51300 417px,#d00100 423px,#c41b00 425px,#b53a00 427px,#965e00 429px,#717b00 431px,#478900 433px,#019608 437px,#009622 445px,#00962c 451px,#009633 481px)"></i><i style="background:linear-gradient(#009542 1px,#009540 163px,#00963a 263px,#009628 321px,#009619 345px,#009609 361px,#049507 363px,#388d01 373px,#7e7700 383px,#b04100 391px,#cb0a00 399px,#d00100 401px,#d71900 413px,#d51300 417px,#d00100 423px,#c41b00 425px,#b53a00 427px,#965e00 429px,#717b00 431px,#478900 433px,#019608 437px,#009622 445px,#00962c 451px,#009633 481px)"></i><i style="background:linear-gradient(#009542 1px,#009540 163px,#00963a 263px,#009628 321px,#009619 345px,#00960a 361px,#039508 363px,#378d01 373px,#7d7700 383px,#af4200 391px,#cb0b00 399px,#d00100 401px,#d71900 413px,#d51300 417px,#d00100 423px,#c41b00 425px,#b53a00 427px,#965e00 429px,#717b00 431px,#478900 433px,#019608 437px,#009622 445px,#00962c 451px,#009633 481px)"></i><i style="background:linear-gradient(#009542 1px,#009540 163px,#00963a 263px,#009628 321px,#009619 345px,#00960a 361px,#029608 363px,#368d01 373px,#7c7700 383px,#ae4200 391px,#cb0b00 399px,#d00100 401px,#d71900 413px,#d51300 417px,#d00100 423px,#c41b00 425px,#b53a00 427px,#965e00 429px,#717b00 431px,#478900 433px,#019608 437px,#009622 445px,#00962c 451px,#009633 481px)"></i><i style="background:linear-gradient(#009542 1px,#00963a 263px,#009629 321px,#009619 345px,#00960a 361px,#019608 363px,#298f02 371px,#418a00 375px,#7b7800 383px,#886d00 385px,#b73500 393px,#d00100 401px,#d71900 413px,#d51300 417px,#d00100 423px,#c41b00 425px,#b53a00 427px,#965e00 429px,#717b00 431px,#478900 433px,#019608 437px,#009622 445px,#00962c 451px,#009633 481px)"></i><i style="background:linear-gradient(#009542 1px,#00963a 263px,#009628 323px,#009618 347px,#009608 363px,#408b00 375px,#7a7800 383px,#876e00 385px,#b73600 393px,#d00100 401px,#d71900 413px,#d51300 417px,#d00100 423px,#c41b00 425px,#b53a00 427px,#965e00 429px,#717b00 431px,#478900 433px,#019608 437px,#009622 445px,#00962c 451px,#009633 481px)"></i><i style="background:linear-gradient(#009542 1px,#009638 263px,#009627 323px,#009618 347px,#009608 363px,#3f8b00 375px,#797800 383px,#876f00 385px,#b73600 393px,#d00100 401px,#d71900 413px,#d51300 417px,#d00100 423px,#c41a00 425px,#b53a00 427px,#965e00 429px,#717b00 431px,#478900 433px,#019608 437px,#009622 445px,#00962c 451px,#009633 481px)"></i><i style="background:linear-gradient(#00963f 1px,#009639 91px,#009629 163px,#009628 193px,#00962f 223px,#00962f 263px,#00961a 329px,#019608 355px,#229004 363px,#408b00 369px,#817500 379px,#ae4200 387px,#cf0300 397px,#d10300 399px,#d81f00 413px,#d51200 419px,#d10500 423px,#cb0a00 425px,#bd2900 427px,#a64c00 429px,#847100 431px,#5a8200 433px,#328e01 435px,#0f9306 437px,#00960c 439px,#009624 447px,#00962c 453px,#009633 481px)"></i><i style="background:linear-gradient(#009631 1px,#009627 63px,#009608 139px,#2c8f02 163px,#2e8e02 193px,#009608 217px,#00960d 249px,#009608 265px,#179205 279px,#3c8c00 297px,#817500 321px,#b33d00 339px,#d00100 359px,#d71a00 385px,#df4200 413px,#dc3300 421px,#d10200 435px,#c71400 437px,#ba3000 439px,#a44e00 441px,#876e00 443px,#657f00 445px,#438a00 447px,#0a9407 451px,#00960c 453px,#009627 465px,#009631 481px)"></i><i style="background:linear-gradient(#009623 1px,#009616 63px,#009608 95px,#249003 115px,#4c8700 133px,#7f7600 153px,#946000 163px,#955f00 193px,#7e7700 203px,#4a8800 223px,#388d01 249px,#378d01 253px,#3c8c00 257px,#588300 273px,#827400 293px,#b33d00 319px,#cf0200 343px,#d00100 345px,#d71900 375px,#e14c00 413px,#de3e00 421px,#d20600 437px,#ce0500 439px,#b43c00 443px,#7d7700 447px,#3a8c00 451px,#059507 455px,#00960d 457px,#009626 469px,#00962e 481px)"></i><i style="background:linear-gradient(#009639 1px,#009630 75px,#009611 163px,#009610 193px,#009617 225px,#009612 251px,#019608 269px,#3c8c00 291px,#7d7700 309px,#b53b00 327px,#d00000 345px,#d71a00 371px,#e25400 413px,#e25000 417px,#df4300 423px,#d10200 441px,#c81200 443px,#bb2d00 445px,#a84900 447px,#8d6800 449px,#6e7c00 451px,#2f8e02 455px,#159305 457px,#009609 459px,#009625 471px,#009630 481px)"></i><i style="background:linear-gradient(#00963d 1px,#009636 89px,#009622 163px,#00961f 221px,#009616 247px,#009608 269px,#3c8c00 289px,#7b7800 305px,#827300 307px,#b63900 323px,#d00000 339px,#d71a00 365px,#e45e00 413px,#e35700 419px,#e04800 425px,#d10400 443px,#cb0b00 445px,#ae4300 449px,#936100 451px,#757900 453px,#348d01 457px,#009608 461px,#009625 473px,#00962e 481px)"></i><i style="background:linear-gradient(#00962e 1px,#009623 63px,#019608 129px,#448900 163px,#478800 193px,#288f03 207px,#0e9406 223px,#0b9407 237px,#0f9306 251px,#1f9104 261px,#3a8c00 273px,#7d7700 295px,#b53900 315px,#d00100 333px,#d71b00 359px,#e66900 413px,#e46100 419px,#e14d00 427px,#d10400 445px,#ca0d00 447px,#bd2900 449px,#aa4700 451px,#8e6700 453px,#6e7c00 455px,#2c8f02 459px,#129306 461px,#00960a 463px,#009622 473px,#00962d 481px)"></i><i style="background:linear-gradient(#009623 1px,#009616 63px,#009608 95px,#249003 115px,#4c8700 133px,#7f7600 153px,#946000 163px,#955f00 193px,#7f7600 203px,#4b8700 223px,#418a00 239px,#3e8b00 253px,#568400 265px,#827400 283px,#b53b00 305px,#d00000 325px,#d71b00 353px,#e77400 413px,#e66c00 419px,#e35800 427px,#e14a00 431px,#d71b00 441px,#d10400 447px,#c91000 449px,#bb2d00 451px,#a54d00 453px,#886d00 455px,#667f00 457px,#438a00 459px,#0a9407 463px,#00960c 465px,#009623 475px,#00962b 481px)"></i><i style="background:linear-gradient(#00963a 1px,#009632 79px,#009616 163px,#009615 193px,#00961b 217px,#00961a 233px,#009614 253px,#009609 269px,#089507 273px,#3d8c00 289px,#827400 305px,#b53a00 319px,#cf0100 333px,#d71900 355px,#e87700 413px,#e77000 419px,#e35b00 427px,#e04500 433px,#d20600 447px,#cc0800 449px,#ac4500 453px,#8e6700 455px,#6c7c00 457px,#488800 459px,#0d9406 463px,#00960b 465px,#009624 475px,#00962d 481px)"></i><i style="background:linear-gradient(#009541 1px,#00963d 97px,#009630 215px,#009625 245px,#009609 283px,#3a8c00 299px,#7d7700 313px,#b53900 327px,#ce0500 339px,#d00100 341px,#d71a00 361px,#e77400 413px,#e66c00 419px,#e35700 427px,#e14900 431px,#d71b00 441px,#d10300 447px,#c71300 449px,#b93100 451px,#a25000 453px,#847100 455px,#3d8c00 459px,#059507 463px,#00960d 465px,#009621 473px,#00962d 481px)"></i><i style="background:linear-gradient(#009542 1px,#00963e 145px,#009638 209px,#009629 251px,#019608 293px,#378d01 307px,#7e7700 321px,#b23e00 333px,#cd0700 345px,#d00100 347px,#d71800 365px,#e77000 413px,#e66900 419px,#e25400 427px,#d00000 447px,#b53b00 451px,#7a7800 455px,#348d01 459px,#009609 463px,#009622 473px,#00962e 481px)"></i><i style="background:linear-gradient(#009542 1px,#00963f 163px,#009639 215px,#00962a 259px,#00960a 299px,#029608 301px,#3a8c00 315px,#827300 329px,#b63800 341px,#d00000 353px,#d71900 371px,#e66900 413px,#e46100 419px,#e14c00 427px,#d00100 445px,#c51800 447px,#b73600 449px,#807600 453px,#3a8c00 457px,#039608 461px,#009625 473px,#00962f 481px)"></i><i style="background:linear-gradient(#009542 1px,#00963f 163px,#009638 223px,#00962b 263px,#009608 307px,#378d01 321px,#807600 335px,#b53a00 347px,#d00100 359px,#d71800 377px,#e45e00 413px,#e35a00 417px,#e14c00 423px,#d20600 441px,#cd0600 443px,#b14000 447px,#946000 449px,#757a00 451px,#318e01 455px,#159305 457px,#009609 459px,#009626 471px,#009630 481px)"></i><i style="background:linear-gradient(#009542 1px,#00963f 163px,#009638 229px,#00962f 263px,#009609 313px,#149305 319px,#3e8b00 329px,#7d7700 341px,#b43c00 353px,#cf0200 365px,#d10200 367px,#d71800 383px,#e25300 413px,#e14b00 419px,#df4000 423px,#d10300 439px,#c91000 441px,#bb2c00 443px,#a74a00 445px,#8b6a00 447px,#6a7d00 449px,#478900 451px,#0d9406 455px,#00960b 457px,#009627 469px,#009631 481px)"></i><i style="background:linear-gradient(#009542 1px,#00963f 163px,#009638 231px,#00962e 265px,#009609 315px,#039608 317px,#398d00 331px,#807600 345px,#b53b00 357px,#cf0200 369px,#d71b00 389px,#e14900 413px,#de3b00 421px,#d10300 437px,#c81100 439px,#bb2d00 441px,#a74b00 443px,#8b6a00 445px,#6a7d00 447px,#488800 449px,#0e9406 453px,#00960b 455px,#009627 467px,#009632 481px)"></i><i style="background:linear-gradient(#009542 1px,#00963f 163px,#009638 227px,#00962e 263px,#009608 315px,#3b8c00 331px,#7f7600 345px,#b14000 357px,#d00100 371px,#d71900 391px,#df4100 413px,#dc3300 421px,#d10400 435px,#cb0a00 437px,#af4100 441px,#946000 443px,#767900 445px,#348d01 449px,#009608 453px,#009619 459px,#009628 467px,#009632 481px)"></i><i style="background:linear-gradient(#009542 1px,#00963f 163px,#009638 221px,#00962c 263px,#009609 313px,#129306 319px,#3c8c00 331px,#7d7700 345px,#b43c00 359px,#cf0100 373px,#d71a00 395px,#dd3800 413px,#dc3000 419px,#d10500 433px,#ce0500 435px,#b53900 439px,#817400 443px,#3f8b00 447px,#249003 449px,#0a9407 451px,#00960c 453px,#00961b 459px,#009629 467px,#009632 481px)"></i><i style="background:linear-gradient(#009542 1px,#009540 163px,#009638 237px,#00962c 273px,#009608 323px,#3e8b00 339px,#7b7800 351px,#857100 353px,#b04000 363px,#d00100 377px,#d71800 395px,#de3b00 413px,#db2f00 421px,#d00100 437px,#c71400 439px,#ac4500 443px,#7a7800 447px,#3e8b00 451px,#249003 453px,#0d9406 455px,#00960b 457px,#009625 469px,#009630 481px)"></i><i style="background:linear-gradient(#009542 1px,#009540 163px,#009638 263px,#009627 299px,#009608 337px,#378d01 349px,#807600 361px,#b53a00 371px,#d00000 381px,#d71b00 397px,#df4200 413px,#dc3300 423px,#d10300 441px,#cb0b00 443px,#b73600 447px,#8e6700 451px,#767900 453px,#3f8b00 457px,#129306 461px,#009609 463px,#00961b 471px,#00962a 481px)"></i><i style="background:linear-gradient(#009542 1px,#009540 163px,#009638 263px,#009628 299px,#009609 337px,#0e9406 341px,#348d01 349px,#7f7600 361px,#b53a00 371px,#d00000 381px,#d71800 395px,#df4300 413px,#dd3500 423px,#d10300 441px,#cc0900 443px,#b83400 447px,#a54c00 449px,#8f6500 451px,#777900 453px,#3f8b00 457px,#129306 461px,#009609 463px,#00961b 471px,#00962b 481px)"></i><i style="background:linear-gradient(#009542 1px,#009540 163px,#009638 263px,#009628 299px,#009609 337px,#039508 339px,#328e01 349px,#7d7700 361px,#b53b00 371px,#d00000 381px,#d71800 395px,#e04500 413px,#dd3600 423px,#d10400 441px,#cd0700 443px,#b83300 447px,#a74b00 449px,#787900 453px,#408b00 457px,#129306 461px,#009609 463px,#00961b 471px,#00962b 481px)"></i><i style="background:linear-gradient(#009542 1px,#009540 163px,#009638 263px,#009628 301px,#019608 339px,#3a8c00 351px,#7b7800 361px,#876e00 363px,#b43c00 371px,#d00000 381px,#d71900 395px,#e04600 413px,#dd3800 423px,#d10500 441px,#ce0400 443px,#b93100 447px,#a84900 449px,#7a7800 453px,#418a00 457px,#129306 461px,#009609 463px,#00961b 471px,#00962b 481px)"></i><i style="background:linear-gradient(#009542 1px,#009540 163px,#009638 263px,#009628 301px,#009609 339px,#109306 343px,#388d01 351px,#797800 361px,#867000 363px,#b43c00 371px,#d00000 381px,#d71900 395px,#e04800 413px,#dd3900 423px,#cf0200 443px,#ba2f00 447px,#aa4700 449px,#7b7800 453px,#428a00 457px,#139306 461px,#009609 463px,#00961b 471px,#00962b 481px)"></i><i style="background:linear-gradient(#009542 1px,#009540 163px,#009639 263px,#009628 303px,#009609 339px,#049507 341px,#368d01 351px,#777900 361px,#847100 363px,#b33d00 371px,#d00100 381px,#d71a00 395px,#e14a00 413px,#de3b00 423px,#d00000 443px,#bb2e00 447px,#ab4600 449px,#7c7700 453px,#428a00 457px,#139305 461px,#009609 463px,#00961b 471px,#00962b 481px)"></i><i style="background:linear-gradient(#009542 1px,#009540 163px,#009639 263px,#009628 303px,#00960a 339px,#019608 341px,#338d01 351px,#837300 363px,#b23e00 371px,#d00100 381px,#d71b00 395px,#e14b00 413px,#e04800 417px,#de3c00 423px,#d00100 443px,#bc2c00 447px,#ad4400 449px,#7e7700 453px,#438a00 457px,#139305 461px,#009609 463px,#00961b 471px,#00962b 481px)"></i><i style="background:linear-gradient(#009542 1px,#009540 163px,#009639 263px,#009629 303px,#009617 327px,#009608 341px,#119306 345px,#3c8c00 353px,#817500 363px,#b13f00 371px,#d00100 381px,#d71b00 395px,#e14d00 413px,#e14900 417px,#de3e00 423px,#d00100 443px,#c71300 445px,#ae4200 449px,#7f7600 453px,#448900 457px,#2b8f02 459px,#009609 463px,#00961b 471px,#00962b 481px)"></i><i style="background:linear-gradient(#009542 1px,#009540 163px,#009639 263px,#009628 305px,#009609 341px,#059507 343px,#3a8c00 353px,#807600 363px,#b13f00 371px,#cb0b00 379px,#d00100 381px,#d81c00 395px,#e24e00 413px,#e14b00 417px,#df3f00 423px,#d00200 443px,#c81100 445px,#af4100 449px,#7f7600 453px,#448a00 457px,#2a8f02 459px,#009609 463px,#00961c 471px,#00962c 481px)"></i><i style="background:linear-gradient(#009542 1px,#009540 163px,#009639 263px,#009629 305px,#00960a 341px,#039508 343px,#388d01 353px,#7f7600 363px,#b13f00 371px,#cc0900 379px,#d00100 381px,#d71800 393px,#e25000 413px,#e14d00 417px,#df4100 423px,#d10200 443px,#c91000 445px,#b04100 449px,#7f7600 453px,#428a00 457px,#288f03 459px,#119306 461px,#009609 463px,#009620 473px,#00962c 481px)"></i><i style="background:linear-gradient(#009542 1px,#009540 163px,#009639 263px,#009629 305px,#00960a 341px,#019608 343px,#2b8f02 351px,#438a00 355px,#7e7700 363px,#b13f00 371px,#cc0800 379px,#d00200 381px,#d71900 393px,#e25200 413px,#e24f00 417px,#df4300 423px,#d10300 443px,#c90f00 445px,#b04100 449px,#7e7700 453px,#408b00 457px,#269003 459px,#0e9406 461px,#00960a 463px,#009621 473px,#00962c 481px)"></i><i style="background:linear-gradient(#009542 1px,#009540 163px,#009639 263px,#009628 307px,#009617 329px,#009608 343px,#358d01 353px,#7d7700 363px,#b13f00 371px,#cd0700 379px,#d10200 381px,#d71a00 393px,#e25400 413px,#e25100 417px,#e04500 423px,#d10300 443px,#ca0e00 445px,#b04100 449px,#7d7700 453px,#3e8b00 457px,#249003 459px,#0c9406 461px,#00960b 463px,#009622 473px,#00962d 481px)"></i><i style="background:linear-gradient(#009542 1px,#009540 163px,#00963a 263px,#009629 307px,#009618 329px,#009609 343px,#079507 345px,#338e01 353px,#7c7700 363px,#b13f00 371px,#cd0600 379px,#d10200 381px,#d71b00 393px,#e35600 413px,#e25300 417px,#e04700 423px,#d10300 443px,#ca0d00 445px,#b04000 449px,#7c7700 453px,#3d8c00 457px,#0a9407 461px,#00960b 463px,#009622 473px,#00962d 481px)"></i><i style="background:linear-gradient(#009542 1px,#009540 163px,#00963a 263px,#009629 307px,#009619 329px,#009609 343px,#059507 345px,#318e01 353px,#7b7800 363px,#896c00 365px,#b13f00 371px,#cd0500 379px,#d10300 381px,#d81c00 393px,#e35900 413px,#e35500 417px,#e14900 423px,#d10400 443px,#cb0c00 445px,#b04000 449px,#7b7800 453px,#3b8c00 457px,#089507 461px,#00960c 463px,#009623 473px,#00962e 481px)"></i><i style="background:linear-gradient(#009542 1px,#009540 163px,#00963a 263px,#00962a 307px,#009619 329px,#00960a 343px,#029608 345px,#2f8e02 353px,#4a8700 357px,#7a7800 363px,#886d00 365px,#b13f00 371px,#ce0400 379px,#d10300 381px,#d71800 391px,#e35b00 413px,#e25400 419px,#e04500 425px,#d10400 443px,#cb0b00 445px,#b04000 449px,#7a7800 453px,#398c00 457px,#069507 461px,#00960d 463px,#009624 473px,#00962e 481px)"></i><i style="background:linear-gradient(#009542 1px,#009540 163px,#00963a 263px,#009629 309px,#009618 331px,#009608 345px,#3a8c00 355px,#787800 363px,#876e00 365px,#b13f00 371px,#ce0400 379px,#d10300 381px,#d71900 391px,#e45d00 413px,#e35600 419px,#e04700 425px,#d10500 443px,#cb0a00 445px,#b04000 449px,#797800 453px,#378d01 457px,#049508 461px,#00960d 463px,#009624 473px,#00962e 481px)"></i><i style="background:linear-gradient(#009542 1px,#009540 163px,#00963a 263px,#009629 309px,#009618 331px,#009608 345px,#398c00 355px,#787900 363px,#876e00 365px,#b14000 371px,#cf0300 379px,#d10300 381px,#d71900 391px,#e45e00 413px,#e35700 419px,#e04800 425px,#d10500 443px,#cc0900 445px,#b04000 449px,#787900 453px,#368d01 457px,#039608 461px,#009624 473px,#00962e 481px)"></i><i style="background:linear-gradient(#e35800 1px,#e87900 63px,#f1b300 113px,#fae209 163px,#ffff10 263px,#fefc0f 427px,#fdf20d 441px,#f9e109 455px,#f5c703 469px,#efa700 481px)"></i><i style="background:linear-gradient(#de3c00 1px,#e45e00 63px,#f2b900 149px,#f4c603 163px,#fae30a 263px,#fae30a 367px,#fefa0f 403px,#fdf60e 427px,#fbec0c 437px,#f9e009 445px,#f2ba00 461px,#ee9e00 469px,#e66b00 481px)"></i><i style="background:linear-gradient(#d82000 1px,#df4300 63px,#f0a900 163px,#f5c803 263px,#f5c803 367px,#fdf50e 403px,#fdf50e 413px,#fdf30d 421px,#fbea0b 429px,#f8db08 437px,#f4c302 445px,#f0ab00 451px,#eb8d00 457px,#e25400 467px,#d81d00 475px,#d20500 479px,#c61600 481px)"></i><i style="background:linear-gradient(#d51100 1px,#dd3500 63px,#ed9b00 163px,#efa500 199px,#efa600 219px,#f2b900 263px,#f3c002 367px,#fcf00d 403px,#fcef0c 417px,#fbe90b 425px,#f8dc08 433px,#f4c503 441px,#f0ad00 447px,#eb8e00 453px,#e25400 463px,#d71b00 471px,#d20700 475px,#cc0800 477px,#bf2400 479px,#b43b00 481px)"></i><i style="background:linear-gradient(#d10400 1px,#da2800 63px,#e14c00 95px,#eb8e00 163px,#ed9600 199px,#ec9100 219px,#f0aa00 263px,#f1b500 343px,#f2bb01 367px,#fbe80b 403px,#fbe80b 415px,#fae30a 423px,#f7d607 431px,#f3c102 439px,#f0a900 445px,#eb8a00 451px,#e24f00 461px,#d61700 469px,#d10300 473px,#c61500 475px,#ba3000 477px,#ac4500 479px,#9d5500 481px)"></i><i style="background:linear-gradient(#c31d00 1px,#cf0100 13px,#d00100 15px,#d71b00 63px,#e14d00 107px,#e98200 163px,#ea8800 199px,#e97d00 219px,#ed9b00 265px,#efa600 303px,#f0ab00 343px,#f2b700 369px,#f9dc08 403px,#f9dc08 415px,#f8d707 423px,#f5ca04 431px,#f2ba00 437px,#eb8d00 447px,#e35500 457px,#d51200 467px,#d20800 469px,#ce0400 471px,#c02200 473px,#b53a00 475px,#a54d00 477px,#906400 481px)"></i><i style="background:linear-gradient(#a84a00 1px,#b63900 7px,#c90f00 25px,#d00000 33px,#d71800 71px,#e14b00 117px,#e87600 163px,#e87a00 199px,#e66a00 219px,#e87600 239px,#eb8a00 261px,#ec8f00 271px,#ed9b00 303px,#eea200 343px,#f1b200 369px,#f6d105 403px,#f6cd05 421px,#f4c503 427px,#f2b800 433px,#efa200 439px,#ea8600 445px,#e24e00 455px,#d71700 463px,#d10400 467px,#c71200 469px,#bb2e00 471px,#9e5400 475px,#945f00 477px,#8a6b00 481px)"></i><i style="background:linear-gradient(#936100 1px,#a05300 13px,#b53a00 23px,#cd0600 47px,#d00100 51px,#d71900 83px,#e14a00 127px,#e66a00 161px,#e66d00 199px,#e35900 219px,#e56600 239px,#e98100 271px,#ec9000 303px,#ed9900 343px,#f5c904 401px,#f5ca04 415px,#f5c703 421px,#f3be01 427px,#f1b400 431px,#ee9f00 437px,#e56300 449px,#e14b00 453px,#d82000 459px,#d00100 465px,#b63700 469px,#a54c00 471px,#985b00 473px,#8a6b00 477px,#867000 481px)"></i><i style="background:linear-gradient(#827400 1px,#a05200 29px,#b53a00 39px,#c31d00 53px,#d00000 63px,#d71800 93px,#e45f00 161px,#e46100 199px,#e25400 211px,#e04700 219px,#e35500 239px,#e76f00 263px,#ea8500 303px,#ec8f00 343px,#ee9d00 355px,#efa600 369px,#f4c202 395px,#f5c904 403px,#f5c904 413px,#f5c703 419px,#f3c002 425px,#f2b800 429px,#efa500 435px,#eb8a00 441px,#e45f00 449px,#e04600 453px,#d71a00 459px,#d20600 463px,#ca0d00 465px,#bc2b00 467px,#ad4300 469px,#9c5700 471px,#906400 473px,#857100 477px,#817500 481px)"></i><i style="background:linear-gradient(#6d7c00 1px,#807600 15px,#a15200 45px,#b63800 55px,#cf0200 73px,#d00100 75px,#d71a00 105px,#e14a00 149px,#e35600 163px,#e35500 199px,#e04800 209px,#dc3400 219px,#e04500 239px,#e45e00 259px,#e66900 273px,#e87a00 303px,#ea8600 343px,#ed9600 355px,#eea100 369px,#f2b900 387px,#f5c703 403px,#f4c302 421px,#f2ba00 427px,#f0a900 433px,#ec9100 439px,#e56700 447px,#e24f00 451px,#d61600 459px,#d00200 463px,#b63800 467px,#a25000 469px,#936100 471px,#837200 475px,#7c7700 481px)"></i><i style="background:linear-gradient(#598300 1px,#817500 31px,#985b00 53px,#a44e00 59px,#b53a00 65px,#ce0400 83px,#d00100 85px,#d71900 115px,#e14b00 163px,#e14900 199px,#dd3900 209px,#d92100 219px,#dc3300 239px,#e24e00 257px,#e45f00 275px,#e77000 303px,#e97d00 343px,#ec8f00 355px,#ed9b00 369px,#f1b600 387px,#f4c603 403px,#f4c402 419px,#f3bc01 425px,#f0ae00 431px,#ed9700 437px,#e66e00 445px,#e14a00 451px,#d81d00 457px,#d20800 461px,#cc0900 463px,#bd2a00 465px,#ac4500 467px,#985b00 469px,#8b6a00 471px,#827300 473px,#7d7700 475px,#767900 481px)"></i><i style="background:linear-gradient(#458900 1px,#7f7600 45px,#886d00 53px,#a34f00 69px,#b53b00 75px,#d00000 95px,#d71800 125px,#df3f00 161px,#de3d00 197px,#db2d00 207px,#d51100 219px,#d92200 239px,#df4000 257px,#e24e00 269px,#e56600 303px,#e77400 343px,#ea8800 355px,#ed9600 369px,#f2ba00 393px,#f4c403 403px,#f4c403 415px,#f2bb00 425px,#f1b100 429px,#ee9d00 435px,#e45f00 447px,#e04500 451px,#d71800 457px,#d10300 461px,#c51800 463px,#b63700 465px,#a05200 467px,#8f6600 469px,#837200 471px,#767900 475px,#717b00 481px)"></i><i style="background:linear-gradient(#338d01 1px,#707b00 49px,#817500 59px,#a34f00 79px,#b43b00 85px,#d00000 105px,#d71800 135px,#dc3300 161px,#dc3000 197px,#da2700 203px,#d10400 219px,#d61600 241px,#de3a00 263px,#e14d00 281px,#e45d00 303px,#e66c00 343px,#ea8400 357px,#ec9100 369px,#efa600 381px,#f2ba00 395px,#f4c302 403px,#f4c302 415px,#f2b900 425px,#f0a900 431px,#ed9a00 435px,#e35b00 447px,#d51300 457px,#d20800 459px,#ce0400 461px,#be2700 463px,#ab4600 465px,#955e00 467px,#866f00 469px,#7b7800 471px,#747a00 473px,#6c7d00 481px)"></i><i style="background:linear-gradient(#239003 1px,#3c8c00 25px,#608000 53px,#817500 69px,#a25000 89px,#b43c00 95px,#cf0100 115px,#d71800 145px,#da2700 159px,#d92300 197px,#d00200 215px,#ca0c00 217px,#c11f00 219px,#cf0100 229px,#d00100 231px,#d30a00 241px,#dc3400 269px,#e14b00 291px,#e35500 305px,#e56500 343px,#e97d00 357px,#eb8b00 369px,#f0ad00 387px,#f4c202 403px,#f3c102 417px,#f2b700 425px,#ee9f00 433px,#ea8400 439px,#e35700 447px,#d71b00 455px,#d10400 459px,#c71400 461px,#b73600 463px,#9f5400 465px,#8b6a00 467px,#7d7700 469px,#6d7c00 473px,#677e00 481px)"></i><i style="background:linear-gradient(#139305 1px,#4c8700 53px,#817500 79px,#a25000 99px,#b33d00 105px,#cf0100 125px,#d71b00 159px,#d61700 197px,#cf0200 211px,#b63900 217px,#a34f00 219px,#b53a00 225px,#c81100 239px,#d00100 243px,#da2900 271px,#df4300 295px,#e14b00 305px,#e45d00 343px,#e77400 355px,#ea8600 369px,#f0aa00 387px,#f3c002 403px,#f3bf01 417px,#f2b900 423px,#f1b100 427px,#ec9500 435px,#e66c00 443px,#e04800 449px,#d71900 455px,#d10200 459px,#c41900 461px,#b43b00 463px,#9a5900 465px,#866f00 467px,#777900 469px,#687e00 473px,#628000 481px)"></i><i style="background:linear-gradient(#049507 1px,#398c00 53px,#7d7700 87px,#a25100 109px,#b33d00 115px,#cf0100 135px,#d51300 159px,#d40e00 197px,#d00200 205px,#cc0900 207px,#b43c00 213px,#a25000 215px,#926200 219px,#a34f00 233px,#b93200 241px,#d00100 249px,#da2900 281px,#de3e00 301px,#e35500 343px,#e66e00 355px,#e98000 369px,#efa700 387px,#f3bf01 403px,#f3be01 417px,#f2b800 423px,#f0af00 427px,#ec9300 435px,#e66b00 443px,#e04600 449px,#d61700 455px,#d00100 459px,#b04100 463px,#955f00 465px,#827400 467px,#727b00 469px,#637f00 473px,#5d8100 481px)"></i><i style="background:linear-gradient(#00960b 1px,#019608 13px,#298f03 53px,#3d8c00 65px,#807600 99px,#a25000 119px,#b43c00 125px,#d00100 145px,#d30b00 159px,#d10500 197px,#cf0100 201px,#ba2e00 207px,#b14000 209px,#a15100 211px,#827400 219px,#9e5500 241px,#a34f00 243px,#b83400 247px,#cd0600 255px,#d00100 257px,#dd3600 303px,#e14d00 343px,#e66800 355px,#e87b00 369px,#eea000 385px,#f3bd01 403px,#f3bc01 417px,#f2b900 421px,#f0ad00 427px,#ec9200 435px,#e66900 443px,#e04400 449px,#d61600 455px,#d30a00 457px,#ce0300 459px,#bf2400 461px,#ab4600 463px,#906400 465px,#7c7700 467px,#6c7c00 469px,#5e8100 473px,#588300 481px)"></i><i style="background:linear-gradient(#00960e 1px,#009608 27px,#199205 53px,#3c8c00 75px,#807600 109px,#a34f00 129px,#b43b00 135px,#d00100 155px,#d10300 159px,#d00000 181px,#ca0e00 197px,#c61500 199px,#b93200 203px,#a05200 207px,#817500 215px,#6e7c00 219px,#807600 231px,#8d6700 241px,#a34f00 249px,#b73600 253px,#d00000 263px,#db2b00 303px,#e04500 343px,#e56200 355px,#e87600 369px,#ee9d00 385px,#f3bc01 403px,#f2bb00 417px,#f2b800 421px,#f0ac00 427px,#ec9000 435px,#e56700 443px,#e25000 447px,#d61400 455px,#d20800 457px,#cc0900 459px,#bd2a00 461px,#a54c00 463px,#8b6900 465px,#777900 467px,#677e00 469px,#598300 473px,#538500 481px)"></i><i style="background:linear-gradient(#009612 1px,#009608 41px,#0a9407 53px,#3c8c00 85px,#7c7700 117px,#a05300 137px,#b53a00 145px,#c81200 159px,#c90f00 161px,#bb2e00 197px,#b73600 199px,#9f5300 203px,#807600 211px,#5a8200 219px,#777900 239px,#827300 243px,#a34f00 255px,#b63700 259px,#c90f00 267px,#d00100 271px,#d92300 305px,#de3c00 343px,#e45c00 355px,#e77100 369px,#ed9900 385px,#f2bb00 403px,#f2b800 419px,#f0af00 425px,#ee9e00 431px,#ea8500 437px,#e35a00 445px,#d20700 457px,#c90f00 459px,#ba2f00 461px,#a05200 463px,#876f00 465px,#717b00 467px,#628000 469px,#548400 473px,#4e8600 481px)"></i><i style="background:linear-gradient(#009615 1px,#019608 57px,#3c8c00 95px,#7d7700 127px,#a15200 147px,#b53900 155px,#bc2c00 161px,#b33d00 181px,#a34e00 197px,#7f7600 207px,#478900 219px,#637f00 239px,#827300 249px,#a34f00 261px,#b53a00 265px,#ce0400 277px,#d00100 279px,#d71800 303px,#dc3300 343px,#e35600 355px,#e66c00 369px,#ed9b00 387px,#f2b900 403px,#f2b700 419px,#f0ad00 425px,#ee9c00 431px,#ea8300 437px,#e35900 445px,#d81f00 453px,#d20500 457px,#c71400 459px,#b83400 461px,#9b5700 463px,#827400 465px,#6b7d00 467px,#5c8200 469px,#548400 471px,#4c8700 475px,#498800 481px)"></i><i style="background:linear-gradient(#009618 1px,#019608 67px,#3c8c00 105px,#7e7700 137px,#a94800 161px,#926200 197px,#7e7700 203px,#358d01 219px,#508600 239px,#827300 255px,#a25000 267px,#b33d00 271px,#d00100 285px,#d51100 303px,#db2b00 343px,#e25000 355px,#e46000 363px,#e56800 369px,#ed9800 387px,#f2b800 403px,#f1b500 419px,#f0ab00 425px,#ed9a00 431px,#eb8a00 435px,#e46100 443px,#e04800 447px,#d71900 453px,#d00100 457px,#af4200 461px,#906500 463px,#767900 465px,#618000 467px,#548400 469px,#4d8700 471px,#478800 475px,#458900 481px)"></i><i style="background:linear-gradient(#00961b 1px,#009611 53px,#019608 77px,#2f8e02 107px,#488800 121px,#7f7600 147px,#955e00 161px,#827400 197px,#7d7700 199px,#3c8c00 213px,#259003 219px,#3d8c00 239px,#827400 261px,#a74a00 275px,#b63700 279px,#d00000 293px,#d92300 343px,#e14a00 355px,#e45b00 363px,#e56300 369px,#ec9500 387px,#f2b600 403px,#f1b300 419px,#f0aa00 425px,#ee9f00 429px,#ea8700 435px,#e45d00 443px,#d30900 455px,#cb0b00 457px,#b83300 459px,#a15200 461px,#847200 463px,#697d00 465px,#578300 467px,#478900 471px,#408b00 481px)"></i><i style="background:linear-gradient(#00961e 1px,#009614 53px,#019608 87px,#3d8c00 125px,#807600 157px,#857100 161px,#6e7c00 197px,#687e00 199px,#3b8c00 209px,#169205 219px,#318e02 241px,#827400 267px,#a64c00 281px,#b53900 285px,#ce0400 299px,#d00100 301px,#d71a00 343px,#e14900 357px,#e45e00 369px,#ec9200 387px,#f1b400 403px,#f1b200 419px,#efa800 425px,#ee9c00 429px,#ea8400 435px,#e35a00 443px,#d10500 455px,#c31c00 457px,#ae4300 459px,#767900 463px,#5e8100 465px,#4e8600 467px,#468900 469px,#3e8b00 473px,#3b8c00 481px)"></i><i style="background:linear-gradient(#009621 1px,#009617 53px,#019608 97px,#3a8c00 133px,#717b00 161px,#5a8200 197px,#548400 199px,#3a8c00 205px,#089507 219px,#219004 241px,#3b8c00 251px,#817500 273px,#a54d00 287px,#b43c00 291px,#c90f00 303px,#d00100 309px,#d61400 343px,#d71800 345px,#dc3000 351px,#df4300 357px,#e25100 363px,#e35a00 369px,#eb8f00 387px,#f1b300 403px,#f1b000 419px,#efa600 425px,#ed9a00 429px,#eb8a00 433px,#e56200 441px,#e14900 445px,#d71900 451px,#d00000 455px,#bb2c00 457px,#9e5400 459px,#866f00 461px,#687e00 463px,#538500 465px,#468900 467px,#3f8b00 469px,#3a8c00 473px,#378d01 481px)"></i><i style="background:linear-gradient(#009624 1px,#00961a 53px,#019608 107px,#3b8c00 143px,#5d8100 161px,#468900 197px,#009608 217px,#009608 225px,#129306 241px,#3b8c00 257px,#807600 279px,#a44e00 293px,#b73600 299px,#c02200 305px,#d00000 321px,#d40e00 343px,#d51200 345px,#dc3100 353px,#df4300 359px,#e35500 369px,#eb8c00 387px,#f1b100 403px,#f0ae00 419px,#efa400 425px,#ed9800 429px,#ea8800 433px,#e45e00 441px,#e04400 445px,#d20800 453px,#c81100 455px,#b33d00 457px,#8f6600 459px,#787900 461px,#5c8200 463px,#498800 465px,#3f8b00 467px,#378d01 471px,#348d01 481px)"></i><i style="background:linear-gradient(#009627 1px,#00961c 55px,#009609 115px,#139305 129px,#498800 161px,#348d01 197px,#009608 213px,#00960d 219px,#019608 239px,#3b8c00 263px,#807600 285px,#a34f00 299px,#b53a00 305px,#d00000 331px,#d20800 343px,#d40d00 345px,#de3d00 359px,#e25100 369px,#eb8900 387px,#f1b000 403px,#f0ae00 417px,#efa500 423px,#ed9800 427px,#ea8700 431px,#e35a00 439px,#d30a00 449px,#c90e00 451px,#ae4300 453px,#7f7600 455px,#518500 457px,#3c8c00 459px,#428a00 461px,#398d00 463px,#338e01 467px,#308e02 481px)"></i><i style="background:linear-gradient(#00962a 1px,#009620 53px,#009608 125px,#378d01 161px,#249003 197px,#009608 209px,#009611 219px,#009608 245px,#3b8c00 269px,#7f7600 291px,#9e5500 303px,#b53a00 315px,#bf2500 325px,#d00000 339px,#d20700 345px,#da2a00 355px,#df4100 363px,#e14b00 371px,#e24e00 381px,#e14c00 391px,#df4200 403px,#df3f00 417px,#dc3000 423px,#d20900 431px,#cc0800 433px,#b83400 435px,#8e6700 437px,#568400 439px,#229003 441px,#00960a 443px,#00961a 447px,#009629 455px,#009633 481px)"></i><i style="background:linear-gradient(#00962c 1px,#009623 53px,#009608 135px,#269003 161px,#159205 197px,#009609 205px,#009614 219px,#009608 251px,#3b8c00 275px,#7e7700 297px,#926200 305px,#b53b00 325px,#d10200 345px,#de3c00 363px,#e04800 373px,#e14b00 383px,#df3f00 403px,#de3c00 417px,#db2d00 423px,#d20700 431px,#c81000 433px,#b43c00 435px,#866f00 437px,#4e8600 439px,#1c9104 441px,#00960c 443px,#009620 449px,#009629 455px,#009633 481px)"></i><i style="background:linear-gradient(#00962f 1px,#009626 53px,#009608 145px,#179205 161px,#079507 197px,#039508 199px,#009609 201px,#009617 219px,#009612 239px,#009608 257px,#3b8c00 281px,#7e7700 303px,#ac4500 329px,#b53900 333px,#c21e00 343px,#ca0d00 345px,#d10400 347px,#dd3700 363px,#df4300 373px,#e04700 383px,#e04400 393px,#de3c00 403px,#dd3900 417px,#da2a00 423px,#d10400 431px,#c51800 433px,#ac4500 435px,#7f7600 437px,#458900 439px,#169205 441px,#00960d 443px,#009620 449px,#009629 455px,#009633 481px)"></i><i style="background:linear-gradient(#009631 1px,#009629 53px,#009609 153px,#079507 159px,#009608 179px,#00960a 197px,#009619 219px,#009614 241px,#009608 263px,#3a8c00 287px,#6b7d00 303px,#807600 313px,#936000 325px,#b43c00 339px,#b93200 343px,#c12000 345px,#ce0400 347px,#d20600 349px,#dc3100 363px,#de3e00 373px,#df4300 383px,#df4000 393px,#dd3900 403px,#dd3600 417px,#da2700 423px,#d10200 431px,#c12000 433px,#a44d00 435px,#767900 437px,#3e8b00 439px,#109306 441px,#00960e 443px,#009620 449px,#009629 455px,#009633 481px)"></i><i style="background:linear-gradient(#009632 1px,#00962a 59px,#00960a 159px,#00960e 197px,#00961c 219px,#009617 241px,#019608 269px,#3a8c00 293px,#5d8100 305px,#847100 325px,#ac4500 343px,#b83300 345px,#c61600 347px,#d00100 349px,#db2c00 363px,#de3b00 375px,#df3f00 385px,#dd3500 403px,#dc3300 417px,#d92400 423px,#d00000 431px,#bd2800 433px,#9d5600 435px,#6d7c00 437px,#378d01 439px,#0b9406 441px,#00960f 443px,#009621 449px,#009629 455px,#009633 481px)"></i><i style="background:linear-gradient(#009634 1px,#00962b 63px,#00960d 161px,#009611 197px,#00961e 219px,#00961a 241px,#019608 275px,#3b8c00 299px,#4b8700 305px,#737a00 325px,#827300 331px,#9c5700 343px,#ab4600 345px,#bd2800 347px,#ca0d00 349px,#d10300 351px,#da2600 363px,#dd3700 375px,#de3b00 385px,#dc3200 403px,#dc3000 417px,#da2800 421px,#d20800 429px,#cd0700 431px,#ba3000 433px,#965d00 435px,#657f00 437px,#318e01 439px,#079507 441px,#009610 443px,#00961c 447px,#009627 453px,#00962e 463px,#009633 481px)"></i></div>
<div id="cb"></div>
<div class="t" id="ta" style="left:185.7px;top:4.6px;font-size:13.3px"><span class="w" style="width:41.3px;letter-spacing:-1.52px">NEAR </span><span class="w" style="width:49.4px;letter-spacing:0.99px">X-Ray </span><span class="w" style="letter-spacing:0.28px">Analysis</span></div>
<div class="t" id="tb" style="left:393.9px;top:6.0px;font-size:11.7px"><span class="w" style="width:34.2px;letter-spacing:-0.16px">Date: </span><span class="w" style="width:28.7px;letter-spacing:-0.51px">Wed </span><span class="w" style="width:31.1px;letter-spacing:-0.13px">Jun  </span><span class="w" style="width:13.9px;letter-spacing:0.00px">6 </span><span class="w" style="width:56.2px;letter-spacing:0.54px">14:01:13 </span><span class="w" style="letter-spacing:-0.04px">2001</span></div>
<div class="t" id="t3" style="left:7.0px;top:21.7px;font-size:11.5px"><span class="w" style="letter-spacing:0.01px">256</span></div>
<div class="t" id="t4" style="left:17.6px;top:535.5px;font-size:11.5px"><span class="w" style="letter-spacing:0.00px">0</span></div>
<div class="t" id="t5" style="left:37.8px;top:546.1px;font-size:11.5px"><span class="w" style="letter-spacing:0.00px">0</span></div>
<div class="t" id="tc" style="left:247.5px;top:546.9px;font-size:11.5px"><span class="w" style="width:22.3px;letter-spacing:-0.61px">File </span><span class="w" style="letter-spacing:-0.51px">Time</span></div>
<div class="t" id="t7" style="left:502.3px;top:545.9px;font-size:11.5px"><span class="w" style="letter-spacing:-0.30px">1723</span></div>
<div class="t" id="td" style="left:21.9px;top:631.7px;font-size:11.7px"><span class="w" style="width:42.3px;letter-spacing:-0.55px">LOG10 </span><span class="w" style="width:68.2px;letter-spacing:0.21px">Normalized </span><span class="w" style="width:79.0px;letter-spacing:0.60px">Spectrogram </span><span class="w" style="letter-spacing:-0.01px">Scale</span></div>
<div class="t" id="t10" style="left:21.6px;top:668.1px;font-size:11.7px"><span class="w" style="letter-spacing:0.72px">0.0</span></div>
<div class="t" id="t11" style="left:179.7px;top:668.1px;font-size:11.7px"><span class="w" style="letter-spacing:0.68px">0.5</span></div>
<div class="t" id="t12" style="left:343.2px;top:668.1px;font-size:11.7px"><span class="w" style="letter-spacing:-0.07px">1.0</span></div>
<div class="t" id="te" style="left:369.3px;top:639.2px;font-size:11.7px"><span class="w" style="width:37.1px;letter-spacing:-0.52px">Spect </span><span class="w" style="width:37.8px;letter-spacing:0.69px">type= </span><span class="w" style="width:42.4px;letter-spacing:-0.76px">ACTIVE </span><span class="w" style="width:51.2px;letter-spacing:-0.94px">SOLAR,  </span><span class="w" style="width:27.8px;letter-spacing:-0.26px">256 </span><span class="w" style="width:102.0px;letter-spacing:0.07px">Channels,        </span><span class="w" style="width:12.2px;letter-spacing:0.00px">1 </span><span class="w" style="letter-spacing:1.04px">ch/bin</span></div>
<div class="t" id="tf" style="left:369.3px;top:659.0px;font-size:11.7px"><span class="w" style="width:54.3px;letter-spacing:0.12px">Directory </span><span class="w" style="width:16.7px;letter-spacing:0.00px">= </span><span class="w" style="letter-spacing:1.29px">/near/xdr/XRS/2000/06-00/XSdaily-06_04_00out/</span></div>
<div class="t" id="tv" style="left:36.1px;top:300.8px;font-size:11.7px;transform-origin:0 0;transform:rotate(-90deg)"><span class="w" style="width:50.2px;letter-spacing:-0.19px">Channel </span><span class="w" style="width:13.8px;letter-spacing:0.00px"># </span><span class="w" style="letter-spacing:3.15px">----></span></div>
</body></html>
